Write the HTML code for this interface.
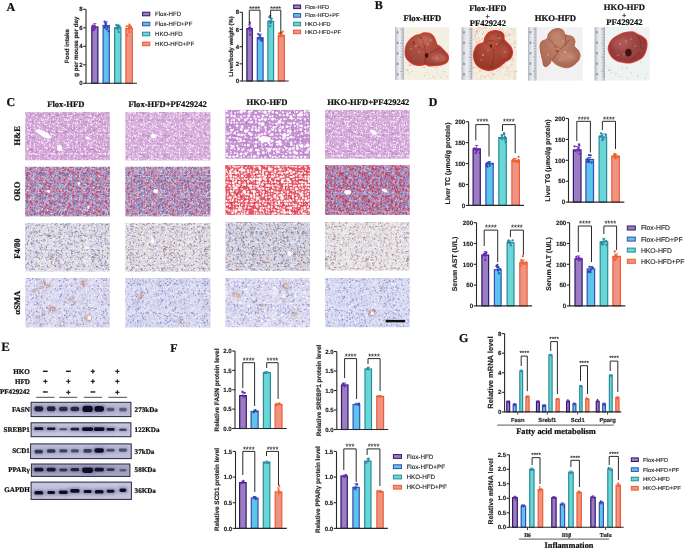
<!DOCTYPE html><html><head><meta charset="utf-8"><title>figure</title><style>html,body{margin:0;padding:0;background:#fff;}body{width:685px;height:548px;overflow:hidden;}svg{display:block;}</style></head><body>
<svg width="685" height="548" viewBox="0 0 685 548" text-rendering="geometricPrecision" style="will-change:transform">
<rect width="685" height="548" fill="#ffffff"/>
<defs>
<filter id="w1" x="0" y="0" width="1" height="1" filterUnits="objectBoundingBox" color-interpolation-filters="sRGB"><feTurbulence type="fractalNoise" baseFrequency="0.75" numOctaves="1" seed="3" result="n"/><feColorMatrix in="n" type="matrix" values="0 0 0 0 0  0 0 0 0 0  0 0 0 0 0  5 0 0 0 -2.85" result="m"/><feGaussianBlur in="m" stdDeviation="0.35" result="mb"/><feComposite in="SourceGraphic" in2="mb" operator="in"/></filter>
<filter id="w2" x="0" y="0" width="1" height="1" filterUnits="objectBoundingBox" color-interpolation-filters="sRGB"><feTurbulence type="fractalNoise" baseFrequency="0.45" numOctaves="1" seed="5" result="n"/><feColorMatrix in="n" type="matrix" values="0 0 0 0 0  0 0 0 0 0  0 0 0 0 0  6 0 0 0 -3.3" result="m"/><feGaussianBlur in="m" stdDeviation="0.4" result="mb"/><feComposite in="SourceGraphic" in2="mb" operator="in"/></filter>
<filter id="w3" x="0" y="0" width="1" height="1" filterUnits="objectBoundingBox" color-interpolation-filters="sRGB"><feTurbulence type="fractalNoise" baseFrequency="0.55" numOctaves="1" seed="9" result="n"/><feColorMatrix in="n" type="matrix" values="0 0 0 0 0  0 0 0 0 0  0 0 0 0 0  5 0 0 0 -2.8" result="m"/><feGaussianBlur in="m" stdDeviation="0.35" result="mb"/><feComposite in="SourceGraphic" in2="mb" operator="in"/></filter>
<filter id="d1" x="0" y="0" width="1" height="1" filterUnits="objectBoundingBox" color-interpolation-filters="sRGB"><feTurbulence type="fractalNoise" baseFrequency="0.8" numOctaves="1" seed="11" result="n"/><feColorMatrix in="n" type="matrix" values="0 0 0 0 0  0 0 0 0 0  0 0 0 0 0  0 5 0 0 -2.8" result="m"/><feGaussianBlur in="m" stdDeviation="0.35" result="mb"/><feComposite in="SourceGraphic" in2="mb" operator="in"/></filter>
<filter id="d2" x="0" y="0" width="1" height="1" filterUnits="objectBoundingBox" color-interpolation-filters="sRGB"><feTurbulence type="fractalNoise" baseFrequency="0.65" numOctaves="1" seed="13" result="n"/><feColorMatrix in="n" type="matrix" values="0 0 0 0 0  0 0 0 0 0  0 0 0 0 0  0 5 0 0 -2.7" result="m"/><feGaussianBlur in="m" stdDeviation="0.4" result="mb"/><feComposite in="SourceGraphic" in2="mb" operator="in"/></filter>
<filter id="r1" x="0" y="0" width="1" height="1" filterUnits="objectBoundingBox" color-interpolation-filters="sRGB"><feTurbulence type="fractalNoise" baseFrequency="0.7" numOctaves="1" seed="17" result="n"/><feColorMatrix in="n" type="matrix" values="0 0 0 0 0  0 0 0 0 0  0 0 0 0 0  0 0 5 0 -2.7" result="m"/><feGaussianBlur in="m" stdDeviation="0.35" result="mb"/><feComposite in="SourceGraphic" in2="mb" operator="in"/></filter>
<filter id="r2" x="0" y="0" width="1" height="1" filterUnits="objectBoundingBox" color-interpolation-filters="sRGB"><feTurbulence type="fractalNoise" baseFrequency="0.5" numOctaves="1" seed="23" result="n"/><feColorMatrix in="n" type="matrix" values="0 0 0 0 0  0 0 0 0 0  0 0 0 0 0  0 0 5 0 -2.3" result="m"/><feGaussianBlur in="m" stdDeviation="0.4" result="mb"/><feComposite in="SourceGraphic" in2="mb" operator="in"/></filter>
<filter id="br" x="0" y="0" width="1" height="1" filterUnits="objectBoundingBox" color-interpolation-filters="sRGB"><feTurbulence type="fractalNoise" baseFrequency="0.25 0.6" numOctaves="1" seed="29" result="n"/><feColorMatrix in="n" type="matrix" values="0 0 0 0 0  0 0 0 0 0  0 0 0 0 0  5 0 0 0 -3.0" result="m"/><feGaussianBlur in="m" stdDeviation="0.45" result="mb"/><feComposite in="SourceGraphic" in2="mb" operator="in"/></filter>
<pattern id="pw" patternUnits="userSpaceOnUse" width="23" height="23"><g fill="#ffffff"><circle cx="13.37" cy="4.48" r="0.74"/><circle cx="21.25" cy="10.74" r="0.62"/><circle cx="4.93" cy="5.1" r="0.47"/><circle cx="15.93" cy="4.88" r="0.74"/><circle cx="1.62" cy="4.45" r="0.39"/><circle cx="17.71" cy="8.43" r="0.54"/><circle cx="7.5" cy="14.66" r="0.51"/><circle cx="4.79" cy="9.89" r="0.47"/><circle cx="2.55" cy="18.94" r="0.62"/><circle cx="15.29" cy="20.3" r="0.51"/><circle cx="8.72" cy="9.73" r="0.51"/><circle cx="15.39" cy="0.15" r="0.54"/><circle cx="15.39" cy="23.15" r="0.54"/><circle cx="12.31" cy="7.95" r="0.36"/><circle cx="16.21" cy="0.22" r="0.58"/><circle cx="16.21" cy="23.22" r="0.58"/><circle cx="3.53" cy="0.8" r="0.42"/><circle cx="1.51" cy="3.47" r="0.62"/><circle cx="16.75" cy="8.34" r="0.61"/><circle cx="10.93" cy="11.46" r="0.7"/><circle cx="7.16" cy="20.01" r="0.63"/><circle cx="15.72" cy="0.14" r="0.38"/><circle cx="15.72" cy="23.14" r="0.38"/><circle cx="0.74" cy="7.95" r="0.73"/><circle cx="23.74" cy="7.95" r="0.73"/><circle cx="20.14" cy="19.29" r="0.4"/><circle cx="16.23" cy="17.81" r="0.67"/><circle cx="18.22" cy="3.23" r="0.42"/><circle cx="18.23" cy="16.98" r="0.71"/><circle cx="10.27" cy="20.46" r="0.41"/><circle cx="22.01" cy="20.34" r="0.49"/><circle cx="1.55" cy="12.62" r="0.63"/><circle cx="8.06" cy="1.32" r="0.46"/><circle cx="18.96" cy="2.08" r="0.72"/><circle cx="5.75" cy="4.7" r="0.39"/><circle cx="-0.44" cy="20.72" r="0.48"/><circle cx="22.56" cy="20.72" r="0.48"/><circle cx="2.2" cy="15.03" r="0.71"/><circle cx="0.28" cy="14.56" r="0.69"/><circle cx="23.28" cy="14.56" r="0.69"/><circle cx="10.55" cy="13.1" r="0.67"/><circle cx="5.49" cy="6.28" r="0.61"/><circle cx="12.7" cy="12.31" r="0.48"/><circle cx="21.55" cy="6.63" r="0.62"/><circle cx="20.57" cy="9.22" r="0.37"/><circle cx="5.07" cy="1.52" r="0.41"/><circle cx="2.77" cy="7.88" r="0.5"/><circle cx="10.29" cy="15.3" r="0.62"/><circle cx="15.81" cy="8.38" r="0.62"/><circle cx="12.65" cy="2.93" r="0.57"/><circle cx="7.32" cy="15.55" r="0.64"/><circle cx="5.54" cy="10.01" r="0.53"/><circle cx="6.83" cy="0.93" r="0.37"/><circle cx="-0.17" cy="17.02" r="0.53"/><circle cx="22.83" cy="17.02" r="0.53"/><circle cx="15.33" cy="6.19" r="0.63"/><circle cx="21.87" cy="17.78" r="0.54"/><circle cx="-0.38" cy="21.21" r="0.37"/><circle cx="22.62" cy="21.21" r="0.37"/><circle cx="9.47" cy="10.4" r="0.46"/><circle cx="14.18" cy="3.3" r="0.65"/><circle cx="19.73" cy="1.42" r="0.63"/><circle cx="6.12" cy="14.68" r="0.63"/><circle cx="-0.54" cy="18.36" r="0.49"/><circle cx="22.46" cy="18.36" r="0.49"/><circle cx="16.79" cy="3.38" r="0.64"/><circle cx="9.59" cy="6.1" r="0.45"/><circle cx="4.99" cy="18.32" r="0.39"/><circle cx="5.34" cy="4.42" r="0.41"/></g></pattern>
<pattern id="pw2" patternUnits="userSpaceOnUse" width="19" height="19"><g fill="#ffffff"><circle cx="14.51" cy="12.25" r="0.49"/><circle cx="3.76" cy="12.86" r="0.69"/><circle cx="8.13" cy="16.17" r="0.36"/><circle cx="10.03" cy="3.83" r="0.52"/><circle cx="11.61" cy="16.26" r="0.53"/><circle cx="16.51" cy="6.21" r="0.39"/><circle cx="8.83" cy="13.59" r="0.6"/><circle cx="0.7" cy="4.72" r="0.44"/><circle cx="19.7" cy="4.72" r="0.44"/><circle cx="8.96" cy="16.37" r="0.44"/><circle cx="0.87" cy="17.06" r="0.65"/><circle cx="14.64" cy="0.74" r="0.44"/><circle cx="3.36" cy="17.38" r="0.39"/><circle cx="2.42" cy="4.19" r="0.63"/><circle cx="3.76" cy="-0.32" r="0.46"/><circle cx="3.76" cy="18.68" r="0.46"/><circle cx="12.35" cy="3.65" r="0.45"/><circle cx="16.44" cy="-0.05" r="0.43"/><circle cx="16.44" cy="18.95" r="0.43"/><circle cx="6.64" cy="1.09" r="0.42"/><circle cx="7.3" cy="9.9" r="0.55"/><circle cx="6.64" cy="3" r="0.54"/><circle cx="6.63" cy="6.56" r="0.69"/><circle cx="11.16" cy="0.29" r="0.68"/><circle cx="11.16" cy="19.29" r="0.68"/><circle cx="-0.58" cy="7.41" r="0.69"/><circle cx="18.42" cy="7.41" r="0.69"/><circle cx="2" cy="17.45" r="0.41"/><circle cx="16.42" cy="12.87" r="0.69"/><circle cx="5.74" cy="12.42" r="0.68"/><circle cx="2.45" cy="3.52" r="0.54"/><circle cx="2.54" cy="1.04" r="0.36"/><circle cx="6.59" cy="12.35" r="0.51"/><circle cx="11.48" cy="0.5" r="0.39"/><circle cx="11.48" cy="19.5" r="0.39"/><circle cx="10.74" cy="2.98" r="0.35"/><circle cx="1.17" cy="12.39" r="0.69"/><circle cx="9.43" cy="0.12" r="0.42"/><circle cx="9.43" cy="19.12" r="0.42"/><circle cx="12.94" cy="15.06" r="0.42"/><circle cx="8.88" cy="0.69" r="0.54"/><circle cx="8.88" cy="19.69" r="0.54"/><circle cx="14.37" cy="9.49" r="0.62"/><circle cx="4.45" cy="12.65" r="0.51"/><circle cx="11.47" cy="1.38" r="0.51"/><circle cx="11.78" cy="4.45" r="0.54"/><circle cx="0.37" cy="7.94" r="0.68"/><circle cx="19.37" cy="7.94" r="0.68"/><circle cx="12.29" cy="9.62" r="0.65"/></g></pattern>
<pattern id="pwl" patternUnits="userSpaceOnUse" width="28" height="28"><g fill="#ffffff"><circle cx="1" cy="6.46" r="1.56"/><circle cx="29" cy="6.46" r="1.56"/><circle cx="1.79" cy="8.5" r="1.16"/><circle cx="2.55" cy="11.65" r="1.26"/><circle cx="1.98" cy="14.82" r="1.14"/><circle cx="2.79" cy="20.04" r="1.36"/><circle cx="2.82" cy="22.09" r="1.1"/><circle cx="1.97" cy="-1.03" r="1.38"/><circle cx="1.97" cy="26.97" r="1.38"/><circle cx="5.75" cy="2.13" r="1.04"/><circle cx="6.45" cy="5.82" r="1.6"/><circle cx="6.17" cy="9.38" r="1.46"/><circle cx="4.34" cy="13.08" r="1.11"/><circle cx="6.23" cy="15.73" r="1.05"/><circle cx="6.17" cy="20.09" r="1.6"/><circle cx="6" cy="22.71" r="0.99"/><circle cx="4.12" cy="-0.65" r="1.33"/><circle cx="4.12" cy="27.35" r="1.33"/><circle cx="7.93" cy="2.28" r="0.9"/><circle cx="7.79" cy="4.36" r="1.04"/><circle cx="7.59" cy="9.62" r="1.32"/><circle cx="9.28" cy="11.18" r="1.04"/><circle cx="9.62" cy="16.18" r="0.88"/><circle cx="7.9" cy="18.48" r="1.28"/><circle cx="8.04" cy="26.13" r="1.11"/><circle cx="11.86" cy="1.7" r="1.34"/><circle cx="12.32" cy="4.75" r="1.15"/><circle cx="12.26" cy="11.42" r="1.09"/><circle cx="12.22" cy="16.07" r="1.04"/><circle cx="11.39" cy="20.28" r="1.11"/><circle cx="11.85" cy="23.84" r="1.37"/><circle cx="13.45" cy="26.16" r="1.45"/><circle cx="15.15" cy="4.84" r="1.35"/><circle cx="15.88" cy="8.31" r="1.14"/><circle cx="14.59" cy="11.08" r="1.33"/><circle cx="15.19" cy="18.09" r="1.14"/><circle cx="16.63" cy="21.63" r="1.59"/><circle cx="16.63" cy="25.46" r="1.09"/><circle cx="19.83" cy="2.28" r="1.06"/><circle cx="19.81" cy="5.77" r="1.17"/><circle cx="19.37" cy="9.43" r="1.54"/><circle cx="20.28" cy="18.83" r="1.13"/><circle cx="19.37" cy="22.63" r="1.46"/><circle cx="19.9" cy="25.36" r="1.41"/><circle cx="22.77" cy="0.86" r="1.5"/><circle cx="22.77" cy="28.86" r="1.5"/><circle cx="23.4" cy="5.3" r="0.86"/><circle cx="23.36" cy="7.77" r="0.98"/><circle cx="22.64" cy="12.42" r="1.16"/><circle cx="21.84" cy="22.52" r="1.14"/><circle cx="21.6" cy="-1.34" r="1.04"/><circle cx="21.6" cy="26.66" r="1.04"/><circle cx="25.86" cy="0.71" r="1.39"/><circle cx="25.86" cy="28.71" r="1.39"/><circle cx="25.82" cy="7.8" r="1.29"/><circle cx="-0.55" cy="11.55" r="0.92"/><circle cx="27.45" cy="11.55" r="0.92"/><circle cx="25.69" cy="16.06" r="1.27"/><circle cx="-1.52" cy="20.01" r="0.99"/><circle cx="26.48" cy="20.01" r="0.99"/><circle cx="26.21" cy="23.39" r="1.33"/><circle cx="26.01" cy="-1.47" r="0.99"/><circle cx="26.01" cy="26.53" r="0.99"/></g></pattern>
<pattern id="pp" patternUnits="userSpaceOnUse" width="21" height="21"><g fill="#a062bc"><circle cx="1.84" cy="8.52" r="0.3"/><circle cx="1.96" cy="12.53" r="0.4"/><circle cx="8.32" cy="2.1" r="0.56"/><circle cx="14.02" cy="10.08" r="0.46"/><circle cx="3.76" cy="12.3" r="0.52"/><circle cx="3.86" cy="2.97" r="0.45"/><circle cx="2.78" cy="8.58" r="0.38"/><circle cx="0.96" cy="7.13" r="0.54"/><circle cx="11.47" cy="4.37" r="0.32"/><circle cx="1.98" cy="-0.21" r="0.53"/><circle cx="1.98" cy="20.79" r="0.53"/><circle cx="12.65" cy="11.49" r="0.56"/><circle cx="2.32" cy="16.37" r="0.55"/><circle cx="6.22" cy="15.34" r="0.4"/><circle cx="13.92" cy="5.29" r="0.36"/><circle cx="-0.32" cy="4.45" r="0.37"/><circle cx="20.68" cy="4.45" r="0.37"/><circle cx="5.42" cy="10.63" r="0.36"/><circle cx="0.9" cy="7.44" r="0.44"/><circle cx="0.24" cy="-0.3" r="0.33"/><circle cx="0.24" cy="20.7" r="0.33"/><circle cx="21.24" cy="-0.3" r="0.33"/><circle cx="21.24" cy="20.7" r="0.33"/><circle cx="10.79" cy="20.29" r="0.54"/><circle cx="18.66" cy="19.87" r="0.5"/><circle cx="11.58" cy="11.94" r="0.38"/><circle cx="19.72" cy="9.83" r="0.51"/><circle cx="3.92" cy="1.8" r="0.47"/><circle cx="-0.4" cy="9.01" r="0.38"/><circle cx="20.6" cy="9.01" r="0.38"/><circle cx="8.58" cy="-0.41" r="0.37"/><circle cx="8.58" cy="20.59" r="0.37"/><circle cx="8.62" cy="14.57" r="0.38"/><circle cx="9.89" cy="4.4" r="0.54"/><circle cx="2.01" cy="2.85" r="0.42"/><circle cx="15.96" cy="16.65" r="0.58"/><circle cx="9.05" cy="2.3" r="0.45"/><circle cx="15.71" cy="9.79" r="0.5"/><circle cx="9.87" cy="11.02" r="0.57"/><circle cx="8.17" cy="11.03" r="0.44"/><circle cx="-0.52" cy="19.2" r="0.41"/><circle cx="20.48" cy="19.2" r="0.41"/><circle cx="9.38" cy="7.73" r="0.33"/><circle cx="8.87" cy="12.44" r="0.41"/><circle cx="10.76" cy="3.15" r="0.57"/><circle cx="14.69" cy="0.3" r="0.39"/><circle cx="14.69" cy="21.3" r="0.39"/><circle cx="14.87" cy="18.61" r="0.48"/><circle cx="1.63" cy="11.08" r="0.31"/><circle cx="2.98" cy="5.24" r="0.49"/><circle cx="7.03" cy="2.59" r="0.45"/><circle cx="15.29" cy="5.16" r="0.54"/><circle cx="0.1" cy="10.45" r="0.3"/><circle cx="21.1" cy="10.45" r="0.3"/><circle cx="14.93" cy="4.74" r="0.57"/><circle cx="17.04" cy="8.28" r="0.31"/><circle cx="2.97" cy="20.13" r="0.45"/><circle cx="17.9" cy="19.09" r="0.38"/><circle cx="14.3" cy="11.24" r="0.47"/><circle cx="7.37" cy="8.92" r="0.59"/><circle cx="15.03" cy="10.67" r="0.42"/><circle cx="8.6" cy="9.36" r="0.5"/><circle cx="13.05" cy="15.86" r="0.54"/><circle cx="3.35" cy="15.74" r="0.48"/><circle cx="9.78" cy="16.4" r="0.6"/><circle cx="12.36" cy="5.81" r="0.33"/><circle cx="12.48" cy="4.62" r="0.47"/><circle cx="-0.43" cy="18.28" r="0.35"/><circle cx="20.57" cy="18.28" r="0.35"/><circle cx="4.12" cy="12.79" r="0.35"/><circle cx="3.26" cy="5.06" r="0.45"/><circle cx="10.64" cy="5.14" r="0.33"/><circle cx="11.69" cy="3.61" r="0.38"/><circle cx="19.53" cy="-0.02" r="0.3"/><circle cx="19.53" cy="20.98" r="0.3"/><circle cx="17.63" cy="14.23" r="0.59"/><circle cx="14.57" cy="6.55" r="0.46"/><circle cx="11.29" cy="14.99" r="0.45"/><circle cx="11.76" cy="17.32" r="0.49"/><circle cx="12.08" cy="18.26" r="0.43"/><circle cx="5.59" cy="2.97" r="0.47"/><circle cx="6.5" cy="16.71" r="0.44"/></g></pattern>
<pattern id="pp2" patternUnits="userSpaceOnUse" width="17" height="17"><g fill="#8450b0"><circle cx="2.54" cy="14.35" r="0.37"/><circle cx="11.93" cy="5" r="0.5"/><circle cx="10.96" cy="1.03" r="0.54"/><circle cx="14.33" cy="6.88" r="0.43"/><circle cx="12.27" cy="12.69" r="0.51"/><circle cx="-0.54" cy="15.86" r="0.36"/><circle cx="16.46" cy="15.86" r="0.36"/><circle cx="0.34" cy="4.77" r="0.35"/><circle cx="17.34" cy="4.77" r="0.35"/><circle cx="12.97" cy="13.11" r="0.54"/><circle cx="14.57" cy="13.21" r="0.55"/><circle cx="12.61" cy="6.49" r="0.5"/><circle cx="13.98" cy="5.3" r="0.36"/><circle cx="3.15" cy="1.23" r="0.48"/><circle cx="-0.05" cy="13.67" r="0.45"/><circle cx="16.95" cy="13.67" r="0.45"/><circle cx="15.45" cy="6.84" r="0.39"/><circle cx="0.13" cy="2.9" r="0.47"/><circle cx="17.13" cy="2.9" r="0.47"/><circle cx="7.12" cy="-0.54" r="0.3"/><circle cx="7.12" cy="16.46" r="0.3"/><circle cx="14.78" cy="13.82" r="0.46"/><circle cx="10.54" cy="10.87" r="0.32"/><circle cx="6.68" cy="16.35" r="0.43"/><circle cx="1.91" cy="7.61" r="0.32"/><circle cx="11.5" cy="5.77" r="0.55"/><circle cx="15.84" cy="9.43" r="0.34"/><circle cx="8.48" cy="13.25" r="0.33"/><circle cx="4.45" cy="6.5" r="0.5"/><circle cx="3.07" cy="4.77" r="0.51"/><circle cx="4.7" cy="12.29" r="0.32"/><circle cx="8.26" cy="2.07" r="0.44"/><circle cx="2.97" cy="1.9" r="0.53"/><circle cx="12.3" cy="8.79" r="0.31"/><circle cx="8.19" cy="0.01" r="0.5"/><circle cx="8.19" cy="17.01" r="0.5"/><circle cx="8.48" cy="2.26" r="0.41"/><circle cx="14.35" cy="15.71" r="0.43"/><circle cx="10.9" cy="6.38" r="0.48"/><circle cx="7.48" cy="15.35" r="0.46"/><circle cx="2.23" cy="6.59" r="0.52"/><circle cx="2.5" cy="10.11" r="0.46"/><circle cx="3.06" cy="6.76" r="0.34"/><circle cx="0.73" cy="7.89" r="0.3"/><circle cx="2.76" cy="8.75" r="0.43"/><circle cx="5.29" cy="4.82" r="0.4"/></g></pattern>
<pattern id="pb" patternUnits="userSpaceOnUse" width="23" height="23"><g fill="#5464b0"><circle cx="16.91" cy="1.3" r="0.58"/><circle cx="15.18" cy="3.07" r="0.52"/><circle cx="3.76" cy="20.58" r="0.58"/><circle cx="0.43" cy="17.28" r="0.49"/><circle cx="23.43" cy="17.28" r="0.49"/><circle cx="2.24" cy="8.96" r="0.5"/><circle cx="21.92" cy="1.59" r="0.43"/><circle cx="17.81" cy="12.91" r="0.4"/><circle cx="9.88" cy="14.08" r="0.46"/><circle cx="17.29" cy="2.97" r="0.66"/><circle cx="13.24" cy="1.71" r="0.54"/><circle cx="-0.3" cy="8.36" r="0.38"/><circle cx="22.7" cy="8.36" r="0.38"/><circle cx="8.26" cy="1.7" r="0.37"/><circle cx="17.85" cy="21.48" r="0.46"/><circle cx="22.1" cy="11.46" r="0.46"/><circle cx="14.95" cy="22.18" r="0.57"/><circle cx="13.91" cy="11.55" r="0.36"/><circle cx="19.71" cy="10.47" r="0.61"/><circle cx="13.68" cy="11.98" r="0.47"/><circle cx="1.57" cy="9.8" r="0.54"/><circle cx="19.74" cy="3.2" r="0.62"/><circle cx="5.35" cy="17.82" r="0.63"/><circle cx="0.09" cy="-0.05" r="0.6"/><circle cx="0.09" cy="22.95" r="0.6"/><circle cx="23.09" cy="-0.05" r="0.6"/><circle cx="23.09" cy="22.95" r="0.6"/><circle cx="10.77" cy="12.88" r="0.48"/><circle cx="9.61" cy="2" r="0.56"/><circle cx="18.34" cy="9.47" r="0.5"/><circle cx="20.96" cy="8.21" r="0.38"/><circle cx="8.21" cy="14.92" r="0.49"/><circle cx="15.84" cy="19.06" r="0.58"/><circle cx="15.27" cy="17.12" r="0.67"/><circle cx="0.24" cy="0.65" r="0.65"/><circle cx="0.24" cy="23.65" r="0.65"/><circle cx="23.24" cy="0.65" r="0.65"/><circle cx="23.24" cy="23.65" r="0.65"/><circle cx="20.66" cy="1.47" r="0.42"/><circle cx="11.37" cy="1.25" r="0.57"/><circle cx="4.46" cy="15.21" r="0.37"/><circle cx="11.57" cy="9.97" r="0.39"/><circle cx="12.47" cy="11.19" r="0.63"/><circle cx="6.62" cy="16.28" r="0.57"/><circle cx="12.28" cy="17.1" r="0.62"/><circle cx="17.29" cy="17.49" r="0.58"/><circle cx="13.02" cy="8.84" r="0.43"/><circle cx="3.56" cy="20.1" r="0.6"/><circle cx="13.17" cy="20.36" r="0.45"/><circle cx="1.08" cy="9.05" r="0.69"/><circle cx="11.49" cy="17.73" r="0.68"/><circle cx="20.15" cy="13.61" r="0.67"/><circle cx="9.49" cy="18.98" r="0.48"/><circle cx="8.09" cy="12.96" r="0.53"/><circle cx="14.49" cy="16.57" r="0.65"/><circle cx="15.26" cy="17.45" r="0.37"/><circle cx="11.03" cy="1.71" r="0.51"/><circle cx="5.51" cy="1.49" r="0.51"/><circle cx="18.13" cy="9.29" r="0.67"/><circle cx="3.02" cy="0.89" r="0.38"/><circle cx="13.73" cy="-0.14" r="0.67"/><circle cx="13.73" cy="22.86" r="0.67"/><circle cx="4.34" cy="14.92" r="0.42"/><circle cx="2.16" cy="19.5" r="0.51"/><circle cx="0.88" cy="8.17" r="0.55"/><circle cx="20.25" cy="18.47" r="0.53"/><circle cx="-0.33" cy="7.94" r="0.68"/><circle cx="22.67" cy="7.94" r="0.68"/><circle cx="19" cy="10.85" r="0.46"/><circle cx="11.06" cy="11.67" r="0.68"/><circle cx="12.79" cy="18.56" r="0.63"/><circle cx="12.64" cy="20.18" r="0.67"/><circle cx="4.21" cy="-0.47" r="0.53"/><circle cx="4.21" cy="22.53" r="0.53"/><circle cx="10.93" cy="11.66" r="0.52"/><circle cx="20.79" cy="5.7" r="0.42"/><circle cx="6.73" cy="8.93" r="0.38"/><circle cx="12.38" cy="0.3" r="0.48"/><circle cx="12.38" cy="23.3" r="0.48"/><circle cx="12.9" cy="3.38" r="0.68"/><circle cx="12.17" cy="21.17" r="0.57"/><circle cx="19.15" cy="15.92" r="0.4"/><circle cx="0.3" cy="7.4" r="0.41"/><circle cx="23.3" cy="7.4" r="0.41"/><circle cx="7.73" cy="14.81" r="0.49"/><circle cx="13.45" cy="8.33" r="0.65"/><circle cx="20.25" cy="18.92" r="0.58"/><circle cx="7.52" cy="22.09" r="0.43"/></g></pattern>
<pattern id="pr" patternUnits="userSpaceOnUse" width="19" height="19"><g fill="#d42a3a"><circle cx="0.34" cy="12.02" r="0.41"/><circle cx="19.34" cy="12.02" r="0.41"/><circle cx="14.22" cy="8.81" r="0.3"/><circle cx="16.82" cy="10.02" r="0.57"/><circle cx="17.48" cy="2.13" r="0.45"/><circle cx="12.06" cy="5.31" r="0.44"/><circle cx="16.44" cy="11.37" r="0.39"/><circle cx="12.29" cy="5.21" r="0.51"/><circle cx="8.44" cy="10.5" r="0.43"/><circle cx="11.65" cy="9.4" r="0.33"/><circle cx="11.77" cy="8.63" r="0.45"/><circle cx="16" cy="11.62" r="0.46"/><circle cx="0.17" cy="11.94" r="0.41"/><circle cx="19.17" cy="11.94" r="0.41"/><circle cx="11.43" cy="0.11" r="0.47"/><circle cx="11.43" cy="19.11" r="0.47"/><circle cx="8.83" cy="15.45" r="0.32"/><circle cx="5.73" cy="3.01" r="0.6"/><circle cx="10.19" cy="16.39" r="0.47"/><circle cx="3.79" cy="17.49" r="0.47"/><circle cx="8.36" cy="15.31" r="0.33"/><circle cx="16.57" cy="14.42" r="0.3"/><circle cx="16.33" cy="11.96" r="0.61"/><circle cx="10.24" cy="12.75" r="0.56"/><circle cx="14.09" cy="11.31" r="0.39"/><circle cx="4.3" cy="6.97" r="0.48"/><circle cx="6.8" cy="11.42" r="0.46"/><circle cx="3.8" cy="0.72" r="0.41"/><circle cx="16.3" cy="6.57" r="0.33"/><circle cx="1.36" cy="-0.04" r="0.31"/><circle cx="1.36" cy="18.96" r="0.31"/><circle cx="1.67" cy="1.22" r="0.61"/><circle cx="1.99" cy="2.85" r="0.42"/><circle cx="12.93" cy="-0.12" r="0.59"/><circle cx="12.93" cy="18.88" r="0.59"/><circle cx="5.54" cy="12.44" r="0.33"/><circle cx="13.94" cy="0.86" r="0.39"/><circle cx="4.34" cy="17.65" r="0.41"/><circle cx="8.21" cy="5.48" r="0.46"/><circle cx="5.56" cy="14.52" r="0.37"/><circle cx="10.25" cy="13.78" r="0.56"/><circle cx="7.12" cy="7.46" r="0.55"/><circle cx="0.03" cy="13.28" r="0.34"/><circle cx="19.03" cy="13.28" r="0.34"/><circle cx="5.67" cy="0.1" r="0.52"/><circle cx="5.67" cy="19.1" r="0.52"/><circle cx="0.52" cy="5.39" r="0.56"/><circle cx="19.52" cy="5.39" r="0.56"/><circle cx="17.07" cy="17.3" r="0.31"/><circle cx="9.22" cy="5.63" r="0.45"/><circle cx="10.25" cy="8.03" r="0.49"/><circle cx="4.7" cy="16.98" r="0.36"/><circle cx="10.29" cy="8.73" r="0.52"/><circle cx="13.65" cy="0.94" r="0.6"/><circle cx="0.5" cy="6.34" r="0.33"/><circle cx="19.5" cy="6.34" r="0.33"/><circle cx="-0.24" cy="4.96" r="0.56"/><circle cx="18.76" cy="4.96" r="0.56"/><circle cx="14.03" cy="7.86" r="0.5"/><circle cx="17.44" cy="9.25" r="0.33"/><circle cx="10.27" cy="8.53" r="0.56"/><circle cx="14.22" cy="8.03" r="0.33"/><circle cx="0.49" cy="0.91" r="0.61"/><circle cx="19.49" cy="0.91" r="0.61"/><circle cx="1.94" cy="7.55" r="0.58"/><circle cx="15.51" cy="15.25" r="0.54"/><circle cx="14.26" cy="6.97" r="0.41"/><circle cx="3.12" cy="8.8" r="0.48"/><circle cx="18.19" cy="14.89" r="0.56"/><circle cx="2.1" cy="8.77" r="0.46"/><circle cx="13.24" cy="9.86" r="0.52"/></g></pattern>
<pattern id="pr2" patternUnits="userSpaceOnUse" width="23" height="23"><g fill="#e0283a"><circle cx="8.38" cy="14.95" r="0.76"/><circle cx="10.12" cy="21.56" r="0.52"/><circle cx="8.07" cy="11.2" r="0.52"/><circle cx="12.29" cy="18" r="0.41"/><circle cx="1.57" cy="17.53" r="0.42"/><circle cx="2.43" cy="21.77" r="0.51"/><circle cx="6.26" cy="13" r="0.44"/><circle cx="13.56" cy="-0.76" r="0.42"/><circle cx="13.56" cy="22.24" r="0.42"/><circle cx="16.82" cy="19.12" r="0.76"/><circle cx="13.08" cy="11.66" r="0.87"/><circle cx="17.73" cy="18.19" r="0.64"/><circle cx="0.21" cy="5.39" r="0.86"/><circle cx="23.21" cy="5.39" r="0.86"/><circle cx="17.52" cy="14.24" r="0.85"/><circle cx="21.89" cy="11.75" r="0.87"/><circle cx="2.47" cy="11.8" r="0.61"/><circle cx="13.58" cy="3.18" r="0.67"/><circle cx="9.75" cy="4.47" r="0.66"/><circle cx="14.78" cy="13.04" r="0.4"/><circle cx="12.55" cy="20.99" r="0.64"/><circle cx="10.72" cy="16.84" r="0.45"/><circle cx="7.12" cy="18.23" r="0.74"/><circle cx="13.79" cy="19.28" r="0.89"/><circle cx="14.17" cy="8.45" r="0.81"/><circle cx="12.31" cy="10.12" r="0.55"/><circle cx="11.02" cy="-0.18" r="0.81"/><circle cx="11.02" cy="22.82" r="0.81"/><circle cx="8.22" cy="9.51" r="0.49"/><circle cx="4.73" cy="2.85" r="0.82"/><circle cx="17.1" cy="4.2" r="0.44"/><circle cx="16.75" cy="13" r="0.75"/><circle cx="3.01" cy="5.69" r="0.9"/><circle cx="0.1" cy="13.24" r="0.41"/><circle cx="23.1" cy="13.24" r="0.41"/><circle cx="2.18" cy="2.14" r="0.65"/><circle cx="13.83" cy="4.11" r="0.71"/><circle cx="16.39" cy="20.76" r="0.73"/><circle cx="3.42" cy="11.32" r="0.89"/><circle cx="8.59" cy="14" r="0.56"/><circle cx="0.4" cy="11.65" r="0.51"/><circle cx="23.4" cy="11.65" r="0.51"/><circle cx="-0.27" cy="10.89" r="0.85"/><circle cx="22.73" cy="10.89" r="0.85"/><circle cx="18.6" cy="8.21" r="0.58"/><circle cx="3.96" cy="2.61" r="0.81"/><circle cx="0.9" cy="6.06" r="0.6"/><circle cx="16.31" cy="6.87" r="0.41"/><circle cx="5.86" cy="13.85" r="0.81"/><circle cx="4.38" cy="11.05" r="0.5"/><circle cx="9.37" cy="0.73" r="0.82"/><circle cx="9.37" cy="23.73" r="0.82"/><circle cx="12" cy="4.13" r="0.6"/><circle cx="5.75" cy="19.89" r="0.53"/><circle cx="0.24" cy="6.08" r="0.43"/><circle cx="23.24" cy="6.08" r="0.43"/><circle cx="13.64" cy="6.75" r="0.81"/><circle cx="15.83" cy="6.12" r="0.51"/><circle cx="7.79" cy="19.88" r="0.74"/><circle cx="7.72" cy="3.97" r="0.77"/><circle cx="21.61" cy="21.2" r="0.73"/><circle cx="-0.1" cy="11.85" r="0.82"/><circle cx="22.9" cy="11.85" r="0.82"/><circle cx="20.06" cy="4.9" r="0.89"/><circle cx="17.95" cy="0.79" r="0.7"/><circle cx="17.95" cy="23.79" r="0.7"/><circle cx="20.33" cy="17.23" r="0.74"/><circle cx="12.74" cy="6.1" r="0.67"/><circle cx="16.04" cy="11.21" r="0.68"/><circle cx="8.21" cy="21" r="0.61"/><circle cx="11.15" cy="2.95" r="0.52"/><circle cx="3.27" cy="2.15" r="0.48"/><circle cx="5.85" cy="1.13" r="0.72"/><circle cx="9.36" cy="16.83" r="0.65"/><circle cx="18.14" cy="20.58" r="0.79"/><circle cx="12.96" cy="19.39" r="0.81"/><circle cx="1.11" cy="1.74" r="0.42"/><circle cx="12.75" cy="5.46" r="0.86"/><circle cx="8.17" cy="17.47" r="0.87"/><circle cx="13.53" cy="1.86" r="0.55"/><circle cx="14.17" cy="16.72" r="0.52"/><circle cx="13.02" cy="7.36" r="0.83"/><circle cx="20.55" cy="0.34" r="0.82"/><circle cx="20.55" cy="23.34" r="0.82"/><circle cx="21.34" cy="15.98" r="0.68"/><circle cx="9.14" cy="15.27" r="0.69"/><circle cx="5.44" cy="2.28" r="0.59"/><circle cx="6.04" cy="11.43" r="0.69"/><circle cx="10.13" cy="15.12" r="0.66"/><circle cx="10.03" cy="0.81" r="0.65"/><circle cx="10.03" cy="23.81" r="0.65"/><circle cx="15.28" cy="11.46" r="0.4"/><circle cx="15.74" cy="7.7" r="0.58"/><circle cx="14.62" cy="13.15" r="0.63"/><circle cx="2.24" cy="13.85" r="0.88"/><circle cx="9.31" cy="2.83" r="0.82"/><circle cx="-0.6" cy="12.54" r="0.45"/><circle cx="22.4" cy="12.54" r="0.45"/><circle cx="18.8" cy="14.61" r="0.83"/><circle cx="7.9" cy="8.9" r="0.48"/><circle cx="16.59" cy="11.45" r="0.74"/><circle cx="9.17" cy="16.48" r="0.83"/><circle cx="11.14" cy="3.93" r="0.51"/><circle cx="8.39" cy="17.48" r="0.42"/><circle cx="4.59" cy="15.28" r="0.51"/><circle cx="4.59" cy="18.2" r="0.7"/><circle cx="15.67" cy="6.69" r="0.55"/><circle cx="4.79" cy="2.8" r="0.64"/><circle cx="17.39" cy="4.59" r="0.72"/><circle cx="4.58" cy="3.45" r="0.52"/><circle cx="16.38" cy="21.64" r="0.62"/><circle cx="0.95" cy="5.28" r="0.42"/><circle cx="5.79" cy="11.24" r="0.69"/><circle cx="4.57" cy="12.04" r="0.73"/><circle cx="8.84" cy="15.02" r="0.46"/><circle cx="6.9" cy="19.03" r="0.86"/><circle cx="12.8" cy="0.93" r="0.48"/><circle cx="21.31" cy="21.72" r="0.63"/><circle cx="2.77" cy="0.76" r="0.84"/><circle cx="2.77" cy="23.76" r="0.84"/><circle cx="13.24" cy="6.29" r="0.51"/><circle cx="20.36" cy="1.53" r="0.79"/><circle cx="4.42" cy="12.36" r="0.84"/><circle cx="13.26" cy="17.87" r="0.72"/></g></pattern>
<pattern id="pnb" patternUnits="userSpaceOnUse" width="37" height="37"><g fill="#7585cf"><circle cx="7.62" cy="14.71" r="0.69"/><circle cx="8.76" cy="28.23" r="0.54"/><circle cx="13.88" cy="-0.28" r="0.6"/><circle cx="13.88" cy="36.72" r="0.6"/><circle cx="8.77" cy="22.94" r="0.69"/><circle cx="34.87" cy="2.38" r="0.63"/><circle cx="14.4" cy="8.67" r="0.69"/><circle cx="19.51" cy="1.67" r="0.73"/><circle cx="21.4" cy="13.56" r="0.49"/><circle cx="33.52" cy="9.88" r="0.51"/><circle cx="25.05" cy="5.05" r="0.54"/><circle cx="29.2" cy="9.75" r="0.46"/><circle cx="19.12" cy="24.52" r="0.49"/><circle cx="22.82" cy="4.77" r="0.45"/><circle cx="12.66" cy="7.42" r="0.53"/><circle cx="29.08" cy="0.68" r="0.62"/><circle cx="29.08" cy="37.68" r="0.62"/><circle cx="14.61" cy="10.32" r="0.53"/><circle cx="24.01" cy="18.7" r="0.46"/><circle cx="18.08" cy="31.48" r="0.55"/><circle cx="7.09" cy="5.72" r="0.7"/><circle cx="20.45" cy="3.53" r="0.47"/><circle cx="-0.6" cy="15.05" r="0.55"/><circle cx="36.4" cy="15.05" r="0.55"/><circle cx="29.21" cy="11.86" r="0.74"/><circle cx="17.86" cy="11.46" r="0.46"/><circle cx="25.24" cy="4.82" r="0.53"/><circle cx="17.35" cy="12.81" r="0.74"/><circle cx="21.85" cy="30.07" r="0.52"/><circle cx="31.5" cy="27.5" r="0.48"/><circle cx="20.89" cy="2.72" r="0.46"/><circle cx="26.68" cy="30.75" r="0.59"/><circle cx="27.25" cy="10.84" r="0.57"/><circle cx="28.11" cy="21.7" r="0.66"/><circle cx="23.77" cy="24.82" r="0.48"/><circle cx="18.37" cy="9.8" r="0.53"/><circle cx="10.07" cy="10.65" r="0.48"/><circle cx="7.77" cy="10.08" r="0.58"/><circle cx="12.4" cy="12.49" r="0.6"/><circle cx="7.75" cy="22.63" r="0.48"/><circle cx="27.52" cy="5.35" r="0.61"/><circle cx="5.37" cy="24.35" r="0.64"/><circle cx="15.81" cy="17.18" r="0.53"/><circle cx="9" cy="20.37" r="0.69"/><circle cx="21.8" cy="0.98" r="0.67"/><circle cx="1.05" cy="4.75" r="0.73"/><circle cx="16.3" cy="7.88" r="0.58"/><circle cx="21.61" cy="18.98" r="0.5"/><circle cx="35.84" cy="26.47" r="0.64"/><circle cx="9.41" cy="29.05" r="0.68"/><circle cx="24.89" cy="16.93" r="0.55"/><circle cx="9.37" cy="19.28" r="0.71"/><circle cx="12.06" cy="1.55" r="0.69"/><circle cx="20.68" cy="25.9" r="0.53"/><circle cx="23.72" cy="9.14" r="0.72"/><circle cx="16.16" cy="29.42" r="0.5"/><circle cx="21.76" cy="8.2" r="0.7"/><circle cx="25.5" cy="22.35" r="0.68"/><circle cx="0.5" cy="6.22" r="0.5"/><circle cx="37.5" cy="6.22" r="0.5"/><circle cx="12.88" cy="12.26" r="0.68"/><circle cx="3" cy="5.72" r="0.65"/><circle cx="11.77" cy="22.26" r="0.58"/><circle cx="0.56" cy="23.01" r="0.45"/><circle cx="37.56" cy="23.01" r="0.45"/><circle cx="21.78" cy="12.59" r="0.65"/><circle cx="12.9" cy="35.66" r="0.7"/><circle cx="23.82" cy="26.77" r="0.72"/><circle cx="26.88" cy="9.28" r="0.69"/><circle cx="4.44" cy="7.45" r="0.5"/><circle cx="15.19" cy="14.01" r="0.72"/><circle cx="31.37" cy="4.78" r="0.57"/><circle cx="34.87" cy="18.04" r="0.59"/><circle cx="34.11" cy="8.44" r="0.53"/><circle cx="24.85" cy="22.11" r="0.51"/><circle cx="17.61" cy="32.3" r="0.74"/><circle cx="9.23" cy="20.58" r="0.49"/><circle cx="21.07" cy="32.1" r="0.74"/><circle cx="-0.27" cy="4.34" r="0.71"/><circle cx="36.73" cy="4.34" r="0.71"/><circle cx="0.74" cy="6.76" r="0.47"/><circle cx="37.74" cy="6.76" r="0.47"/><circle cx="8.42" cy="30.65" r="0.74"/><circle cx="2.37" cy="5" r="0.52"/><circle cx="20.31" cy="1.71" r="0.49"/><circle cx="6.46" cy="10.78" r="0.51"/><circle cx="3.55" cy="22.68" r="0.71"/><circle cx="6.98" cy="15.74" r="0.48"/><circle cx="12.42" cy="23.83" r="0.68"/><circle cx="32.67" cy="4.79" r="0.52"/><circle cx="14.93" cy="19.9" r="0.62"/><circle cx="0.1" cy="10.02" r="0.56"/><circle cx="37.1" cy="10.02" r="0.56"/><circle cx="21.36" cy="13.64" r="0.52"/><circle cx="16.07" cy="28.12" r="0.71"/><circle cx="16.65" cy="33.39" r="0.51"/><circle cx="27.22" cy="24.59" r="0.49"/><circle cx="29.89" cy="15.84" r="0.67"/><circle cx="22.8" cy="-0.32" r="0.67"/><circle cx="22.8" cy="36.68" r="0.67"/><circle cx="31.62" cy="3.98" r="0.53"/><circle cx="22.87" cy="1.05" r="0.71"/><circle cx="22.83" cy="30.97" r="0.57"/><circle cx="14.54" cy="14.32" r="0.59"/><circle cx="22.68" cy="12.73" r="0.46"/><circle cx="7.57" cy="32.18" r="0.46"/><circle cx="26.06" cy="20.48" r="0.67"/><circle cx="16.79" cy="6.88" r="0.56"/><circle cx="26.16" cy="31.48" r="0.48"/><circle cx="19.59" cy="20.05" r="0.65"/><circle cx="15.99" cy="25.46" r="0.53"/><circle cx="9.22" cy="22.62" r="0.47"/><circle cx="8.97" cy="28.89" r="0.57"/><circle cx="31.57" cy="21.16" r="0.73"/><circle cx="31.88" cy="32.59" r="0.69"/><circle cx="11.73" cy="15.86" r="0.69"/><circle cx="30.27" cy="17.72" r="0.6"/><circle cx="0.68" cy="34.02" r="0.51"/><circle cx="37.68" cy="34.02" r="0.51"/><circle cx="24" cy="13.33" r="0.74"/></g></pattern>
<pattern id="pbr" patternUnits="userSpaceOnUse" width="41" height="41"><g fill="#7a4a32"><ellipse cx="27.51" cy="35.12" rx="0.78" ry="0.26" transform="rotate(31 27.51 35.12)"/><ellipse cx="3.41" cy="17.8" rx="0.74" ry="0.25" transform="rotate(138 3.41 17.8)"/><ellipse cx="17.91" cy="29.88" rx="0.76" ry="0.25" transform="rotate(117 17.91 29.88)"/><ellipse cx="34.19" cy="20.91" rx="0.9" ry="0.3" transform="rotate(132 34.19 20.91)"/><ellipse cx="-0.14" cy="23.6" rx="0.73" ry="0.24" transform="rotate(71 -0.14 23.6)"/><ellipse cx="40.86" cy="23.6" rx="0.73" ry="0.24" transform="rotate(121 40.86 23.6)"/><ellipse cx="19.58" cy="31.59" rx="0.84" ry="0.28" transform="rotate(110 19.58 31.59)"/><ellipse cx="3.13" cy="21.63" rx="0.93" ry="0.31" transform="rotate(35 3.13 21.63)"/><ellipse cx="11.7" cy="28.99" rx="0.73" ry="0.24" transform="rotate(7 11.7 28.99)"/><ellipse cx="20.72" cy="37.29" rx="1.14" ry="0.38" transform="rotate(73 20.72 37.29)"/><ellipse cx="32.28" cy="-0.04" rx="1.01" ry="0.34" transform="rotate(175 32.28 -0.04)"/><ellipse cx="32.28" cy="40.96" rx="1.01" ry="0.34" transform="rotate(92 32.28 40.96)"/><ellipse cx="7.82" cy="17.77" rx="1" ry="0.33" transform="rotate(17 7.82 17.77)"/><ellipse cx="0.69" cy="35.18" rx="1.1" ry="0.37" transform="rotate(34 0.69 35.18)"/><ellipse cx="41.69" cy="35.18" rx="1.1" ry="0.37" transform="rotate(173 41.69 35.18)"/><ellipse cx="1.15" cy="22.19" rx="0.95" ry="0.32" transform="rotate(62 1.15 22.19)"/><ellipse cx="23.32" cy="2.16" rx="1.08" ry="0.36" transform="rotate(24 23.32 2.16)"/><ellipse cx="9.36" cy="2.58" rx="0.99" ry="0.33" transform="rotate(119 9.36 2.58)"/><ellipse cx="23.33" cy="9.76" rx="0.91" ry="0.3" transform="rotate(142 23.33 9.76)"/><ellipse cx="8.37" cy="5.74" rx="1.12" ry="0.37" transform="rotate(102 8.37 5.74)"/><ellipse cx="3.65" cy="19.7" rx="1.12" ry="0.37" transform="rotate(7 3.65 19.7)"/><ellipse cx="1.63" cy="7.36" rx="0.96" ry="0.32" transform="rotate(36 1.63 7.36)"/><ellipse cx="29.94" cy="34.87" rx="1.08" ry="0.36" transform="rotate(129 29.94 34.87)"/><ellipse cx="1.02" cy="1.89" rx="0.96" ry="0.32" transform="rotate(64 1.02 1.89)"/><ellipse cx="42.02" cy="1.89" rx="0.96" ry="0.32" transform="rotate(85 42.02 1.89)"/><ellipse cx="4.66" cy="35.52" rx="1.13" ry="0.38" transform="rotate(111 4.66 35.52)"/><ellipse cx="34.08" cy="36.73" rx="0.68" ry="0.23" transform="rotate(118 34.08 36.73)"/><ellipse cx="38.57" cy="19.9" rx="0.87" ry="0.29" transform="rotate(13 38.57 19.9)"/><ellipse cx="37.34" cy="1.48" rx="1.01" ry="0.34" transform="rotate(21 37.34 1.48)"/><ellipse cx="4.39" cy="0" rx="0.98" ry="0.33" transform="rotate(144 4.39 0)"/><ellipse cx="4.39" cy="41" rx="0.98" ry="0.33" transform="rotate(136 4.39 41)"/><ellipse cx="3.59" cy="39.37" rx="0.92" ry="0.31" transform="rotate(22 3.59 39.37)"/><ellipse cx="26.09" cy="0.77" rx="0.88" ry="0.29" transform="rotate(137 26.09 0.77)"/><ellipse cx="26.09" cy="41.77" rx="0.88" ry="0.29" transform="rotate(64 26.09 41.77)"/><ellipse cx="0.92" cy="9.87" rx="0.76" ry="0.25" transform="rotate(77 0.92 9.87)"/><ellipse cx="41.92" cy="9.87" rx="0.76" ry="0.25" transform="rotate(23 41.92 9.87)"/><ellipse cx="25.96" cy="32.51" rx="1.11" ry="0.37" transform="rotate(166 25.96 32.51)"/><ellipse cx="13.03" cy="22.15" rx="0.79" ry="0.26" transform="rotate(132 13.03 22.15)"/><ellipse cx="20.18" cy="0.58" rx="0.87" ry="0.29" transform="rotate(125 20.18 0.58)"/><ellipse cx="20.18" cy="41.58" rx="0.87" ry="0.29" transform="rotate(114 20.18 41.58)"/><ellipse cx="25.83" cy="25.8" rx="0.87" ry="0.29" transform="rotate(65 25.83 25.8)"/><ellipse cx="6.96" cy="9.8" rx="0.89" ry="0.3" transform="rotate(171 6.96 9.8)"/><ellipse cx="36.89" cy="5.55" rx="0.95" ry="0.32" transform="rotate(115 36.89 5.55)"/><ellipse cx="10.06" cy="33.51" rx="0.77" ry="0.26" transform="rotate(173 10.06 33.51)"/><ellipse cx="39" cy="9.68" rx="1" ry="0.33" transform="rotate(23 39 9.68)"/><ellipse cx="21.22" cy="17.1" rx="1.09" ry="0.36" transform="rotate(48 21.22 17.1)"/><ellipse cx="23.98" cy="22.82" rx="0.97" ry="0.32" transform="rotate(41 23.98 22.82)"/><ellipse cx="15.65" cy="5.48" rx="1.09" ry="0.36" transform="rotate(63 15.65 5.48)"/><ellipse cx="29.82" cy="20.06" rx="0.67" ry="0.22" transform="rotate(8 29.82 20.06)"/><ellipse cx="35.09" cy="15.72" rx="1" ry="0.33" transform="rotate(42 35.09 15.72)"/><ellipse cx="2.86" cy="22.37" rx="1.06" ry="0.35" transform="rotate(64 2.86 22.37)"/><ellipse cx="4.25" cy="1.84" rx="1.09" ry="0.36" transform="rotate(178 4.25 1.84)"/><ellipse cx="32.48" cy="15.49" rx="0.7" ry="0.23" transform="rotate(32 32.48 15.49)"/><ellipse cx="18.92" cy="16.68" rx="0.71" ry="0.24" transform="rotate(73 18.92 16.68)"/><ellipse cx="12.41" cy="21" rx="0.8" ry="0.27" transform="rotate(46 12.41 21)"/><ellipse cx="37.09" cy="16.43" rx="0.99" ry="0.33" transform="rotate(106 37.09 16.43)"/><ellipse cx="7.21" cy="21.22" rx="0.79" ry="0.26" transform="rotate(66 7.21 21.22)"/><ellipse cx="3.46" cy="9.3" rx="0.72" ry="0.24" transform="rotate(37 3.46 9.3)"/><ellipse cx="30.88" cy="3.81" rx="0.87" ry="0.29" transform="rotate(67 30.88 3.81)"/><ellipse cx="23.94" cy="20.4" rx="0.86" ry="0.29" transform="rotate(5 23.94 20.4)"/><ellipse cx="28.05" cy="24.78" rx="0.74" ry="0.25" transform="rotate(15 28.05 24.78)"/><ellipse cx="35.8" cy="3.04" rx="1.02" ry="0.34" transform="rotate(174 35.8 3.04)"/><ellipse cx="21.83" cy="38.03" rx="0.9" ry="0.3" transform="rotate(106 21.83 38.03)"/><ellipse cx="12.85" cy="8.33" rx="1.03" ry="0.34" transform="rotate(59 12.85 8.33)"/><ellipse cx="22.41" cy="10.13" rx="1.14" ry="0.38" transform="rotate(176 22.41 10.13)"/><ellipse cx="12.52" cy="25.1" rx="0.8" ry="0.27" transform="rotate(63 12.52 25.1)"/><ellipse cx="27.61" cy="20.45" rx="0.67" ry="0.22" transform="rotate(64 27.61 20.45)"/><ellipse cx="9.26" cy="32.5" rx="0.86" ry="0.29" transform="rotate(166 9.26 32.5)"/><ellipse cx="12.98" cy="21.58" rx="0.97" ry="0.32" transform="rotate(73 12.98 21.58)"/><ellipse cx="3.31" cy="5.61" rx="0.76" ry="0.25" transform="rotate(22 3.31 5.61)"/><ellipse cx="10.88" cy="11.02" rx="0.73" ry="0.24" transform="rotate(20 10.88 11.02)"/><ellipse cx="38.17" cy="-0.98" rx="1.13" ry="0.38" transform="rotate(39 38.17 -0.98)"/><ellipse cx="38.17" cy="40.02" rx="1.13" ry="0.38" transform="rotate(130 38.17 40.02)"/><ellipse cx="0.87" cy="5.6" rx="1.05" ry="0.35" transform="rotate(61 0.87 5.6)"/><ellipse cx="41.87" cy="5.6" rx="1.05" ry="0.35" transform="rotate(78 41.87 5.6)"/><ellipse cx="30.31" cy="32.46" rx="1.13" ry="0.38" transform="rotate(101 30.31 32.46)"/><ellipse cx="9.09" cy="23.35" rx="0.73" ry="0.24" transform="rotate(106 9.09 23.35)"/><ellipse cx="12.04" cy="7.84" rx="0.78" ry="0.26" transform="rotate(139 12.04 7.84)"/><ellipse cx="26.43" cy="39.26" rx="0.71" ry="0.24" transform="rotate(110 26.43 39.26)"/><ellipse cx="39.03" cy="7.93" rx="0.72" ry="0.24" transform="rotate(70 39.03 7.93)"/><ellipse cx="-0.34" cy="2.23" rx="0.77" ry="0.26" transform="rotate(165 -0.34 2.23)"/><ellipse cx="40.66" cy="2.23" rx="0.77" ry="0.26" transform="rotate(125 40.66 2.23)"/><ellipse cx="24.86" cy="25.43" rx="0.94" ry="0.31" transform="rotate(144 24.86 25.43)"/><ellipse cx="7.41" cy="12.56" rx="0.78" ry="0.26" transform="rotate(99 7.41 12.56)"/><ellipse cx="24.66" cy="38.86" rx="0.8" ry="0.27" transform="rotate(162 24.66 38.86)"/><ellipse cx="27.05" cy="10.34" rx="1.13" ry="0.38" transform="rotate(167 27.05 10.34)"/><ellipse cx="21.43" cy="21.61" rx="0.95" ry="0.32" transform="rotate(94 21.43 21.61)"/><ellipse cx="18.65" cy="13.18" rx="0.99" ry="0.33" transform="rotate(112 18.65 13.18)"/><ellipse cx="14.99" cy="28.58" rx="1.14" ry="0.38" transform="rotate(88 14.99 28.58)"/><ellipse cx="33.14" cy="20.68" rx="1.13" ry="0.38" transform="rotate(70 33.14 20.68)"/><ellipse cx="24.03" cy="16.86" rx="0.93" ry="0.31" transform="rotate(165 24.03 16.86)"/><ellipse cx="35.68" cy="0.53" rx="1.11" ry="0.37" transform="rotate(165 35.68 0.53)"/><ellipse cx="35.68" cy="41.53" rx="1.11" ry="0.37" transform="rotate(175 35.68 41.53)"/><ellipse cx="38.96" cy="34.19" rx="0.8" ry="0.27" transform="rotate(72 38.96 34.19)"/><ellipse cx="35.21" cy="34.43" rx="1.13" ry="0.38" transform="rotate(166 35.21 34.43)"/><ellipse cx="0.73" cy="37.54" rx="0.82" ry="0.27" transform="rotate(176 0.73 37.54)"/><ellipse cx="41.73" cy="37.54" rx="0.82" ry="0.27" transform="rotate(135 41.73 37.54)"/><ellipse cx="4.6" cy="18.62" rx="0.79" ry="0.26" transform="rotate(22 4.6 18.62)"/><ellipse cx="1.99" cy="4.68" rx="1.04" ry="0.35" transform="rotate(26 1.99 4.68)"/><ellipse cx="23.84" cy="3.32" rx="0.9" ry="0.3" transform="rotate(123 23.84 3.32)"/><ellipse cx="25.1" cy="29.33" rx="0.82" ry="0.27" transform="rotate(107 25.1 29.33)"/><ellipse cx="21.27" cy="1.59" rx="0.88" ry="0.29" transform="rotate(38 21.27 1.59)"/><ellipse cx="23.6" cy="16.3" rx="0.75" ry="0.25" transform="rotate(131 23.6 16.3)"/><ellipse cx="36.07" cy="39.68" rx="1.03" ry="0.34" transform="rotate(39 36.07 39.68)"/><ellipse cx="2.26" cy="16.88" rx="0.67" ry="0.22" transform="rotate(136 2.26 16.88)"/><ellipse cx="39.72" cy="10.63" rx="1.06" ry="0.35" transform="rotate(39 39.72 10.63)"/><ellipse cx="2.29" cy="12.25" rx="0.69" ry="0.23" transform="rotate(97 2.29 12.25)"/><ellipse cx="14.42" cy="37.57" rx="0.68" ry="0.23" transform="rotate(4 14.42 37.57)"/><ellipse cx="2.92" cy="21.7" rx="0.91" ry="0.3" transform="rotate(79 2.92 21.7)"/><ellipse cx="33" cy="22.44" rx="0.86" ry="0.29" transform="rotate(126 33 22.44)"/><ellipse cx="-1.02" cy="28.08" rx="0.9" ry="0.3" transform="rotate(77 -1.02 28.08)"/><ellipse cx="39.98" cy="28.08" rx="0.9" ry="0.3" transform="rotate(10 39.98 28.08)"/><ellipse cx="-0.19" cy="-0.6" rx="1.06" ry="0.35" transform="rotate(118 -0.19 -0.6)"/><ellipse cx="-0.19" cy="40.4" rx="1.06" ry="0.35" transform="rotate(48 -0.19 40.4)"/><ellipse cx="40.81" cy="-0.6" rx="1.06" ry="0.35" transform="rotate(27 40.81 -0.6)"/><ellipse cx="40.81" cy="40.4" rx="1.06" ry="0.35" transform="rotate(97 40.81 40.4)"/><ellipse cx="35.31" cy="20.18" rx="0.83" ry="0.28" transform="rotate(175 35.31 20.18)"/><ellipse cx="21.69" cy="39.56" rx="0.67" ry="0.22" transform="rotate(175 21.69 39.56)"/><ellipse cx="19.76" cy="16.33" rx="1.11" ry="0.37" transform="rotate(56 19.76 16.33)"/><ellipse cx="9.7" cy="38.73" rx="0.78" ry="0.26" transform="rotate(61 9.7 38.73)"/><ellipse cx="21.49" cy="21.62" rx="0.72" ry="0.24" transform="rotate(165 21.49 21.62)"/><ellipse cx="34.27" cy="23.15" rx="1.05" ry="0.35" transform="rotate(63 34.27 23.15)"/><ellipse cx="39.28" cy="21.33" rx="0.81" ry="0.27" transform="rotate(170 39.28 21.33)"/><ellipse cx="31.48" cy="10.21" rx="1.08" ry="0.36" transform="rotate(40 31.48 10.21)"/><ellipse cx="15.37" cy="6.83" rx="0.82" ry="0.27" transform="rotate(12 15.37 6.83)"/><ellipse cx="9.77" cy="9.16" rx="1.12" ry="0.37" transform="rotate(151 9.77 9.16)"/><ellipse cx="32.98" cy="20.47" rx="1.04" ry="0.35" transform="rotate(110 32.98 20.47)"/><ellipse cx="11.17" cy="27.69" rx="1.14" ry="0.38" transform="rotate(140 11.17 27.69)"/><ellipse cx="17.31" cy="28" rx="0.87" ry="0.29" transform="rotate(21 17.31 28)"/><ellipse cx="25.56" cy="30.65" rx="0.91" ry="0.3" transform="rotate(124 25.56 30.65)"/><ellipse cx="10.02" cy="33.28" rx="0.97" ry="0.32" transform="rotate(59 10.02 33.28)"/><ellipse cx="3.43" cy="31.63" rx="1.12" ry="0.37" transform="rotate(27 3.43 31.63)"/><ellipse cx="8.51" cy="9.22" rx="0.94" ry="0.31" transform="rotate(19 8.51 9.22)"/><ellipse cx="10.67" cy="13.35" rx="1.06" ry="0.35" transform="rotate(72 10.67 13.35)"/><ellipse cx="8.45" cy="30.7" rx="0.75" ry="0.25" transform="rotate(128 8.45 30.7)"/><ellipse cx="14.33" cy="11.13" rx="0.84" ry="0.28" transform="rotate(90 14.33 11.13)"/><ellipse cx="4.64" cy="9.33" rx="1.12" ry="0.37" transform="rotate(162 4.64 9.33)"/><ellipse cx="7.71" cy="4.93" rx="0.96" ry="0.32" transform="rotate(81 7.71 4.93)"/><ellipse cx="1.09" cy="11.61" rx="0.8" ry="0.27" transform="rotate(74 1.09 11.61)"/><ellipse cx="42.09" cy="11.61" rx="0.8" ry="0.27" transform="rotate(145 42.09 11.61)"/><ellipse cx="28.7" cy="25.24" rx="1.11" ry="0.37" transform="rotate(170 28.7 25.24)"/><ellipse cx="35.87" cy="7.92" rx="1.1" ry="0.37" transform="rotate(48 35.87 7.92)"/><ellipse cx="24.75" cy="34.1" rx="1.05" ry="0.35" transform="rotate(3 24.75 34.1)"/><ellipse cx="34.17" cy="9.3" rx="0.67" ry="0.22" transform="rotate(87 34.17 9.3)"/><ellipse cx="9.14" cy="38.05" rx="0.77" ry="0.26" transform="rotate(25 9.14 38.05)"/><ellipse cx="24.87" cy="5.02" rx="0.87" ry="0.29" transform="rotate(149 24.87 5.02)"/><ellipse cx="1.12" cy="38.15" rx="0.87" ry="0.29" transform="rotate(33 1.12 38.15)"/><ellipse cx="42.12" cy="38.15" rx="0.87" ry="0.29" transform="rotate(32 42.12 38.15)"/><ellipse cx="29.76" cy="7.24" rx="0.87" ry="0.29" transform="rotate(72 29.76 7.24)"/><ellipse cx="26.86" cy="39.15" rx="0.75" ry="0.25" transform="rotate(37 26.86 39.15)"/><ellipse cx="7.12" cy="23.94" rx="0.73" ry="0.24" transform="rotate(113 7.12 23.94)"/><ellipse cx="20.14" cy="37.55" rx="0.82" ry="0.27" transform="rotate(20 20.14 37.55)"/><ellipse cx="17.17" cy="22.74" rx="0.81" ry="0.27" transform="rotate(73 17.17 22.74)"/><ellipse cx="14.55" cy="38.67" rx="0.79" ry="0.26" transform="rotate(85 14.55 38.67)"/><ellipse cx="6.54" cy="23.52" rx="0.86" ry="0.29" transform="rotate(31 6.54 23.52)"/><ellipse cx="5.25" cy="29.47" rx="0.89" ry="0.3" transform="rotate(176 5.25 29.47)"/><ellipse cx="35.28" cy="1.46" rx="1.03" ry="0.34" transform="rotate(116 35.28 1.46)"/><ellipse cx="25.97" cy="13.24" rx="1.1" ry="0.37" transform="rotate(139 25.97 13.24)"/><ellipse cx="28.52" cy="18.94" rx="0.92" ry="0.31" transform="rotate(148 28.52 18.94)"/><ellipse cx="19.78" cy="10.55" rx="1.04" ry="0.35" transform="rotate(40 19.78 10.55)"/><ellipse cx="35.27" cy="5.76" rx="0.98" ry="0.33" transform="rotate(110 35.27 5.76)"/><ellipse cx="36.34" cy="16.13" rx="0.78" ry="0.26" transform="rotate(106 36.34 16.13)"/><ellipse cx="24.12" cy="20.33" rx="0.82" ry="0.27" transform="rotate(130 24.12 20.33)"/><ellipse cx="15.07" cy="17.89" rx="1.11" ry="0.37" transform="rotate(36 15.07 17.89)"/><ellipse cx="36.6" cy="1.76" rx="0.97" ry="0.32" transform="rotate(168 36.6 1.76)"/><ellipse cx="17.34" cy="25.98" rx="1.05" ry="0.35" transform="rotate(179 17.34 25.98)"/><ellipse cx="34.39" cy="2.58" rx="1.13" ry="0.38" transform="rotate(111 34.39 2.58)"/><ellipse cx="18.14" cy="17.32" rx="1.08" ry="0.36" transform="rotate(115 18.14 17.32)"/><ellipse cx="14.49" cy="35.91" rx="1.11" ry="0.37" transform="rotate(19 14.49 35.91)"/></g></pattern>
<pattern id="pdb" patternUnits="userSpaceOnUse" width="25" height="25"><g fill="#46529a"><circle cx="19.75" cy="7.5" r="0.52"/><circle cx="10.08" cy="18.58" r="0.61"/><circle cx="13.53" cy="8.23" r="0.57"/><circle cx="21.84" cy="1.28" r="0.56"/><circle cx="8.69" cy="20.63" r="0.62"/><circle cx="-0.64" cy="3.01" r="0.66"/><circle cx="24.36" cy="3.01" r="0.66"/><circle cx="1.16" cy="8.42" r="0.58"/><circle cx="15.13" cy="1.17" r="0.45"/><circle cx="12.66" cy="4.24" r="0.61"/><circle cx="12.76" cy="0.46" r="0.56"/><circle cx="12.76" cy="25.46" r="0.56"/><circle cx="13.3" cy="4.46" r="0.52"/><circle cx="16.94" cy="20.49" r="0.63"/><circle cx="-0.36" cy="16.76" r="0.43"/><circle cx="24.64" cy="16.76" r="0.43"/><circle cx="9.74" cy="5.26" r="0.56"/><circle cx="14.19" cy="12.76" r="0.78"/><circle cx="1.33" cy="8.91" r="0.78"/><circle cx="0.53" cy="5.74" r="0.76"/><circle cx="25.53" cy="5.74" r="0.76"/><circle cx="18.49" cy="20.36" r="0.59"/><circle cx="0.54" cy="18.89" r="0.64"/><circle cx="25.54" cy="18.89" r="0.64"/><circle cx="16.93" cy="0.63" r="0.46"/><circle cx="16.93" cy="25.63" r="0.46"/><circle cx="2.78" cy="22.01" r="0.46"/><circle cx="14.74" cy="8.04" r="0.57"/><circle cx="18.56" cy="22.3" r="0.8"/><circle cx="9.41" cy="14.43" r="0.56"/><circle cx="22.42" cy="21.13" r="0.74"/><circle cx="19.94" cy="21.75" r="0.7"/><circle cx="4.23" cy="10.91" r="0.44"/><circle cx="21.22" cy="14.87" r="0.59"/><circle cx="5.09" cy="20.88" r="0.46"/><circle cx="0.86" cy="13.26" r="0.61"/><circle cx="15.25" cy="6.76" r="0.77"/><circle cx="0.73" cy="5.56" r="0.61"/><circle cx="25.73" cy="5.56" r="0.61"/><circle cx="3.31" cy="8.21" r="0.51"/><circle cx="23.26" cy="21.2" r="0.67"/><circle cx="3.01" cy="17.11" r="0.47"/><circle cx="21.7" cy="8.19" r="0.71"/><circle cx="16.52" cy="6.59" r="0.63"/><circle cx="20.06" cy="16.33" r="0.69"/><circle cx="2.74" cy="17.88" r="0.75"/><circle cx="9.74" cy="19.94" r="0.72"/><circle cx="4.55" cy="7.84" r="0.79"/><circle cx="4.67" cy="21.9" r="0.62"/><circle cx="9.7" cy="18.98" r="0.46"/><circle cx="15.15" cy="3.38" r="0.63"/><circle cx="12.29" cy="7.15" r="0.54"/><circle cx="21.55" cy="14.67" r="0.6"/><circle cx="19.63" cy="19.93" r="0.72"/><circle cx="16.16" cy="20.8" r="0.71"/><circle cx="9.99" cy="15.81" r="0.8"/><circle cx="17.88" cy="10.89" r="0.52"/><circle cx="1.68" cy="21.21" r="0.47"/><circle cx="11.54" cy="17.94" r="0.73"/><circle cx="2.4" cy="7.59" r="0.67"/><circle cx="9.87" cy="17.88" r="0.58"/><circle cx="16.62" cy="6.39" r="0.8"/><circle cx="8.42" cy="7.2" r="0.6"/><circle cx="6.99" cy="19.21" r="0.7"/><circle cx="24" cy="20.67" r="0.64"/><circle cx="1.81" cy="1.72" r="0.65"/><circle cx="9.2" cy="14.31" r="0.59"/></g></pattern>
<pattern id="pbr3" patternUnits="userSpaceOnUse" width="13" height="13"><g fill="#a85a30"><ellipse cx="11.41" cy="11.46" rx="0.72" ry="0.45" transform="rotate(107 11.41 11.46)"/><ellipse cx="8.68" cy="-0.51" rx="0.69" ry="0.43" transform="rotate(105 8.68 -0.51)"/><ellipse cx="8.68" cy="12.49" rx="0.69" ry="0.43" transform="rotate(5 8.68 12.49)"/><ellipse cx="10.83" cy="-0.82" rx="0.79" ry="0.5" transform="rotate(21 10.83 -0.82)"/><ellipse cx="10.83" cy="12.18" rx="0.79" ry="0.5" transform="rotate(16 10.83 12.18)"/><ellipse cx="-0.89" cy="2.07" rx="1.01" ry="0.63" transform="rotate(95 -0.89 2.07)"/><ellipse cx="12.11" cy="2.07" rx="1.01" ry="0.63" transform="rotate(84 12.11 2.07)"/><ellipse cx="6.13" cy="10.67" rx="0.97" ry="0.61" transform="rotate(125 6.13 10.67)"/><ellipse cx="3.34" cy="4.67" rx="0.74" ry="0.46" transform="rotate(60 3.34 4.67)"/><ellipse cx="4" cy="2.02" rx="0.98" ry="0.61" transform="rotate(93 4 2.02)"/><ellipse cx="6.63" cy="6.56" rx="0.59" ry="0.37" transform="rotate(167 6.63 6.56)"/><ellipse cx="3.93" cy="3.29" rx="1" ry="0.63" transform="rotate(9 3.93 3.29)"/><ellipse cx="11.76" cy="10.62" rx="0.67" ry="0.42" transform="rotate(103 11.76 10.62)"/><ellipse cx="6.19" cy="10.43" rx="0.74" ry="0.46" transform="rotate(37 6.19 10.43)"/><ellipse cx="8.09" cy="8.74" rx="0.61" ry="0.38" transform="rotate(164 8.09 8.74)"/><ellipse cx="11.45" cy="7.21" rx="0.95" ry="0.59" transform="rotate(25 11.45 7.21)"/><ellipse cx="5.59" cy="-0.11" rx="1.02" ry="0.64" transform="rotate(166 5.59 -0.11)"/><ellipse cx="5.59" cy="12.89" rx="1.02" ry="0.64" transform="rotate(53 5.59 12.89)"/><ellipse cx="0.9" cy="5.8" rx="0.87" ry="0.55" transform="rotate(49 0.9 5.8)"/><ellipse cx="13.9" cy="5.8" rx="0.87" ry="0.55" transform="rotate(110 13.9 5.8)"/><ellipse cx="5.94" cy="3.22" rx="0.79" ry="0.5" transform="rotate(176 5.94 3.22)"/><ellipse cx="6.87" cy="0.22" rx="0.69" ry="0.43" transform="rotate(156 6.87 0.22)"/><ellipse cx="6.87" cy="13.22" rx="0.69" ry="0.43" transform="rotate(67 6.87 13.22)"/><ellipse cx="7.11" cy="5.91" rx="0.61" ry="0.38" transform="rotate(118 7.11 5.91)"/><ellipse cx="-0.65" cy="7.54" rx="0.92" ry="0.57" transform="rotate(51 -0.65 7.54)"/><ellipse cx="12.35" cy="7.54" rx="0.92" ry="0.57" transform="rotate(70 12.35 7.54)"/><ellipse cx="6.13" cy="5.77" rx="0.61" ry="0.38" transform="rotate(58 6.13 5.77)"/><ellipse cx="1.83" cy="11.22" rx="0.5" ry="0.31" transform="rotate(24 1.83 11.22)"/><ellipse cx="11.19" cy="4.6" rx="0.84" ry="0.52" transform="rotate(138 11.19 4.6)"/><ellipse cx="4.99" cy="4.97" rx="0.81" ry="0.51" transform="rotate(15 4.99 4.97)"/><ellipse cx="2.57" cy="7.71" rx="1.02" ry="0.64" transform="rotate(130 2.57 7.71)"/><ellipse cx="1.93" cy="-0.56" rx="0.56" ry="0.35" transform="rotate(130 1.93 -0.56)"/><ellipse cx="1.93" cy="12.44" rx="0.56" ry="0.35" transform="rotate(100 1.93 12.44)"/><ellipse cx="4.35" cy="4.01" rx="0.72" ry="0.45" transform="rotate(145 4.35 4.01)"/><ellipse cx="5.12" cy="8.33" rx="0.96" ry="0.6" transform="rotate(177 5.12 8.33)"/><ellipse cx="10.46" cy="2.02" rx="0.49" ry="0.31" transform="rotate(115 10.46 2.02)"/><ellipse cx="7.13" cy="8.24" rx="0.83" ry="0.52" transform="rotate(25 7.13 8.24)"/><ellipse cx="11.84" cy="6.8" rx="1.03" ry="0.65" transform="rotate(13 11.84 6.8)"/><ellipse cx="10.97" cy="11.53" rx="0.91" ry="0.57" transform="rotate(85 10.97 11.53)"/><ellipse cx="10.94" cy="6.96" rx="0.61" ry="0.38" transform="rotate(57 10.94 6.96)"/><ellipse cx="4.88" cy="8.41" rx="0.67" ry="0.42" transform="rotate(63 4.88 8.41)"/><ellipse cx="5.33" cy="8.44" rx="0.64" ry="0.4" transform="rotate(59 5.33 8.44)"/><ellipse cx="7.19" cy="1.82" rx="0.55" ry="0.34" transform="rotate(72 7.19 1.82)"/><ellipse cx="10.47" cy="8.7" rx="0.75" ry="0.47" transform="rotate(145 10.47 8.7)"/><ellipse cx="3.22" cy="11.15" rx="1.01" ry="0.63" transform="rotate(121 3.22 11.15)"/><ellipse cx="10.52" cy="1.09" rx="0.71" ry="0.44" transform="rotate(43 10.52 1.09)"/><ellipse cx="5.47" cy="-0.78" rx="0.7" ry="0.44" transform="rotate(94 5.47 -0.78)"/><ellipse cx="5.47" cy="12.22" rx="0.7" ry="0.44" transform="rotate(125 5.47 12.22)"/><ellipse cx="11.42" cy="10.56" rx="0.5" ry="0.31" transform="rotate(6 11.42 10.56)"/><ellipse cx="6.41" cy="4.36" rx="0.48" ry="0.3" transform="rotate(172 6.41 4.36)"/><ellipse cx="2.81" cy="8.92" rx="0.79" ry="0.5" transform="rotate(55 2.81 8.92)"/><ellipse cx="0.13" cy="1.63" rx="1.02" ry="0.64" transform="rotate(35 0.13 1.63)"/><ellipse cx="13.13" cy="1.63" rx="1.02" ry="0.64" transform="rotate(36 13.13 1.63)"/><ellipse cx="2.68" cy="5.44" rx="0.92" ry="0.58" transform="rotate(56 2.68 5.44)"/><ellipse cx="0.78" cy="11.78" rx="0.7" ry="0.44" transform="rotate(69 0.78 11.78)"/><ellipse cx="13.78" cy="11.78" rx="0.7" ry="0.44" transform="rotate(56 13.78 11.78)"/><ellipse cx="11.78" cy="9.43" rx="0.7" ry="0.44" transform="rotate(81 11.78 9.43)"/><ellipse cx="-0.02" cy="2.14" rx="0.6" ry="0.37" transform="rotate(47 -0.02 2.14)"/><ellipse cx="12.98" cy="2.14" rx="0.6" ry="0.37" transform="rotate(157 12.98 2.14)"/><ellipse cx="2.37" cy="0.83" rx="0.62" ry="0.39" transform="rotate(4 2.37 0.83)"/><ellipse cx="2.37" cy="13.83" rx="0.62" ry="0.39" transform="rotate(48 2.37 13.83)"/><ellipse cx="4.6" cy="3.13" rx="0.79" ry="0.5" transform="rotate(103 4.6 3.13)"/><ellipse cx="9.72" cy="3.35" rx="0.71" ry="0.44" transform="rotate(61 9.72 3.35)"/><ellipse cx="3.14" cy="4.26" rx="0.98" ry="0.61" transform="rotate(116 3.14 4.26)"/><ellipse cx="3.68" cy="3.77" rx="0.93" ry="0.58" transform="rotate(174 3.68 3.77)"/><ellipse cx="8.58" cy="3.92" rx="0.53" ry="0.33" transform="rotate(70 8.58 3.92)"/><ellipse cx="0.32" cy="5.76" rx="0.8" ry="0.5" transform="rotate(146 0.32 5.76)"/><ellipse cx="13.32" cy="5.76" rx="0.8" ry="0.5" transform="rotate(113 13.32 5.76)"/><ellipse cx="8.7" cy="3.23" rx="0.8" ry="0.5" transform="rotate(177 8.7 3.23)"/><ellipse cx="5.3" cy="11.45" rx="1.03" ry="0.65" transform="rotate(55 5.3 11.45)"/><ellipse cx="7.68" cy="3.13" rx="0.69" ry="0.43" transform="rotate(5 7.68 3.13)"/><ellipse cx="9.62" cy="0.09" rx="0.55" ry="0.34" transform="rotate(23 9.62 0.09)"/><ellipse cx="9.62" cy="13.09" rx="0.55" ry="0.34" transform="rotate(167 9.62 13.09)"/><ellipse cx="0.57" cy="7.96" rx="0.87" ry="0.54" transform="rotate(142 0.57 7.96)"/><ellipse cx="13.57" cy="7.96" rx="0.87" ry="0.54" transform="rotate(24 13.57 7.96)"/><ellipse cx="-0.14" cy="7.18" rx="0.48" ry="0.3" transform="rotate(18 -0.14 7.18)"/><ellipse cx="12.86" cy="7.18" rx="0.48" ry="0.3" transform="rotate(90 12.86 7.18)"/><ellipse cx="4.64" cy="8.18" rx="0.81" ry="0.51" transform="rotate(173 4.64 8.18)"/><ellipse cx="9.85" cy="-0.29" rx="0.49" ry="0.31" transform="rotate(0 9.85 -0.29)"/><ellipse cx="9.85" cy="12.71" rx="0.49" ry="0.31" transform="rotate(15 9.85 12.71)"/><ellipse cx="11.5" cy="9.49" rx="0.89" ry="0.56" transform="rotate(32 11.5 9.49)"/><ellipse cx="4.96" cy="9.4" rx="0.75" ry="0.47" transform="rotate(39 4.96 9.4)"/><ellipse cx="6.25" cy="0.41" rx="0.66" ry="0.41" transform="rotate(98 6.25 0.41)"/><ellipse cx="6.25" cy="13.41" rx="0.66" ry="0.41" transform="rotate(131 6.25 13.41)"/><ellipse cx="7.77" cy="1.81" rx="1" ry="0.62" transform="rotate(133 7.77 1.81)"/><ellipse cx="4.83" cy="9" rx="0.55" ry="0.34" transform="rotate(18 4.83 9)"/><ellipse cx="-0.77" cy="8.76" rx="0.55" ry="0.35" transform="rotate(36 -0.77 8.76)"/><ellipse cx="12.23" cy="8.76" rx="0.55" ry="0.35" transform="rotate(24 12.23 8.76)"/><ellipse cx="5.8" cy="3.28" rx="0.94" ry="0.59" transform="rotate(10 5.8 3.28)"/><ellipse cx="7.93" cy="6.86" rx="0.89" ry="0.56" transform="rotate(83 7.93 6.86)"/></g></pattern>
<pattern id="pbr2" patternUnits="userSpaceOnUse" width="31" height="31"><g fill="#b87050"><ellipse cx="6.75" cy="10.68" rx="1.28" ry="0.51" transform="rotate(43 6.75 10.68)"/><ellipse cx="11.29" cy="2.59" rx="1.19" ry="0.48" transform="rotate(24 11.29 2.59)"/><ellipse cx="5.81" cy="27.41" rx="1.09" ry="0.43" transform="rotate(78 5.81 27.41)"/><ellipse cx="21.18" cy="13.6" rx="1.27" ry="0.51" transform="rotate(50 21.18 13.6)"/><ellipse cx="-1.2" cy="5.49" rx="1.05" ry="0.42" transform="rotate(65 -1.2 5.49)"/><ellipse cx="29.8" cy="5.49" rx="1.05" ry="0.42" transform="rotate(68 29.8 5.49)"/><ellipse cx="1.3" cy="14.84" rx="1.09" ry="0.44" transform="rotate(35 1.3 14.84)"/><ellipse cx="32.3" cy="14.84" rx="1.09" ry="0.44" transform="rotate(103 32.3 14.84)"/><ellipse cx="9.66" cy="3.88" rx="1.27" ry="0.51" transform="rotate(164 9.66 3.88)"/><ellipse cx="18.16" cy="-1.01" rx="1.43" ry="0.57" transform="rotate(146 18.16 -1.01)"/><ellipse cx="18.16" cy="29.99" rx="1.43" ry="0.57" transform="rotate(11 18.16 29.99)"/><ellipse cx="3.7" cy="18.49" rx="0.88" ry="0.35" transform="rotate(115 3.7 18.49)"/><ellipse cx="9.04" cy="24.31" rx="1.49" ry="0.6" transform="rotate(53 9.04 24.31)"/><ellipse cx="7.54" cy="1.07" rx="0.89" ry="0.36" transform="rotate(110 7.54 1.07)"/><ellipse cx="7.54" cy="32.07" rx="0.89" ry="0.36" transform="rotate(78 7.54 32.07)"/><ellipse cx="5.13" cy="18.44" rx="1.32" ry="0.53" transform="rotate(49 5.13 18.44)"/><ellipse cx="-0.47" cy="28.39" rx="0.98" ry="0.39" transform="rotate(148 -0.47 28.39)"/><ellipse cx="30.53" cy="28.39" rx="0.98" ry="0.39" transform="rotate(44 30.53 28.39)"/><ellipse cx="19.24" cy="21.07" rx="1.23" ry="0.49" transform="rotate(100 19.24 21.07)"/><ellipse cx="7.12" cy="5.67" rx="1.29" ry="0.52" transform="rotate(100 7.12 5.67)"/><ellipse cx="9.45" cy="15.03" rx="1.16" ry="0.46" transform="rotate(169 9.45 15.03)"/><ellipse cx="12.82" cy="14.21" rx="1.04" ry="0.42" transform="rotate(130 12.82 14.21)"/><ellipse cx="29.37" cy="21.79" rx="0.95" ry="0.38" transform="rotate(15 29.37 21.79)"/><ellipse cx="18.85" cy="23.7" rx="1.35" ry="0.54" transform="rotate(48 18.85 23.7)"/><ellipse cx="11.75" cy="18.97" rx="0.97" ry="0.39" transform="rotate(124 11.75 18.97)"/><ellipse cx="24.14" cy="-0.73" rx="1.27" ry="0.51" transform="rotate(175 24.14 -0.73)"/><ellipse cx="24.14" cy="30.27" rx="1.27" ry="0.51" transform="rotate(178 24.14 30.27)"/><ellipse cx="2.54" cy="16.34" rx="1.25" ry="0.5" transform="rotate(66 2.54 16.34)"/><ellipse cx="19.8" cy="16.18" rx="1.14" ry="0.46" transform="rotate(99 19.8 16.18)"/><ellipse cx="9.84" cy="27.36" rx="1.19" ry="0.48" transform="rotate(116 9.84 27.36)"/><ellipse cx="20.8" cy="17.89" rx="0.94" ry="0.37" transform="rotate(17 20.8 17.89)"/><ellipse cx="5.15" cy="8.56" rx="0.99" ry="0.4" transform="rotate(85 5.15 8.56)"/><ellipse cx="6.66" cy="17.68" rx="1.31" ry="0.53" transform="rotate(19 6.66 17.68)"/><ellipse cx="6.22" cy="8.93" rx="1.22" ry="0.49" transform="rotate(161 6.22 8.93)"/><ellipse cx="7.37" cy="11.48" rx="1.05" ry="0.42" transform="rotate(119 7.37 11.48)"/><ellipse cx="9.82" cy="5.3" rx="1.06" ry="0.42" transform="rotate(7 9.82 5.3)"/></g></pattern>
<filter id="bl1" x="-50%" y="-50%" width="200%" height="200%"><feGaussianBlur stdDeviation="0.9"/></filter>
<filter id="bl2" x="-50%" y="-50%" width="200%" height="200%"><feGaussianBlur stdDeviation="0.5"/></filter>
<filter id="bl3" x="-50%" y="-50%" width="200%" height="200%"><feGaussianBlur stdDeviation="1.6"/></filter>
<filter id="bl4" x="-50%" y="-50%" width="200%" height="200%"><feGaussianBlur stdDeviation="0.7"/></filter>
<filter id="hb" x="0" y="0" width="1" height="1" filterUnits="objectBoundingBox"><feGaussianBlur stdDeviation="0.35"/></filter>
<linearGradient id="ruler" x1="0" x2="1" y1="0" y2="0"><stop offset="0" stop-color="#a8aeb8"/><stop offset="0.2" stop-color="#d4d8de"/><stop offset="0.5" stop-color="#eceef0"/><stop offset="0.8" stop-color="#d6d9de"/><stop offset="1" stop-color="#a4a9b4"/></linearGradient>
<radialGradient id="lv0" cx="0.45" cy="0.4" r="0.65"><stop offset="0" stop-color="#d0907c"/><stop offset="1" stop-color="#b06450"/></radialGradient>
<radialGradient id="lv1" cx="0.45" cy="0.4" r="0.65"><stop offset="0" stop-color="#c46a56"/><stop offset="1" stop-color="#963c30"/></radialGradient>
<radialGradient id="lv2" cx="0.45" cy="0.4" r="0.65"><stop offset="0" stop-color="#d8a490"/><stop offset="1" stop-color="#c07e68"/></radialGradient>
<radialGradient id="lv3" cx="0.45" cy="0.4" r="0.65"><stop offset="0" stop-color="#b0625a"/><stop offset="1" stop-color="#8a3c36"/></radialGradient>
</defs>
<text x="6.6" y="11.2" font-family="Liberation Serif" font-size="12" font-weight="bold" text-anchor="start" fill="#111" stroke="#111" stroke-width="0.22">A</text>
<rect x="91.8" y="27" width="6.1" height="56.3" fill="#9d7cc3" stroke="#2e1a66" stroke-width="1.2"/>
<path d="M94.85 23.6V30.4M93.25 23.6H96.45" stroke="#6e2ab4" stroke-width="0.8" fill="none"/>
<circle cx="93.99" cy="29.45" r="1.15" fill="#6e2ab4"/>
<circle cx="92.75" cy="30.41" r="1.15" fill="#6e2ab4"/>
<circle cx="95.03" cy="26.34" r="1.15" fill="#6e2ab4"/>
<circle cx="94.89" cy="27.75" r="1.15" fill="#6e2ab4"/>
<circle cx="92.58" cy="25.99" r="1.15" fill="#6e2ab4"/>
<circle cx="92.84" cy="27.45" r="1.15" fill="#6e2ab4"/>
<circle cx="94.48" cy="27.69" r="1.15" fill="#6e2ab4"/>
<circle cx="93.49" cy="25.68" r="1.15" fill="#6e2ab4"/>
<rect x="103.1" y="25.5" width="6.2" height="57.8" fill="#5ac6ee" stroke="#3a4cb0" stroke-width="1.2"/>
<path d="M106.2 21.9V29.1M104.6 21.9H107.8" stroke="#3442b6" stroke-width="0.8" fill="none"/>
<circle cx="106.84" cy="29.3" r="1.15" fill="#3442b6"/>
<circle cx="105.68" cy="24.2" r="1.15" fill="#3442b6"/>
<circle cx="108.58" cy="31.29" r="1.15" fill="#3442b6"/>
<circle cx="105.15" cy="27.25" r="1.15" fill="#3442b6"/>
<circle cx="104.42" cy="27.44" r="1.15" fill="#3442b6"/>
<circle cx="107.78" cy="27.27" r="1.15" fill="#3442b6"/>
<circle cx="104.6" cy="21.69" r="1.15" fill="#3442b6"/>
<circle cx="105.56" cy="23.36" r="1.15" fill="#3442b6"/>
<rect x="114.6" y="27.8" width="6.3" height="55.5" fill="#6ad6d6" stroke="#2a8a9a" stroke-width="1.2"/>
<path d="M117.75 24.8V30.8M116.15 24.8H119.35" stroke="#2a8aa6" stroke-width="0.8" fill="none"/>
<circle cx="117.99" cy="28.63" r="1.15" fill="#2a8aa6"/>
<circle cx="116.25" cy="28.14" r="1.15" fill="#2a8aa6"/>
<circle cx="118.67" cy="25.81" r="1.15" fill="#2a8aa6"/>
<circle cx="118.19" cy="28.77" r="1.15" fill="#2a8aa6"/>
<circle cx="117.51" cy="26.4" r="1.15" fill="#2a8aa6"/>
<circle cx="118.76" cy="32.12" r="1.15" fill="#2a8aa6"/>
<circle cx="116.44" cy="25.02" r="1.15" fill="#2a8aa6"/>
<circle cx="119.66" cy="26.4" r="1.15" fill="#2a8aa6"/>
<rect x="125.9" y="28.5" width="6.4" height="54.8" fill="#ee9484" stroke="#f05a30" stroke-width="1.2"/>
<path d="M129.1 25.5V31.5M127.5 25.5H130.7" stroke="#f0602e" stroke-width="0.8" fill="none"/>
<circle cx="130.29" cy="26.81" r="1.15" fill="#f0602e"/>
<circle cx="127.11" cy="35.44" r="1.15" fill="#f0602e"/>
<circle cx="128.67" cy="28.57" r="1.15" fill="#f0602e"/>
<circle cx="129.04" cy="27.04" r="1.15" fill="#f0602e"/>
<circle cx="126.7" cy="26.37" r="1.15" fill="#f0602e"/>
<circle cx="129.48" cy="24.72" r="1.15" fill="#f0602e"/>
<circle cx="131.05" cy="26.97" r="1.15" fill="#f0602e"/>
<circle cx="129.59" cy="32.12" r="1.15" fill="#f0602e"/>
<path d="M86 9.3V83.3H137" stroke="#2a2a2a" stroke-width="1.1" fill="none"/>
<path d="M83.2 83.3H86" stroke="#2a2a2a" stroke-width="1.1"/>
<text x="82.7" y="85.46" font-family="Liberation Sans" font-size="6" font-weight="bold" text-anchor="end" fill="#1e1e1e" stroke="#1e1e1e" stroke-width="0.16">0</text>
<path d="M83.2 64.8H86" stroke="#2a2a2a" stroke-width="1.1"/>
<text x="82.7" y="66.96" font-family="Liberation Sans" font-size="6" font-weight="bold" text-anchor="end" fill="#1e1e1e" stroke="#1e1e1e" stroke-width="0.16">2</text>
<path d="M83.2 46.3H86" stroke="#2a2a2a" stroke-width="1.1"/>
<text x="82.7" y="48.46" font-family="Liberation Sans" font-size="6" font-weight="bold" text-anchor="end" fill="#1e1e1e" stroke="#1e1e1e" stroke-width="0.16">4</text>
<path d="M83.2 27.8H86" stroke="#2a2a2a" stroke-width="1.1"/>
<text x="82.7" y="29.96" font-family="Liberation Sans" font-size="6" font-weight="bold" text-anchor="end" fill="#1e1e1e" stroke="#1e1e1e" stroke-width="0.16">6</text>
<path d="M83.2 9.3H86" stroke="#2a2a2a" stroke-width="1.1"/>
<text x="82.7" y="11.46" font-family="Liberation Sans" font-size="6" font-weight="bold" text-anchor="end" fill="#1e1e1e" stroke="#1e1e1e" stroke-width="0.16">8</text>
<text x="68.8" y="46.2" font-family="Liberation Sans" font-size="6.1" font-weight="bold" text-anchor="middle" fill="#1e1e1e" transform="rotate(-90 68.8 46.2)" stroke="#1e1e1e" stroke-width="0.16">Food intake</text>
<text x="77.8" y="46.7" font-family="Liberation Sans" font-size="6.15" font-weight="bold" text-anchor="middle" fill="#1e1e1e" transform="rotate(-90 77.8 46.7)" stroke="#1e1e1e" stroke-width="0.16">g per mouse per day</text>
<rect x="142.6" y="12.2" width="7.2" height="3.6" fill="#9d7cc3" stroke="#2e1a66" stroke-width="1"/>
<text x="155" y="16.2" font-family="Liberation Sans" font-size="6.1" font-weight="normal" text-anchor="start" fill="#1e1e1e" stroke="#1e1e1e" stroke-width="0.12">Flox-HFD</text>
<rect x="142.6" y="22.2" width="7.2" height="3.6" fill="#5ac6ee" stroke="#3a4cb0" stroke-width="1"/>
<text x="155" y="26.2" font-family="Liberation Sans" font-size="6.1" font-weight="normal" text-anchor="start" fill="#1e1e1e" stroke="#1e1e1e" stroke-width="0.12">Flox-HFD+PF</text>
<rect x="142.6" y="32.2" width="7.2" height="3.6" fill="#6ad6d6" stroke="#2a8a9a" stroke-width="1"/>
<text x="155" y="36.2" font-family="Liberation Sans" font-size="6.1" font-weight="normal" text-anchor="start" fill="#1e1e1e" stroke="#1e1e1e" stroke-width="0.12">HKO-HFD</text>
<rect x="142.6" y="42.1" width="7.2" height="3.6" fill="#ee9484" stroke="#f05a30" stroke-width="1"/>
<text x="155" y="46.1" font-family="Liberation Sans" font-size="6.1" font-weight="normal" text-anchor="start" fill="#1e1e1e" stroke="#1e1e1e" stroke-width="0.12">HKO-HFD+PF</text>
<rect x="246.9" y="28.7" width="5.4" height="52.3" fill="#9d7cc3" stroke="#2e1a66" stroke-width="1.2"/>
<path d="M249.6 24.9V32.5M248 24.9H251.2" stroke="#6e2ab4" stroke-width="0.8" fill="none"/>
<circle cx="249.94" cy="22.75" r="1.15" fill="#6e2ab4"/>
<circle cx="251.47" cy="30.38" r="1.15" fill="#6e2ab4"/>
<circle cx="249.49" cy="28.11" r="1.15" fill="#6e2ab4"/>
<circle cx="250.45" cy="27.72" r="1.15" fill="#6e2ab4"/>
<circle cx="250.22" cy="34.69" r="1.15" fill="#6e2ab4"/>
<circle cx="248.7" cy="28.44" r="1.15" fill="#6e2ab4"/>
<circle cx="249.12" cy="28.36" r="1.15" fill="#6e2ab4"/>
<circle cx="249.44" cy="28.1" r="1.15" fill="#6e2ab4"/>
<rect x="257.3" y="37.8" width="5.8" height="43.2" fill="#5ac6ee" stroke="#3a4cb0" stroke-width="1.2"/>
<path d="M260.2 34.2V41.4M258.6 34.2H261.8" stroke="#3442b6" stroke-width="0.8" fill="none"/>
<circle cx="258.67" cy="38.59" r="1.15" fill="#3442b6"/>
<circle cx="261.43" cy="38.52" r="1.15" fill="#3442b6"/>
<circle cx="258.49" cy="37.85" r="1.15" fill="#3442b6"/>
<circle cx="261.91" cy="40.85" r="1.15" fill="#3442b6"/>
<circle cx="258.27" cy="34.13" r="1.15" fill="#3442b6"/>
<circle cx="261.96" cy="39.01" r="1.15" fill="#3442b6"/>
<circle cx="261.67" cy="39.42" r="1.15" fill="#3442b6"/>
<circle cx="259.81" cy="35.94" r="1.15" fill="#3442b6"/>
<rect x="267.9" y="21.3" width="5.7" height="59.7" fill="#6ad6d6" stroke="#2a8a9a" stroke-width="1.2"/>
<path d="M270.75 18.3V24.3M269.15 18.3H272.35" stroke="#2a8aa6" stroke-width="0.8" fill="none"/>
<circle cx="270.11" cy="26.09" r="1.15" fill="#2a8aa6"/>
<circle cx="269.18" cy="17.03" r="1.15" fill="#2a8aa6"/>
<circle cx="269.29" cy="21.51" r="1.15" fill="#2a8aa6"/>
<circle cx="270.68" cy="23.15" r="1.15" fill="#2a8aa6"/>
<circle cx="271.15" cy="21.28" r="1.15" fill="#2a8aa6"/>
<circle cx="270.39" cy="21.53" r="1.15" fill="#2a8aa6"/>
<circle cx="270.16" cy="15.53" r="1.15" fill="#2a8aa6"/>
<circle cx="271.61" cy="18.75" r="1.15" fill="#2a8aa6"/>
<rect x="278.3" y="35.3" width="6" height="45.7" fill="#ee9484" stroke="#f05a30" stroke-width="1.2"/>
<path d="M281.3 33.1V37.5M279.7 33.1H282.9" stroke="#f0602e" stroke-width="0.8" fill="none"/>
<circle cx="281.37" cy="33.22" r="1.15" fill="#f0602e"/>
<circle cx="279.16" cy="33.41" r="1.15" fill="#f0602e"/>
<circle cx="283.22" cy="36.01" r="1.15" fill="#f0602e"/>
<circle cx="282.73" cy="31.56" r="1.15" fill="#f0602e"/>
<circle cx="280.78" cy="34.6" r="1.15" fill="#f0602e"/>
<circle cx="281.94" cy="35.82" r="1.15" fill="#f0602e"/>
<circle cx="279.2" cy="36.47" r="1.15" fill="#f0602e"/>
<circle cx="279.68" cy="35.83" r="1.15" fill="#f0602e"/>
<path d="M242.4 12.3V81H288.7" stroke="#2a2a2a" stroke-width="1.1" fill="none"/>
<path d="M239.6 81H242.4" stroke="#2a2a2a" stroke-width="1.1"/>
<text x="239.1" y="83.16" font-family="Liberation Sans" font-size="6" font-weight="bold" text-anchor="end" fill="#1e1e1e" stroke="#1e1e1e" stroke-width="0.16">0</text>
<path d="M239.6 63.83H242.4" stroke="#2a2a2a" stroke-width="1.1"/>
<text x="239.1" y="65.98" font-family="Liberation Sans" font-size="6" font-weight="bold" text-anchor="end" fill="#1e1e1e" stroke="#1e1e1e" stroke-width="0.16">2</text>
<path d="M239.6 46.65H242.4" stroke="#2a2a2a" stroke-width="1.1"/>
<text x="239.1" y="48.81" font-family="Liberation Sans" font-size="6" font-weight="bold" text-anchor="end" fill="#1e1e1e" stroke="#1e1e1e" stroke-width="0.16">4</text>
<path d="M239.6 29.47H242.4" stroke="#2a2a2a" stroke-width="1.1"/>
<text x="239.1" y="31.63" font-family="Liberation Sans" font-size="6" font-weight="bold" text-anchor="end" fill="#1e1e1e" stroke="#1e1e1e" stroke-width="0.16">6</text>
<path d="M239.6 12.3H242.4" stroke="#2a2a2a" stroke-width="1.1"/>
<text x="239.1" y="14.46" font-family="Liberation Sans" font-size="6" font-weight="bold" text-anchor="end" fill="#1e1e1e" stroke="#1e1e1e" stroke-width="0.16">8</text>
<path d="M249.3 24.6V10.2H260V32" stroke="#2a2a2a" stroke-width="1.0" fill="none"/>
<text x="254.65" y="10.9" font-family="Liberation Sans" font-size="6.9" font-weight="normal" text-anchor="middle" fill="#1e1e1e" stroke="#1e1e1e" stroke-width="0.12">****</text>
<path d="M270.6 18V10.2H280.8V33.7" stroke="#2a2a2a" stroke-width="1.0" fill="none"/>
<text x="275.7" y="10.9" font-family="Liberation Sans" font-size="6.9" font-weight="normal" text-anchor="middle" fill="#1e1e1e" stroke="#1e1e1e" stroke-width="0.12">****</text>
<text x="233.31" y="46.5" font-family="Liberation Sans" font-size="5.85" font-weight="bold" text-anchor="middle" fill="#1e1e1e" transform="rotate(-90 233.31 46.5)" stroke="#1e1e1e" stroke-width="0.16">Liver/body weight (%)</text>
<rect x="293.6" y="5" width="7" height="3.6" fill="#9d7cc3" stroke="#2e1a66" stroke-width="1"/>
<text x="305" y="8.82" font-family="Liberation Sans" font-size="5.6" font-weight="normal" text-anchor="start" fill="#1e1e1e" stroke="#1e1e1e" stroke-width="0.12">Flox-HFD</text>
<rect x="293.6" y="13.6" width="7" height="3.6" fill="#5ac6ee" stroke="#3a4cb0" stroke-width="1"/>
<text x="305" y="17.42" font-family="Liberation Sans" font-size="5.6" font-weight="normal" text-anchor="start" fill="#1e1e1e" stroke="#1e1e1e" stroke-width="0.12">Flox-HFD+PF</text>
<rect x="293.6" y="22.2" width="7" height="3.6" fill="#6ad6d6" stroke="#2a8a9a" stroke-width="1"/>
<text x="305" y="26.02" font-family="Liberation Sans" font-size="5.6" font-weight="normal" text-anchor="start" fill="#1e1e1e" stroke="#1e1e1e" stroke-width="0.12">HKO-HFD</text>
<rect x="293.6" y="30.1" width="7" height="3.6" fill="#ee9484" stroke="#f05a30" stroke-width="1"/>
<text x="305" y="33.92" font-family="Liberation Sans" font-size="5.6" font-weight="normal" text-anchor="start" fill="#1e1e1e" stroke="#1e1e1e" stroke-width="0.12">HKO-HFD+PF</text>
<text x="428.8" y="105.8" font-family="Liberation Serif" font-size="12" font-weight="bold" text-anchor="start" fill="#111" stroke="#111" stroke-width="0.22">D</text>
<rect x="473.1" y="148.9" width="7.2" height="56.5" fill="#9d7cc3" stroke="#2e1a66" stroke-width="1.2"/>
<path d="M476.7 145.4V152.4M475.1 145.4H478.3" stroke="#6e2ab4" stroke-width="0.8" fill="none"/>
<circle cx="475.74" cy="148.96" r="1.15" fill="#6e2ab4"/>
<circle cx="474.61" cy="148.92" r="1.15" fill="#6e2ab4"/>
<circle cx="474.31" cy="148.46" r="1.15" fill="#6e2ab4"/>
<circle cx="478.95" cy="149.41" r="1.15" fill="#6e2ab4"/>
<circle cx="477.38" cy="150.25" r="1.15" fill="#6e2ab4"/>
<circle cx="475.78" cy="150.72" r="1.15" fill="#6e2ab4"/>
<circle cx="475.88" cy="153.05" r="1.15" fill="#6e2ab4"/>
<circle cx="479.66" cy="152.93" r="1.15" fill="#6e2ab4"/>
<rect x="485.9" y="163.5" width="7.3" height="41.9" fill="#5ac6ee" stroke="#3a4cb0" stroke-width="1.2"/>
<path d="M489.55 161.5V165.5M487.95 161.5H491.15" stroke="#3442b6" stroke-width="0.8" fill="none"/>
<circle cx="489.34" cy="162.78" r="1.15" fill="#3442b6"/>
<circle cx="487.12" cy="163.57" r="1.15" fill="#3442b6"/>
<circle cx="488.59" cy="163.2" r="1.15" fill="#3442b6"/>
<circle cx="487.48" cy="166.68" r="1.15" fill="#3442b6"/>
<circle cx="486.64" cy="165.49" r="1.15" fill="#3442b6"/>
<circle cx="487.39" cy="162.87" r="1.15" fill="#3442b6"/>
<circle cx="489.81" cy="165.55" r="1.15" fill="#3442b6"/>
<circle cx="492.47" cy="163.85" r="1.15" fill="#3442b6"/>
<rect x="498.8" y="137.6" width="7.5" height="67.8" fill="#6ad6d6" stroke="#2a8a9a" stroke-width="1.2"/>
<path d="M502.55 134.6V140.6M500.95 134.6H504.15" stroke="#2a8aa6" stroke-width="0.8" fill="none"/>
<circle cx="504.84" cy="136.94" r="1.15" fill="#2a8aa6"/>
<circle cx="501.71" cy="135.73" r="1.15" fill="#2a8aa6"/>
<circle cx="500.45" cy="138.03" r="1.15" fill="#2a8aa6"/>
<circle cx="504.31" cy="134.48" r="1.15" fill="#2a8aa6"/>
<circle cx="501.48" cy="138.39" r="1.15" fill="#2a8aa6"/>
<circle cx="505.61" cy="142.19" r="1.15" fill="#2a8aa6"/>
<circle cx="504.77" cy="139.23" r="1.15" fill="#2a8aa6"/>
<circle cx="504.06" cy="133.18" r="1.15" fill="#2a8aa6"/>
<rect x="511.9" y="160.6" width="7.5" height="44.8" fill="#ee9484" stroke="#f05a30" stroke-width="1.2"/>
<path d="M515.65 158.6V162.6M514.05 158.6H517.25" stroke="#f0602e" stroke-width="0.8" fill="none"/>
<circle cx="513.93" cy="159.02" r="1.15" fill="#f0602e"/>
<circle cx="512.68" cy="160.42" r="1.15" fill="#f0602e"/>
<circle cx="512.68" cy="160.36" r="1.15" fill="#f0602e"/>
<circle cx="516.86" cy="161.89" r="1.15" fill="#f0602e"/>
<circle cx="518.53" cy="156.82" r="1.15" fill="#f0602e"/>
<circle cx="518.72" cy="161.9" r="1.15" fill="#f0602e"/>
<circle cx="518.52" cy="159.81" r="1.15" fill="#f0602e"/>
<circle cx="513.93" cy="161.5" r="1.15" fill="#f0602e"/>
<path d="M468.6 121.7V205.4H524" stroke="#2a2a2a" stroke-width="1.1" fill="none"/>
<path d="M465.8 205.4H468.6" stroke="#2a2a2a" stroke-width="1.1"/>
<text x="465.3" y="207.63" font-family="Liberation Sans" font-size="6.2" font-weight="bold" text-anchor="end" fill="#1e1e1e" stroke="#1e1e1e" stroke-width="0.16">0</text>
<path d="M465.8 184.47H468.6" stroke="#2a2a2a" stroke-width="1.1"/>
<text x="465.3" y="186.71" font-family="Liberation Sans" font-size="6.2" font-weight="bold" text-anchor="end" fill="#1e1e1e" stroke="#1e1e1e" stroke-width="0.16">50</text>
<path d="M465.8 163.55H468.6" stroke="#2a2a2a" stroke-width="1.1"/>
<text x="465.3" y="165.78" font-family="Liberation Sans" font-size="6.2" font-weight="bold" text-anchor="end" fill="#1e1e1e" stroke="#1e1e1e" stroke-width="0.16">100</text>
<path d="M465.8 142.62H468.6" stroke="#2a2a2a" stroke-width="1.1"/>
<text x="465.3" y="144.86" font-family="Liberation Sans" font-size="6.2" font-weight="bold" text-anchor="end" fill="#1e1e1e" stroke="#1e1e1e" stroke-width="0.16">150</text>
<path d="M465.8 121.7H468.6" stroke="#2a2a2a" stroke-width="1.1"/>
<text x="465.3" y="123.93" font-family="Liberation Sans" font-size="6.2" font-weight="bold" text-anchor="end" fill="#1e1e1e" stroke="#1e1e1e" stroke-width="0.16">200</text>
<path d="M475.8 140.4V124.6H489V156.5" stroke="#2a2a2a" stroke-width="1.0" fill="none"/>
<text x="482.4" y="123.95" font-family="Liberation Sans" font-size="7.5" font-weight="normal" text-anchor="middle" fill="#1e1e1e" stroke="#1e1e1e" stroke-width="0.12">****</text>
<path d="M502.5 131V124.6H515.2V153.3" stroke="#2a2a2a" stroke-width="1.0" fill="none"/>
<text x="508.85" y="123.95" font-family="Liberation Sans" font-size="7.5" font-weight="normal" text-anchor="middle" fill="#1e1e1e" stroke="#1e1e1e" stroke-width="0.12">****</text>
<text x="449.88" y="163.5" font-family="Liberation Sans" font-size="6.9" font-weight="bold" text-anchor="middle" fill="#1e1e1e" transform="rotate(-90 449.88 163.5)" stroke="#1e1e1e" stroke-width="0.16">Liver TC (μmol/g protein)</text>
<rect x="573.4" y="149.9" width="7.6" height="52.2" fill="#9d7cc3" stroke="#2e1a66" stroke-width="1.2"/>
<path d="M577.2 146.4V153.4M575.6 146.4H578.8" stroke="#6e2ab4" stroke-width="0.8" fill="none"/>
<circle cx="575.26" cy="151.08" r="1.15" fill="#6e2ab4"/>
<circle cx="579.76" cy="153.89" r="1.15" fill="#6e2ab4"/>
<circle cx="579.38" cy="145.61" r="1.15" fill="#6e2ab4"/>
<circle cx="579.12" cy="150.46" r="1.15" fill="#6e2ab4"/>
<circle cx="574.54" cy="146.42" r="1.15" fill="#6e2ab4"/>
<circle cx="579.01" cy="144.38" r="1.15" fill="#6e2ab4"/>
<circle cx="578.8" cy="148.05" r="1.15" fill="#6e2ab4"/>
<circle cx="579.05" cy="150.16" r="1.15" fill="#6e2ab4"/>
<rect x="585.9" y="159.5" width="7.6" height="42.6" fill="#5ac6ee" stroke="#3a4cb0" stroke-width="1.2"/>
<path d="M589.7 157.5V161.5M588.1 157.5H591.3" stroke="#3442b6" stroke-width="0.8" fill="none"/>
<circle cx="588.63" cy="160.92" r="1.15" fill="#3442b6"/>
<circle cx="589.03" cy="155.19" r="1.15" fill="#3442b6"/>
<circle cx="589.07" cy="162.08" r="1.15" fill="#3442b6"/>
<circle cx="587.59" cy="158.6" r="1.15" fill="#3442b6"/>
<circle cx="587.31" cy="161.65" r="1.15" fill="#3442b6"/>
<circle cx="591.66" cy="162.5" r="1.15" fill="#3442b6"/>
<circle cx="587.44" cy="161.7" r="1.15" fill="#3442b6"/>
<circle cx="590.71" cy="155.28" r="1.15" fill="#3442b6"/>
<rect x="599.1" y="136.9" width="7.5" height="65.2" fill="#6ad6d6" stroke="#2a8a9a" stroke-width="1.2"/>
<path d="M602.85 133.9V139.9M601.25 133.9H604.45" stroke="#2a8aa6" stroke-width="0.8" fill="none"/>
<circle cx="601.91" cy="135.61" r="1.15" fill="#2a8aa6"/>
<circle cx="599.79" cy="136.49" r="1.15" fill="#2a8aa6"/>
<circle cx="605.82" cy="135.06" r="1.15" fill="#2a8aa6"/>
<circle cx="605.58" cy="134.38" r="1.15" fill="#2a8aa6"/>
<circle cx="602.43" cy="140.2" r="1.15" fill="#2a8aa6"/>
<circle cx="601.03" cy="133.46" r="1.15" fill="#2a8aa6"/>
<circle cx="601.29" cy="136.4" r="1.15" fill="#2a8aa6"/>
<circle cx="603.39" cy="138.72" r="1.15" fill="#2a8aa6"/>
<rect x="611.8" y="156.2" width="7.5" height="45.9" fill="#ee9484" stroke="#f05a30" stroke-width="1.2"/>
<path d="M615.55 154V158.4M613.95 154H617.15" stroke="#f0602e" stroke-width="0.8" fill="none"/>
<circle cx="614.03" cy="155.33" r="1.15" fill="#f0602e"/>
<circle cx="618.13" cy="156.68" r="1.15" fill="#f0602e"/>
<circle cx="614.63" cy="153.81" r="1.15" fill="#f0602e"/>
<circle cx="618.1" cy="156.84" r="1.15" fill="#f0602e"/>
<circle cx="615.05" cy="158.12" r="1.15" fill="#f0602e"/>
<circle cx="615.75" cy="155.11" r="1.15" fill="#f0602e"/>
<circle cx="615.7" cy="158.2" r="1.15" fill="#f0602e"/>
<circle cx="613.55" cy="156.44" r="1.15" fill="#f0602e"/>
<path d="M568.5 118.5V202.1H624.3" stroke="#2a2a2a" stroke-width="1.1" fill="none"/>
<path d="M565.7 202.1H568.5" stroke="#2a2a2a" stroke-width="1.1"/>
<text x="565.2" y="204.33" font-family="Liberation Sans" font-size="6.2" font-weight="bold" text-anchor="end" fill="#1e1e1e" stroke="#1e1e1e" stroke-width="0.16">0</text>
<path d="M565.7 181.2H568.5" stroke="#2a2a2a" stroke-width="1.1"/>
<text x="565.2" y="183.43" font-family="Liberation Sans" font-size="6.2" font-weight="bold" text-anchor="end" fill="#1e1e1e" stroke="#1e1e1e" stroke-width="0.16">50</text>
<path d="M565.7 160.3H568.5" stroke="#2a2a2a" stroke-width="1.1"/>
<text x="565.2" y="162.53" font-family="Liberation Sans" font-size="6.2" font-weight="bold" text-anchor="end" fill="#1e1e1e" stroke="#1e1e1e" stroke-width="0.16">100</text>
<path d="M565.7 139.4H568.5" stroke="#2a2a2a" stroke-width="1.1"/>
<text x="565.2" y="141.63" font-family="Liberation Sans" font-size="6.2" font-weight="bold" text-anchor="end" fill="#1e1e1e" stroke="#1e1e1e" stroke-width="0.16">150</text>
<path d="M565.7 118.5H568.5" stroke="#2a2a2a" stroke-width="1.1"/>
<text x="565.2" y="120.73" font-family="Liberation Sans" font-size="6.2" font-weight="bold" text-anchor="end" fill="#1e1e1e" stroke="#1e1e1e" stroke-width="0.16">200</text>
<path d="M576.8 141V121.3H590.4V152.5" stroke="#2a2a2a" stroke-width="1.0" fill="none"/>
<text x="583.6" y="121.75" font-family="Liberation Sans" font-size="7.5" font-weight="normal" text-anchor="middle" fill="#1e1e1e" stroke="#1e1e1e" stroke-width="0.12">****</text>
<path d="M602.4 130V121.3H615.5V149" stroke="#2a2a2a" stroke-width="1.0" fill="none"/>
<text x="608.95" y="121.75" font-family="Liberation Sans" font-size="7.5" font-weight="normal" text-anchor="middle" fill="#1e1e1e" stroke="#1e1e1e" stroke-width="0.12">****</text>
<text x="550.18" y="160.5" font-family="Liberation Sans" font-size="6.9" font-weight="bold" text-anchor="middle" fill="#1e1e1e" transform="rotate(-90 550.18 160.5)" stroke="#1e1e1e" stroke-width="0.16">Liver TG (μmol/g protein)</text>
<rect x="481.9" y="255.1" width="6.7" height="50.8" fill="#9d7cc3" stroke="#2e1a66" stroke-width="1.2"/>
<path d="M485.25 251.6V258.6M483.65 251.6H486.85" stroke="#6e2ab4" stroke-width="0.8" fill="none"/>
<circle cx="482.52" cy="255.66" r="1.15" fill="#6e2ab4"/>
<circle cx="485.1" cy="253.36" r="1.15" fill="#6e2ab4"/>
<circle cx="486.49" cy="252.62" r="1.15" fill="#6e2ab4"/>
<circle cx="485.35" cy="254.18" r="1.15" fill="#6e2ab4"/>
<circle cx="485.55" cy="255.4" r="1.15" fill="#6e2ab4"/>
<circle cx="485.58" cy="253.72" r="1.15" fill="#6e2ab4"/>
<circle cx="483.87" cy="254.24" r="1.15" fill="#6e2ab4"/>
<circle cx="485.29" cy="260.14" r="1.15" fill="#6e2ab4"/>
<rect x="494.4" y="269.7" width="6.7" height="36.2" fill="#5ac6ee" stroke="#3a4cb0" stroke-width="1.2"/>
<path d="M497.75 267.2V272.2M496.15 267.2H499.35" stroke="#3442b6" stroke-width="0.8" fill="none"/>
<circle cx="498.09" cy="269.99" r="1.15" fill="#3442b6"/>
<circle cx="497.44" cy="265.02" r="1.15" fill="#3442b6"/>
<circle cx="498.37" cy="267.16" r="1.15" fill="#3442b6"/>
<circle cx="498.81" cy="269.61" r="1.15" fill="#3442b6"/>
<circle cx="497.49" cy="267.33" r="1.15" fill="#3442b6"/>
<circle cx="500.18" cy="269.2" r="1.15" fill="#3442b6"/>
<circle cx="498.85" cy="273.32" r="1.15" fill="#3442b6"/>
<circle cx="496.43" cy="266.15" r="1.15" fill="#3442b6"/>
<rect x="507.1" y="242.7" width="6.9" height="63.2" fill="#6ad6d6" stroke="#2a8a9a" stroke-width="1.2"/>
<path d="M510.55 240.9V244.5M508.95 240.9H512.15" stroke="#2a8aa6" stroke-width="0.8" fill="none"/>
<circle cx="510.89" cy="245.44" r="1.15" fill="#2a8aa6"/>
<circle cx="508.48" cy="241.68" r="1.15" fill="#2a8aa6"/>
<circle cx="508.39" cy="242.15" r="1.15" fill="#2a8aa6"/>
<circle cx="509.07" cy="242.91" r="1.15" fill="#2a8aa6"/>
<circle cx="508.12" cy="241.4" r="1.15" fill="#2a8aa6"/>
<circle cx="512.81" cy="240.36" r="1.15" fill="#2a8aa6"/>
<circle cx="508.58" cy="242.23" r="1.15" fill="#2a8aa6"/>
<circle cx="508.51" cy="240.5" r="1.15" fill="#2a8aa6"/>
<rect x="519.8" y="262.6" width="7.3" height="43.3" fill="#ee9484" stroke="#f05a30" stroke-width="1.2"/>
<path d="M523.45 260.1V265.1M521.85 260.1H525.05" stroke="#f0602e" stroke-width="0.8" fill="none"/>
<circle cx="525.79" cy="264.07" r="1.15" fill="#f0602e"/>
<circle cx="526.21" cy="262.3" r="1.15" fill="#f0602e"/>
<circle cx="522.83" cy="256.18" r="1.15" fill="#f0602e"/>
<circle cx="525.48" cy="263.11" r="1.15" fill="#f0602e"/>
<circle cx="521.38" cy="260.27" r="1.15" fill="#f0602e"/>
<circle cx="522.47" cy="263.67" r="1.15" fill="#f0602e"/>
<circle cx="521.59" cy="261.18" r="1.15" fill="#f0602e"/>
<circle cx="520.52" cy="265.69" r="1.15" fill="#f0602e"/>
<path d="M476.5 222.7V305.9H532.1" stroke="#2a2a2a" stroke-width="1.1" fill="none"/>
<path d="M473.7 305.9H476.5" stroke="#2a2a2a" stroke-width="1.1"/>
<text x="473.2" y="308.13" font-family="Liberation Sans" font-size="6.2" font-weight="bold" text-anchor="end" fill="#1e1e1e" stroke="#1e1e1e" stroke-width="0.16">0</text>
<path d="M473.7 285.1H476.5" stroke="#2a2a2a" stroke-width="1.1"/>
<text x="473.2" y="287.33" font-family="Liberation Sans" font-size="6.2" font-weight="bold" text-anchor="end" fill="#1e1e1e" stroke="#1e1e1e" stroke-width="0.16">50</text>
<path d="M473.7 264.3H476.5" stroke="#2a2a2a" stroke-width="1.1"/>
<text x="473.2" y="266.53" font-family="Liberation Sans" font-size="6.2" font-weight="bold" text-anchor="end" fill="#1e1e1e" stroke="#1e1e1e" stroke-width="0.16">100</text>
<path d="M473.7 243.5H476.5" stroke="#2a2a2a" stroke-width="1.1"/>
<text x="473.2" y="245.73" font-family="Liberation Sans" font-size="6.2" font-weight="bold" text-anchor="end" fill="#1e1e1e" stroke="#1e1e1e" stroke-width="0.16">150</text>
<path d="M473.7 222.7H476.5" stroke="#2a2a2a" stroke-width="1.1"/>
<text x="473.2" y="224.93" font-family="Liberation Sans" font-size="6.2" font-weight="bold" text-anchor="end" fill="#1e1e1e" stroke="#1e1e1e" stroke-width="0.16">200</text>
<path d="M484.2 246V230.1H497.7V262" stroke="#2a2a2a" stroke-width="1.0" fill="none"/>
<text x="490.95" y="230.15" font-family="Liberation Sans" font-size="7.5" font-weight="normal" text-anchor="middle" fill="#1e1e1e" stroke="#1e1e1e" stroke-width="0.12">****</text>
<path d="M510.4 237V230.1H523.4V255" stroke="#2a2a2a" stroke-width="1.0" fill="none"/>
<text x="516.9" y="230.15" font-family="Liberation Sans" font-size="7.5" font-weight="normal" text-anchor="middle" fill="#1e1e1e" stroke="#1e1e1e" stroke-width="0.12">****</text>
<text x="457.48" y="264" font-family="Liberation Sans" font-size="6.9" font-weight="bold" text-anchor="middle" fill="#1e1e1e" transform="rotate(-90 457.48 264)" stroke="#1e1e1e" stroke-width="0.16">Serum AST (U/L)</text>
<rect x="575" y="258.9" width="7.1" height="47" fill="#9d7cc3" stroke="#2e1a66" stroke-width="1.2"/>
<path d="M578.55 255.9V261.9M576.95 255.9H580.15" stroke="#6e2ab4" stroke-width="0.8" fill="none"/>
<circle cx="578.87" cy="258.45" r="1.15" fill="#6e2ab4"/>
<circle cx="577.56" cy="259.08" r="1.15" fill="#6e2ab4"/>
<circle cx="579.28" cy="257.97" r="1.15" fill="#6e2ab4"/>
<circle cx="581.41" cy="258.83" r="1.15" fill="#6e2ab4"/>
<circle cx="580.25" cy="260.08" r="1.15" fill="#6e2ab4"/>
<circle cx="577.17" cy="258.69" r="1.15" fill="#6e2ab4"/>
<circle cx="575.83" cy="259.27" r="1.15" fill="#6e2ab4"/>
<circle cx="576.36" cy="256.91" r="1.15" fill="#6e2ab4"/>
<rect x="587.2" y="268.9" width="7.4" height="37" fill="#5ac6ee" stroke="#3a4cb0" stroke-width="1.2"/>
<path d="M590.9 266.4V271.4M589.3 266.4H592.5" stroke="#3442b6" stroke-width="0.8" fill="none"/>
<circle cx="590.42" cy="272.24" r="1.15" fill="#3442b6"/>
<circle cx="589.4" cy="266.82" r="1.15" fill="#3442b6"/>
<circle cx="588.73" cy="271.31" r="1.15" fill="#3442b6"/>
<circle cx="592.14" cy="267.56" r="1.15" fill="#3442b6"/>
<circle cx="588.35" cy="271.93" r="1.15" fill="#3442b6"/>
<circle cx="590.44" cy="270.05" r="1.15" fill="#3442b6"/>
<circle cx="588.25" cy="271.69" r="1.15" fill="#3442b6"/>
<circle cx="592.77" cy="267.76" r="1.15" fill="#3442b6"/>
<rect x="600.2" y="241.8" width="7.5" height="64.1" fill="#6ad6d6" stroke="#2a8a9a" stroke-width="1.2"/>
<path d="M603.95 238.3V245.3M602.35 238.3H605.55" stroke="#2a8aa6" stroke-width="0.8" fill="none"/>
<circle cx="601.33" cy="242.48" r="1.15" fill="#2a8aa6"/>
<circle cx="606.24" cy="240.93" r="1.15" fill="#2a8aa6"/>
<circle cx="603.66" cy="239.79" r="1.15" fill="#2a8aa6"/>
<circle cx="606.64" cy="245" r="1.15" fill="#2a8aa6"/>
<circle cx="602.49" cy="244.3" r="1.15" fill="#2a8aa6"/>
<circle cx="602.3" cy="244.44" r="1.15" fill="#2a8aa6"/>
<circle cx="601.49" cy="242.31" r="1.15" fill="#2a8aa6"/>
<circle cx="602.07" cy="242.61" r="1.15" fill="#2a8aa6"/>
<rect x="612.9" y="256.4" width="7.5" height="49.5" fill="#ee9484" stroke="#f05a30" stroke-width="1.2"/>
<path d="M616.65 253.9V258.9M615.05 253.9H618.25" stroke="#f0602e" stroke-width="0.8" fill="none"/>
<circle cx="615.47" cy="255.18" r="1.15" fill="#f0602e"/>
<circle cx="615.33" cy="259.78" r="1.15" fill="#f0602e"/>
<circle cx="616.65" cy="257.26" r="1.15" fill="#f0602e"/>
<circle cx="613.61" cy="258.16" r="1.15" fill="#f0602e"/>
<circle cx="615.08" cy="259.84" r="1.15" fill="#f0602e"/>
<circle cx="616.97" cy="256.73" r="1.15" fill="#f0602e"/>
<circle cx="614.69" cy="251.5" r="1.15" fill="#f0602e"/>
<circle cx="614.17" cy="257.18" r="1.15" fill="#f0602e"/>
<path d="M569.6 222.7V305.9H625.4" stroke="#2a2a2a" stroke-width="1.1" fill="none"/>
<path d="M566.8 305.9H569.6" stroke="#2a2a2a" stroke-width="1.1"/>
<text x="566.3" y="308.13" font-family="Liberation Sans" font-size="6.2" font-weight="bold" text-anchor="end" fill="#1e1e1e" stroke="#1e1e1e" stroke-width="0.16">0</text>
<path d="M566.8 285.1H569.6" stroke="#2a2a2a" stroke-width="1.1"/>
<text x="566.3" y="287.33" font-family="Liberation Sans" font-size="6.2" font-weight="bold" text-anchor="end" fill="#1e1e1e" stroke="#1e1e1e" stroke-width="0.16">50</text>
<path d="M566.8 264.3H569.6" stroke="#2a2a2a" stroke-width="1.1"/>
<text x="566.3" y="266.53" font-family="Liberation Sans" font-size="6.2" font-weight="bold" text-anchor="end" fill="#1e1e1e" stroke="#1e1e1e" stroke-width="0.16">100</text>
<path d="M566.8 243.5H569.6" stroke="#2a2a2a" stroke-width="1.1"/>
<text x="566.3" y="245.73" font-family="Liberation Sans" font-size="6.2" font-weight="bold" text-anchor="end" fill="#1e1e1e" stroke="#1e1e1e" stroke-width="0.16">150</text>
<path d="M566.8 222.7H569.6" stroke="#2a2a2a" stroke-width="1.1"/>
<text x="566.3" y="224.93" font-family="Liberation Sans" font-size="6.2" font-weight="bold" text-anchor="end" fill="#1e1e1e" stroke="#1e1e1e" stroke-width="0.16">200</text>
<path d="M578.3 252V226H591.5V262" stroke="#2a2a2a" stroke-width="1.0" fill="none"/>
<text x="584.9" y="225.75" font-family="Liberation Sans" font-size="7.5" font-weight="normal" text-anchor="middle" fill="#1e1e1e" stroke="#1e1e1e" stroke-width="0.12">****</text>
<path d="M603.9 234V226H616.6V250" stroke="#2a2a2a" stroke-width="1.0" fill="none"/>
<text x="610.25" y="225.75" font-family="Liberation Sans" font-size="7.5" font-weight="normal" text-anchor="middle" fill="#1e1e1e" stroke="#1e1e1e" stroke-width="0.12">****</text>
<text x="550.78" y="264" font-family="Liberation Sans" font-size="6.9" font-weight="bold" text-anchor="middle" fill="#1e1e1e" transform="rotate(-90 550.78 264)" stroke="#1e1e1e" stroke-width="0.16">Serum ALT (U/L)</text>
<rect x="627.3" y="226" width="8" height="4" fill="#9d7cc3" stroke="#2e1a66" stroke-width="1"/>
<text x="640.9" y="230.45" font-family="Liberation Sans" font-size="6.8" font-weight="normal" text-anchor="start" fill="#1e1e1e" stroke="#1e1e1e" stroke-width="0.12">Flox-HFD</text>
<rect x="627.3" y="237.1" width="8" height="4" fill="#5ac6ee" stroke="#3a4cb0" stroke-width="1"/>
<text x="640.9" y="241.55" font-family="Liberation Sans" font-size="6.8" font-weight="normal" text-anchor="start" fill="#1e1e1e" stroke="#1e1e1e" stroke-width="0.12">Flox-HFD+PF</text>
<rect x="627.3" y="248.1" width="8" height="4" fill="#6ad6d6" stroke="#2a8a9a" stroke-width="1"/>
<text x="640.9" y="252.55" font-family="Liberation Sans" font-size="6.8" font-weight="normal" text-anchor="start" fill="#1e1e1e" stroke="#1e1e1e" stroke-width="0.12">HKO-HFD</text>
<rect x="627.3" y="259.3" width="8" height="4" fill="#ee9484" stroke="#f05a30" stroke-width="1"/>
<text x="640.9" y="263.75" font-family="Liberation Sans" font-size="6.8" font-weight="normal" text-anchor="start" fill="#1e1e1e" stroke="#1e1e1e" stroke-width="0.12">HKO-HFD+PF</text>
<text x="170.2" y="351.5" font-family="Liberation Serif" font-size="12" font-weight="bold" text-anchor="start" fill="#111" stroke="#111" stroke-width="0.22">F</text>
<rect x="239.7" y="395.6" width="6.6" height="32.9" fill="#9d7cc3" stroke="#2e1a66" stroke-width="1.2"/>
<path d="M243 392.6V398.6M241.4 392.6H244.6" stroke="#6e2ab4" stroke-width="0.8" fill="none"/>
<circle cx="244.72" cy="392.89" r="1.15" fill="#6e2ab4"/>
<circle cx="244.81" cy="396.83" r="1.15" fill="#6e2ab4"/>
<circle cx="242.42" cy="391.71" r="1.15" fill="#6e2ab4"/>
<rect x="251.1" y="411.5" width="7" height="17" fill="#5ac6ee" stroke="#3a4cb0" stroke-width="1.2"/>
<path d="M254.6 410.3V412.7M253 410.3H256.2" stroke="#3442b6" stroke-width="0.8" fill="none"/>
<circle cx="257.4" cy="411.43" r="1.15" fill="#3442b6"/>
<circle cx="253.69" cy="412.29" r="1.15" fill="#3442b6"/>
<circle cx="255.39" cy="410.11" r="1.15" fill="#3442b6"/>
<rect x="263.4" y="372.7" width="7" height="55.8" fill="#6ad6d6" stroke="#2a8a9a" stroke-width="1.2"/>
<path d="M266.9 371.7V373.7M265.3 371.7H268.5" stroke="#2a8aa6" stroke-width="0.8" fill="none"/>
<circle cx="266.35" cy="372.54" r="1.15" fill="#2a8aa6"/>
<circle cx="264.75" cy="372.93" r="1.15" fill="#2a8aa6"/>
<circle cx="264.41" cy="372.66" r="1.15" fill="#2a8aa6"/>
<rect x="275.1" y="404.5" width="6.9" height="24" fill="#ee9484" stroke="#f05a30" stroke-width="1.2"/>
<path d="M278.55 403.7V405.3M276.95 403.7H280.15" stroke="#f0602e" stroke-width="0.8" fill="none"/>
<circle cx="276.63" cy="403.98" r="1.15" fill="#f0602e"/>
<circle cx="276.18" cy="405.25" r="1.15" fill="#f0602e"/>
<circle cx="279.52" cy="403.34" r="1.15" fill="#f0602e"/>
<path d="M235 351V428.5H286.7" stroke="#2a2a2a" stroke-width="1.1" fill="none"/>
<path d="M232.2 428.5H235" stroke="#2a2a2a" stroke-width="1.1"/>
<text x="231.7" y="430.66" font-family="Liberation Sans" font-size="6" font-weight="bold" text-anchor="end" fill="#1e1e1e" stroke="#1e1e1e" stroke-width="0.16">0.0</text>
<path d="M232.2 409.12H235" stroke="#2a2a2a" stroke-width="1.1"/>
<text x="231.7" y="411.29" font-family="Liberation Sans" font-size="6" font-weight="bold" text-anchor="end" fill="#1e1e1e" stroke="#1e1e1e" stroke-width="0.16">0.5</text>
<path d="M232.2 389.75H235" stroke="#2a2a2a" stroke-width="1.1"/>
<text x="231.7" y="391.91" font-family="Liberation Sans" font-size="6" font-weight="bold" text-anchor="end" fill="#1e1e1e" stroke="#1e1e1e" stroke-width="0.16">1.0</text>
<path d="M232.2 370.38H235" stroke="#2a2a2a" stroke-width="1.1"/>
<text x="231.7" y="372.54" font-family="Liberation Sans" font-size="6" font-weight="bold" text-anchor="end" fill="#1e1e1e" stroke="#1e1e1e" stroke-width="0.16">1.5</text>
<path d="M232.2 351H235" stroke="#2a2a2a" stroke-width="1.1"/>
<text x="231.7" y="353.16" font-family="Liberation Sans" font-size="6" font-weight="bold" text-anchor="end" fill="#1e1e1e" stroke="#1e1e1e" stroke-width="0.16">2.0</text>
<path d="M242.8 388V362.7H254.6V406" stroke="#2a2a2a" stroke-width="1.0" fill="none"/>
<text x="248.7" y="362.95" font-family="Liberation Sans" font-size="7.5" font-weight="normal" text-anchor="middle" fill="#1e1e1e" stroke="#1e1e1e" stroke-width="0.12">****</text>
<path d="M266.7 368V362.7H278.1V399" stroke="#2a2a2a" stroke-width="1.0" fill="none"/>
<text x="272.4" y="362.95" font-family="Liberation Sans" font-size="7.5" font-weight="normal" text-anchor="middle" fill="#1e1e1e" stroke="#1e1e1e" stroke-width="0.12">****</text>
<text x="219.11" y="390" font-family="Liberation Sans" font-size="6.42" font-weight="bold" text-anchor="middle" fill="#1e1e1e" transform="rotate(-90 219.11 390)" stroke="#1e1e1e" stroke-width="0.16">Relative FASN protein level</text>
<rect x="341.5" y="385" width="6.5" height="44.5" fill="#9d7cc3" stroke="#2e1a66" stroke-width="1.2"/>
<path d="M344.75 383V387M343.15 383H346.35" stroke="#6e2ab4" stroke-width="0.8" fill="none"/>
<circle cx="343.59" cy="385.07" r="1.15" fill="#6e2ab4"/>
<circle cx="344.54" cy="386.41" r="1.15" fill="#6e2ab4"/>
<circle cx="342.93" cy="383.75" r="1.15" fill="#6e2ab4"/>
<rect x="353.1" y="404.5" width="6.6" height="25" fill="#5ac6ee" stroke="#3a4cb0" stroke-width="1.2"/>
<path d="M356.4 403.3V405.7M354.8 403.3H358" stroke="#3442b6" stroke-width="0.8" fill="none"/>
<circle cx="358.89" cy="404.77" r="1.15" fill="#3442b6"/>
<circle cx="358.95" cy="403.77" r="1.15" fill="#3442b6"/>
<circle cx="358.91" cy="404.28" r="1.15" fill="#3442b6"/>
<rect x="365" y="369" width="6.5" height="60.5" fill="#6ad6d6" stroke="#2a8a9a" stroke-width="1.2"/>
<path d="M368.25 367.2V370.8M366.65 367.2H369.85" stroke="#2a8aa6" stroke-width="0.8" fill="none"/>
<circle cx="367.24" cy="368.96" r="1.15" fill="#2a8aa6"/>
<circle cx="367.62" cy="369.06" r="1.15" fill="#2a8aa6"/>
<circle cx="368.12" cy="367.98" r="1.15" fill="#2a8aa6"/>
<rect x="376.8" y="396.4" width="6.8" height="33.1" fill="#ee9484" stroke="#f05a30" stroke-width="1.2"/>
<path d="M380.2 395.6V397.2M378.6 395.6H381.8" stroke="#f0602e" stroke-width="0.8" fill="none"/>
<circle cx="380.23" cy="396.39" r="1.15" fill="#f0602e"/>
<circle cx="377.43" cy="396.37" r="1.15" fill="#f0602e"/>
<circle cx="379.64" cy="396.69" r="1.15" fill="#f0602e"/>
<path d="M336.8 351.5V429.5H388.3" stroke="#2a2a2a" stroke-width="1.1" fill="none"/>
<path d="M334 429.5H336.8" stroke="#2a2a2a" stroke-width="1.1"/>
<text x="333.5" y="431.66" font-family="Liberation Sans" font-size="6" font-weight="bold" text-anchor="end" fill="#1e1e1e" stroke="#1e1e1e" stroke-width="0.16">0.0</text>
<path d="M334 410H336.8" stroke="#2a2a2a" stroke-width="1.1"/>
<text x="333.5" y="412.16" font-family="Liberation Sans" font-size="6" font-weight="bold" text-anchor="end" fill="#1e1e1e" stroke="#1e1e1e" stroke-width="0.16">0.5</text>
<path d="M334 390.5H336.8" stroke="#2a2a2a" stroke-width="1.1"/>
<text x="333.5" y="392.66" font-family="Liberation Sans" font-size="6" font-weight="bold" text-anchor="end" fill="#1e1e1e" stroke="#1e1e1e" stroke-width="0.16">1.0</text>
<path d="M334 371H336.8" stroke="#2a2a2a" stroke-width="1.1"/>
<text x="333.5" y="373.16" font-family="Liberation Sans" font-size="6" font-weight="bold" text-anchor="end" fill="#1e1e1e" stroke="#1e1e1e" stroke-width="0.16">1.5</text>
<path d="M334 351.5H336.8" stroke="#2a2a2a" stroke-width="1.1"/>
<text x="333.5" y="353.66" font-family="Liberation Sans" font-size="6" font-weight="bold" text-anchor="end" fill="#1e1e1e" stroke="#1e1e1e" stroke-width="0.16">2.0</text>
<path d="M344.6 378V358.6H356.6V399" stroke="#2a2a2a" stroke-width="1.0" fill="none"/>
<text x="350.6" y="359.35" font-family="Liberation Sans" font-size="7.5" font-weight="normal" text-anchor="middle" fill="#1e1e1e" stroke="#1e1e1e" stroke-width="0.12">****</text>
<path d="M368 364V358.6H380.1V391" stroke="#2a2a2a" stroke-width="1.0" fill="none"/>
<text x="374.05" y="359.35" font-family="Liberation Sans" font-size="7.5" font-weight="normal" text-anchor="middle" fill="#1e1e1e" stroke="#1e1e1e" stroke-width="0.12">****</text>
<text x="321.11" y="390.5" font-family="Liberation Sans" font-size="6.42" font-weight="bold" text-anchor="middle" fill="#1e1e1e" transform="rotate(-90 321.11 390.5)" stroke="#1e1e1e" stroke-width="0.16">Relative SREBP1 protein level</text>
<rect x="239.6" y="482.6" width="6.5" height="45.8" fill="#9d7cc3" stroke="#2e1a66" stroke-width="1.2"/>
<path d="M242.85 481.4V483.8M241.25 481.4H244.45" stroke="#6e2ab4" stroke-width="0.8" fill="none"/>
<circle cx="240.42" cy="483.46" r="1.15" fill="#6e2ab4"/>
<circle cx="241.43" cy="482.72" r="1.15" fill="#6e2ab4"/>
<circle cx="243.3" cy="480.93" r="1.15" fill="#6e2ab4"/>
<rect x="251.3" y="498.1" width="6.7" height="30.3" fill="#5ac6ee" stroke="#3a4cb0" stroke-width="1.2"/>
<path d="M254.65 496.6V499.6M253.05 496.6H256.25" stroke="#3442b6" stroke-width="0.8" fill="none"/>
<circle cx="255.52" cy="497.71" r="1.15" fill="#3442b6"/>
<circle cx="255.84" cy="499.02" r="1.15" fill="#3442b6"/>
<circle cx="253.69" cy="497.23" r="1.15" fill="#3442b6"/>
<rect x="263.3" y="462.1" width="6.5" height="66.3" fill="#6ad6d6" stroke="#2a8a9a" stroke-width="1.2"/>
<path d="M266.55 461.1V463.1M264.95 461.1H268.15" stroke="#2a8aa6" stroke-width="0.8" fill="none"/>
<circle cx="269.12" cy="462.91" r="1.15" fill="#2a8aa6"/>
<circle cx="267.31" cy="463.2" r="1.15" fill="#2a8aa6"/>
<circle cx="264.13" cy="463.02" r="1.15" fill="#2a8aa6"/>
<rect x="275.2" y="491.9" width="6.6" height="36.5" fill="#ee9484" stroke="#f05a30" stroke-width="1.2"/>
<path d="M278.5 487.9V495.9M276.9 487.9H280.1" stroke="#f0602e" stroke-width="0.8" fill="none"/>
<circle cx="279.19" cy="485.73" r="1.15" fill="#f0602e"/>
<circle cx="279.76" cy="492.61" r="1.15" fill="#f0602e"/>
<circle cx="278.63" cy="490.18" r="1.15" fill="#f0602e"/>
<path d="M235.5 451.4V528.4H286.8" stroke="#2a2a2a" stroke-width="1.1" fill="none"/>
<path d="M232.7 528.4H235.5" stroke="#2a2a2a" stroke-width="1.1"/>
<text x="232.2" y="530.56" font-family="Liberation Sans" font-size="6" font-weight="bold" text-anchor="end" fill="#1e1e1e" stroke="#1e1e1e" stroke-width="0.16">0.0</text>
<path d="M232.7 502.73H235.5" stroke="#2a2a2a" stroke-width="1.1"/>
<text x="232.2" y="504.89" font-family="Liberation Sans" font-size="6" font-weight="bold" text-anchor="end" fill="#1e1e1e" stroke="#1e1e1e" stroke-width="0.16">0.5</text>
<path d="M232.7 477.07H235.5" stroke="#2a2a2a" stroke-width="1.1"/>
<text x="232.2" y="479.23" font-family="Liberation Sans" font-size="6" font-weight="bold" text-anchor="end" fill="#1e1e1e" stroke="#1e1e1e" stroke-width="0.16">1.0</text>
<path d="M232.7 451.4H235.5" stroke="#2a2a2a" stroke-width="1.1"/>
<text x="232.2" y="453.56" font-family="Liberation Sans" font-size="6" font-weight="bold" text-anchor="end" fill="#1e1e1e" stroke="#1e1e1e" stroke-width="0.16">1.5</text>
<path d="M242.8 475V451.4H254.8V492" stroke="#2a2a2a" stroke-width="1.0" fill="none"/>
<text x="248.8" y="452.25" font-family="Liberation Sans" font-size="7.5" font-weight="normal" text-anchor="middle" fill="#1e1e1e" stroke="#1e1e1e" stroke-width="0.12">****</text>
<path d="M266.5 456V451.4H278.5V485" stroke="#2a2a2a" stroke-width="1.0" fill="none"/>
<text x="272.5" y="452.25" font-family="Liberation Sans" font-size="7.5" font-weight="normal" text-anchor="middle" fill="#1e1e1e" stroke="#1e1e1e" stroke-width="0.12">****</text>
<text x="219.11" y="489.5" font-family="Liberation Sans" font-size="6.42" font-weight="bold" text-anchor="middle" fill="#1e1e1e" transform="rotate(-90 219.11 489.5)" stroke="#1e1e1e" stroke-width="0.16">Relative SCD1 protein level</text>
<rect x="341" y="476" width="6.3" height="52.4" fill="#9d7cc3" stroke="#2e1a66" stroke-width="1.2"/>
<path d="M344.15 475.2V476.8M342.55 475.2H345.75" stroke="#6e2ab4" stroke-width="0.8" fill="none"/>
<circle cx="344.17" cy="476.63" r="1.15" fill="#6e2ab4"/>
<circle cx="345.81" cy="474.94" r="1.15" fill="#6e2ab4"/>
<circle cx="344.58" cy="476.81" r="1.15" fill="#6e2ab4"/>
<rect x="352.9" y="487.3" width="6.3" height="41.1" fill="#5ac6ee" stroke="#3a4cb0" stroke-width="1.2"/>
<path d="M356.05 483.8V490.8M354.45 483.8H357.65" stroke="#3442b6" stroke-width="0.8" fill="none"/>
<circle cx="357.04" cy="484.49" r="1.15" fill="#3442b6"/>
<circle cx="354.67" cy="488.86" r="1.15" fill="#3442b6"/>
<circle cx="355.34" cy="487.61" r="1.15" fill="#3442b6"/>
<rect x="364.7" y="461.1" width="6.3" height="67.3" fill="#6ad6d6" stroke="#2a8a9a" stroke-width="1.2"/>
<path d="M367.85 458.6V463.6M366.25 458.6H369.45" stroke="#2a8aa6" stroke-width="0.8" fill="none"/>
<circle cx="365.84" cy="462.5" r="1.15" fill="#2a8aa6"/>
<circle cx="368.5" cy="458.77" r="1.15" fill="#2a8aa6"/>
<circle cx="368.49" cy="460.06" r="1.15" fill="#2a8aa6"/>
<rect x="376.9" y="491.9" width="6.3" height="36.5" fill="#ee9484" stroke="#f05a30" stroke-width="1.2"/>
<path d="M380.05 490.9V492.9M378.45 490.9H381.65" stroke="#f0602e" stroke-width="0.8" fill="none"/>
<circle cx="377.52" cy="491.01" r="1.15" fill="#f0602e"/>
<circle cx="381.57" cy="491.89" r="1.15" fill="#f0602e"/>
<circle cx="380.23" cy="490.89" r="1.15" fill="#f0602e"/>
<path d="M336.5 451.4V528.4H387.8" stroke="#2a2a2a" stroke-width="1.1" fill="none"/>
<path d="M333.7 528.4H336.5" stroke="#2a2a2a" stroke-width="1.1"/>
<text x="333.2" y="530.56" font-family="Liberation Sans" font-size="6" font-weight="bold" text-anchor="end" fill="#1e1e1e" stroke="#1e1e1e" stroke-width="0.16">0.0</text>
<path d="M333.7 502.73H336.5" stroke="#2a2a2a" stroke-width="1.1"/>
<text x="333.2" y="504.89" font-family="Liberation Sans" font-size="6" font-weight="bold" text-anchor="end" fill="#1e1e1e" stroke="#1e1e1e" stroke-width="0.16">0.5</text>
<path d="M333.7 477.07H336.5" stroke="#2a2a2a" stroke-width="1.1"/>
<text x="333.2" y="479.23" font-family="Liberation Sans" font-size="6" font-weight="bold" text-anchor="end" fill="#1e1e1e" stroke="#1e1e1e" stroke-width="0.16">1.0</text>
<path d="M333.7 451.4H336.5" stroke="#2a2a2a" stroke-width="1.1"/>
<text x="333.2" y="453.56" font-family="Liberation Sans" font-size="6" font-weight="bold" text-anchor="end" fill="#1e1e1e" stroke="#1e1e1e" stroke-width="0.16">1.5</text>
<path d="M343.8 470V448.9H356.2V482" stroke="#2a2a2a" stroke-width="1.0" fill="none"/>
<text x="350" y="449.25" font-family="Liberation Sans" font-size="7.5" font-weight="normal" text-anchor="middle" fill="#1e1e1e" stroke="#1e1e1e" stroke-width="0.12">***</text>
<path d="M367.1 455V448.9H379.9V486" stroke="#2a2a2a" stroke-width="1.0" fill="none"/>
<text x="373.5" y="449.25" font-family="Liberation Sans" font-size="7.5" font-weight="normal" text-anchor="middle" fill="#1e1e1e" stroke="#1e1e1e" stroke-width="0.12">****</text>
<text x="320.41" y="489.5" font-family="Liberation Sans" font-size="6.42" font-weight="bold" text-anchor="middle" fill="#1e1e1e" transform="rotate(-90 320.41 489.5)" stroke="#1e1e1e" stroke-width="0.16">Relative PPARγ protein level</text>
<rect x="393.4" y="454.6" width="8.1" height="3.8" fill="#9d7cc3" stroke="#2e1a66" stroke-width="1"/>
<text x="406.4" y="458.77" font-family="Liberation Sans" font-size="6.3" font-weight="normal" text-anchor="start" fill="#1e1e1e" stroke="#1e1e1e" stroke-width="0.12">Flox-HFD</text>
<rect x="393.4" y="464.8" width="8.1" height="3.8" fill="#5ac6ee" stroke="#3a4cb0" stroke-width="1"/>
<text x="406.4" y="468.97" font-family="Liberation Sans" font-size="6.3" font-weight="normal" text-anchor="start" fill="#1e1e1e" stroke="#1e1e1e" stroke-width="0.12">Flox-HFD+PF</text>
<rect x="393.4" y="475.1" width="8.1" height="3.8" fill="#6ad6d6" stroke="#2a8a9a" stroke-width="1"/>
<text x="406.4" y="479.27" font-family="Liberation Sans" font-size="6.3" font-weight="normal" text-anchor="start" fill="#1e1e1e" stroke="#1e1e1e" stroke-width="0.12">HKO-HFD</text>
<rect x="393.4" y="485.3" width="8.1" height="3.8" fill="#ee9484" stroke="#f05a30" stroke-width="1"/>
<text x="406.4" y="489.47" font-family="Liberation Sans" font-size="6.3" font-weight="normal" text-anchor="start" fill="#1e1e1e" stroke="#1e1e1e" stroke-width="0.12">HKO-HFD+PF</text>
<text x="459" y="342" font-family="Liberation Serif" font-size="12" font-weight="bold" text-anchor="start" fill="#111" stroke="#111" stroke-width="0.22">G</text>
<rect x="506.8" y="401.6" width="2.8" height="10.3" fill="#9d7cc3" stroke="#2e1a66" stroke-width="1.2"/>
<path d="M508.2 400.8V402.4M506.6 400.8H509.8" stroke="#6e2ab4" stroke-width="0.8" fill="none"/>
<circle cx="508.45" cy="402.62" r="0.8" fill="#6e2ab4"/>
<circle cx="507.8" cy="402.05" r="0.8" fill="#6e2ab4"/>
<circle cx="507.52" cy="401.49" r="0.8" fill="#6e2ab4"/>
<rect x="513.2" y="404.5" width="3" height="7.4" fill="#5ac6ee" stroke="#3a4cb0" stroke-width="1.2"/>
<path d="M514.7 403.7V405.3M513.1 403.7H516.3" stroke="#3442b6" stroke-width="0.8" fill="none"/>
<circle cx="514.17" cy="405.59" r="0.8" fill="#3442b6"/>
<circle cx="515.13" cy="405.28" r="0.8" fill="#3442b6"/>
<circle cx="514.49" cy="404.38" r="0.8" fill="#3442b6"/>
<rect x="519.8" y="371.2" width="2.8" height="40.7" fill="#6ad6d6" stroke="#2a8a9a" stroke-width="1.2"/>
<path d="M521.2 370.4V372M519.6 370.4H522.8" stroke="#2a8aa6" stroke-width="0.8" fill="none"/>
<circle cx="521.17" cy="370.73" r="0.8" fill="#2a8aa6"/>
<circle cx="521.39" cy="370.14" r="0.8" fill="#2a8aa6"/>
<circle cx="521.43" cy="371.54" r="0.8" fill="#2a8aa6"/>
<rect x="525.9" y="396.7" width="3.2" height="15.2" fill="#ee9484" stroke="#f05a30" stroke-width="1.2"/>
<path d="M527.5 395.9V397.5M525.9 395.9H529.1" stroke="#f0602e" stroke-width="0.8" fill="none"/>
<circle cx="527.01" cy="396.88" r="0.8" fill="#f0602e"/>
<circle cx="527.99" cy="396.4" r="0.8" fill="#f0602e"/>
<circle cx="526.52" cy="397.53" r="0.8" fill="#f0602e"/>
<rect x="536.5" y="401.6" width="2.8" height="10.3" fill="#9d7cc3" stroke="#2e1a66" stroke-width="1.2"/>
<path d="M537.9 400.8V402.4M536.3 400.8H539.5" stroke="#6e2ab4" stroke-width="0.8" fill="none"/>
<circle cx="537.2" cy="401.48" r="0.8" fill="#6e2ab4"/>
<circle cx="538.21" cy="402.61" r="0.8" fill="#6e2ab4"/>
<circle cx="538.18" cy="401.39" r="0.8" fill="#6e2ab4"/>
<rect x="542.5" y="405.5" width="3.2" height="6.4" fill="#5ac6ee" stroke="#3a4cb0" stroke-width="1.2"/>
<path d="M544.1 404.7V406.3M542.5 404.7H545.7" stroke="#3442b6" stroke-width="0.8" fill="none"/>
<circle cx="544.03" cy="406.29" r="0.8" fill="#3442b6"/>
<circle cx="544.03" cy="406.56" r="0.8" fill="#3442b6"/>
<circle cx="543.5" cy="406.48" r="0.8" fill="#3442b6"/>
<rect x="548.9" y="355.1" width="3.2" height="56.8" fill="#6ad6d6" stroke="#2a8a9a" stroke-width="1.2"/>
<path d="M550.5 354.3V355.9M548.9 354.3H552.1" stroke="#2a8aa6" stroke-width="0.8" fill="none"/>
<circle cx="551.46" cy="355.22" r="0.8" fill="#2a8aa6"/>
<circle cx="550.42" cy="355.05" r="0.8" fill="#2a8aa6"/>
<circle cx="551.14" cy="355.83" r="0.8" fill="#2a8aa6"/>
<rect x="556" y="399.2" width="3.2" height="12.7" fill="#ee9484" stroke="#f05a30" stroke-width="1.2"/>
<path d="M557.6 398.4V400M556 398.4H559.2" stroke="#f0602e" stroke-width="0.8" fill="none"/>
<circle cx="557.14" cy="399.05" r="0.8" fill="#f0602e"/>
<circle cx="557.02" cy="399.64" r="0.8" fill="#f0602e"/>
<circle cx="557.76" cy="399.04" r="0.8" fill="#f0602e"/>
<rect x="566.6" y="401.6" width="2.8" height="10.3" fill="#9d7cc3" stroke="#2e1a66" stroke-width="1.2"/>
<path d="M568 400.8V402.4M566.4 400.8H569.6" stroke="#6e2ab4" stroke-width="0.8" fill="none"/>
<circle cx="567.43" cy="399.94" r="0.8" fill="#6e2ab4"/>
<circle cx="567.41" cy="401.35" r="0.8" fill="#6e2ab4"/>
<circle cx="568.51" cy="400.18" r="0.8" fill="#6e2ab4"/>
<rect x="573" y="404" width="2.9" height="7.9" fill="#5ac6ee" stroke="#3a4cb0" stroke-width="1.2"/>
<path d="M574.45 403.2V404.8M572.85 403.2H576.05" stroke="#3442b6" stroke-width="0.8" fill="none"/>
<circle cx="574.8" cy="403.92" r="0.8" fill="#3442b6"/>
<circle cx="573.99" cy="404.63" r="0.8" fill="#3442b6"/>
<circle cx="573.64" cy="403.53" r="0.8" fill="#3442b6"/>
<rect x="579.7" y="386.4" width="2.4" height="25.5" fill="#6ad6d6" stroke="#2a8a9a" stroke-width="1.2"/>
<path d="M580.9 385.6V387.2M579.3 385.6H582.5" stroke="#2a8aa6" stroke-width="0.8" fill="none"/>
<circle cx="580.3" cy="385.66" r="0.8" fill="#2a8aa6"/>
<circle cx="580.66" cy="386.44" r="0.8" fill="#2a8aa6"/>
<circle cx="580.47" cy="386.07" r="0.8" fill="#2a8aa6"/>
<rect x="585.7" y="399.2" width="3.2" height="12.7" fill="#ee9484" stroke="#f05a30" stroke-width="1.2"/>
<path d="M587.3 398.4V400M585.7 398.4H588.9" stroke="#f0602e" stroke-width="0.8" fill="none"/>
<circle cx="587.98" cy="399.69" r="0.8" fill="#f0602e"/>
<circle cx="586.3" cy="399.21" r="0.8" fill="#f0602e"/>
<circle cx="586.54" cy="397.9" r="0.8" fill="#f0602e"/>
<rect x="596.3" y="401.6" width="2.8" height="10.3" fill="#9d7cc3" stroke="#2e1a66" stroke-width="1.2"/>
<path d="M597.7 400.8V402.4M596.1 400.8H599.3" stroke="#6e2ab4" stroke-width="0.8" fill="none"/>
<circle cx="598.38" cy="401.26" r="0.8" fill="#6e2ab4"/>
<circle cx="597.36" cy="400.18" r="0.8" fill="#6e2ab4"/>
<circle cx="597.5" cy="399.65" r="0.8" fill="#6e2ab4"/>
<rect x="602.7" y="404" width="2.8" height="7.9" fill="#5ac6ee" stroke="#3a4cb0" stroke-width="1.2"/>
<path d="M604.1 403.2V404.8M602.5 403.2H605.7" stroke="#3442b6" stroke-width="0.8" fill="none"/>
<circle cx="604.24" cy="405.55" r="0.8" fill="#3442b6"/>
<circle cx="603.88" cy="403.51" r="0.8" fill="#3442b6"/>
<circle cx="603.38" cy="404.24" r="0.8" fill="#3442b6"/>
<rect x="609.4" y="375.6" width="2.8" height="36.3" fill="#6ad6d6" stroke="#2a8a9a" stroke-width="1.2"/>
<path d="M610.8 374.8V376.4M609.2 374.8H612.4" stroke="#2a8aa6" stroke-width="0.8" fill="none"/>
<circle cx="610.16" cy="375.88" r="0.8" fill="#2a8aa6"/>
<circle cx="611.5" cy="375.12" r="0.8" fill="#2a8aa6"/>
<circle cx="610.4" cy="375.52" r="0.8" fill="#2a8aa6"/>
<rect x="615.8" y="397.7" width="3.2" height="14.2" fill="#ee9484" stroke="#f05a30" stroke-width="1.2"/>
<path d="M617.4 396.9V398.5M615.8 396.9H619" stroke="#f0602e" stroke-width="0.8" fill="none"/>
<circle cx="616.78" cy="398.51" r="0.8" fill="#f0602e"/>
<circle cx="617.15" cy="399.06" r="0.8" fill="#f0602e"/>
<circle cx="618.02" cy="397.32" r="0.8" fill="#f0602e"/>
<path d="M504.6 333.6V411.9H621.2" stroke="#2a2a2a" stroke-width="1.1" fill="none"/>
<path d="M501.8 411.9H504.6" stroke="#2a2a2a" stroke-width="1.1"/>
<text x="501.3" y="414.06" font-family="Liberation Sans" font-size="6" font-weight="bold" text-anchor="end" fill="#1e1e1e" stroke="#1e1e1e" stroke-width="0.16">0</text>
<path d="M501.8 392.32H504.6" stroke="#2a2a2a" stroke-width="1.1"/>
<text x="501.3" y="394.49" font-family="Liberation Sans" font-size="6" font-weight="bold" text-anchor="end" fill="#1e1e1e" stroke="#1e1e1e" stroke-width="0.16">2</text>
<path d="M501.8 372.75H504.6" stroke="#2a2a2a" stroke-width="1.1"/>
<text x="501.3" y="374.91" font-family="Liberation Sans" font-size="6" font-weight="bold" text-anchor="end" fill="#1e1e1e" stroke="#1e1e1e" stroke-width="0.16">4</text>
<path d="M501.8 353.18H504.6" stroke="#2a2a2a" stroke-width="1.1"/>
<text x="501.3" y="355.34" font-family="Liberation Sans" font-size="6" font-weight="bold" text-anchor="end" fill="#1e1e1e" stroke="#1e1e1e" stroke-width="0.16">6</text>
<path d="M501.8 333.6H504.6" stroke="#2a2a2a" stroke-width="1.1"/>
<text x="501.3" y="335.76" font-family="Liberation Sans" font-size="6" font-weight="bold" text-anchor="end" fill="#1e1e1e" stroke="#1e1e1e" stroke-width="0.16">8</text>
<path d="M521.2 366V356.1H527.3V391.2" stroke="#2a2a2a" stroke-width="1.0" fill="none"/>
<text x="524.25" y="355.3" font-family="Liberation Sans" font-size="6.2" font-weight="normal" text-anchor="middle" fill="#1e1e1e" stroke="#1e1e1e" stroke-width="0.12">****</text>
<path d="M550.7 351V341.6H557.4V394" stroke="#2a2a2a" stroke-width="1.0" fill="none"/>
<text x="554.05" y="341.2" font-family="Liberation Sans" font-size="6.2" font-weight="normal" text-anchor="middle" fill="#1e1e1e" stroke="#1e1e1e" stroke-width="0.12">****</text>
<path d="M580.5 381V365.7H587.5V394" stroke="#2a2a2a" stroke-width="1.0" fill="none"/>
<text x="584" y="364.7" font-family="Liberation Sans" font-size="6.2" font-weight="normal" text-anchor="middle" fill="#1e1e1e" stroke="#1e1e1e" stroke-width="0.12">****</text>
<path d="M610.2 371V361.1H617.8V392" stroke="#2a2a2a" stroke-width="1.0" fill="none"/>
<text x="614" y="359.6" font-family="Liberation Sans" font-size="6.2" font-weight="normal" text-anchor="middle" fill="#1e1e1e" stroke="#1e1e1e" stroke-width="0.12">****</text>
<text x="493" y="372.6" font-family="Liberation Sans" font-size="7.5" font-weight="bold" text-anchor="middle" fill="#1e1e1e" transform="rotate(-90 493 372.6)" stroke="#1e1e1e" stroke-width="0.16">Relative mRNA level</text>
<path d="M517.8 411.9V414.6" stroke="#2a2a2a" stroke-width="0.9"/>
<text x="517.8" y="421.5" font-family="Liberation Sans" font-size="5.8" font-weight="bold" text-anchor="middle" fill="#1e1e1e" stroke="#1e1e1e" stroke-width="0.16">Fasn</text>
<path d="M547.3 411.9V414.6" stroke="#2a2a2a" stroke-width="0.9"/>
<text x="547.3" y="421.5" font-family="Liberation Sans" font-size="5.8" font-weight="bold" text-anchor="middle" fill="#1e1e1e" stroke="#1e1e1e" stroke-width="0.16">Srebf1</text>
<path d="M577.7 411.9V414.6" stroke="#2a2a2a" stroke-width="0.9"/>
<text x="577.7" y="421.5" font-family="Liberation Sans" font-size="5.8" font-weight="bold" text-anchor="middle" fill="#1e1e1e" stroke="#1e1e1e" stroke-width="0.16">Scd1</text>
<path d="M607.6 411.9V414.6" stroke="#2a2a2a" stroke-width="0.9"/>
<text x="607.6" y="421.5" font-family="Liberation Sans" font-size="5.8" font-weight="bold" text-anchor="middle" fill="#1e1e1e" stroke="#1e1e1e" stroke-width="0.16">Pparg</text>
<path d="M497.2 425.1H613.8" stroke="#333" stroke-width="0.8"/>
<text x="556" y="434.4" font-family="Liberation Serif" font-size="8.4" font-weight="bold" text-anchor="middle" fill="#111" stroke="#111" stroke-width="0.22">Fatty acid metabolism</text>
<rect x="512.6" y="497.7" width="4.7" height="29.6" fill="#9d7cc3" stroke="#2e1a66" stroke-width="1.2"/>
<path d="M514.95 496.5V498.9M513.35 496.5H516.55" stroke="#6e2ab4" stroke-width="0.8" fill="none"/>
<circle cx="515.41" cy="499.77" r="0.85" fill="#6e2ab4"/>
<circle cx="515.12" cy="496.45" r="0.85" fill="#6e2ab4"/>
<circle cx="515.72" cy="499.28" r="0.85" fill="#6e2ab4"/>
<rect x="521.2" y="506.1" width="4.4" height="21.2" fill="#5ac6ee" stroke="#3a4cb0" stroke-width="1.2"/>
<path d="M523.4 504.9V507.3M521.8 504.9H525" stroke="#3442b6" stroke-width="0.8" fill="none"/>
<circle cx="523.24" cy="506.61" r="0.85" fill="#3442b6"/>
<circle cx="524.21" cy="505.58" r="0.85" fill="#3442b6"/>
<circle cx="521.96" cy="505.44" r="0.85" fill="#3442b6"/>
<rect x="529.7" y="469.3" width="4.3" height="58" fill="#6ad6d6" stroke="#2a8a9a" stroke-width="1.2"/>
<path d="M531.85 468.1V470.5M530.25 468.1H533.45" stroke="#2a8aa6" stroke-width="0.8" fill="none"/>
<circle cx="533.17" cy="470.1" r="0.85" fill="#2a8aa6"/>
<circle cx="531.37" cy="470.13" r="0.85" fill="#2a8aa6"/>
<circle cx="531.22" cy="469.11" r="0.85" fill="#2a8aa6"/>
<rect x="538.2" y="489.6" width="4.5" height="37.7" fill="#ee9484" stroke="#f05a30" stroke-width="1.2"/>
<path d="M540.45 488.4V490.8M538.85 488.4H542.05" stroke="#f0602e" stroke-width="0.8" fill="none"/>
<circle cx="539.66" cy="486.82" r="0.85" fill="#f0602e"/>
<circle cx="540.96" cy="489.19" r="0.85" fill="#f0602e"/>
<circle cx="540.1" cy="490.84" r="0.85" fill="#f0602e"/>
<rect x="551.8" y="497.7" width="4.3" height="29.6" fill="#9d7cc3" stroke="#2e1a66" stroke-width="1.2"/>
<path d="M553.95 496.5V498.9M552.35 496.5H555.55" stroke="#6e2ab4" stroke-width="0.8" fill="none"/>
<circle cx="552.92" cy="498.07" r="0.85" fill="#6e2ab4"/>
<circle cx="555.21" cy="498.29" r="0.85" fill="#6e2ab4"/>
<circle cx="553.94" cy="498.12" r="0.85" fill="#6e2ab4"/>
<rect x="560.3" y="504.1" width="4.3" height="23.2" fill="#5ac6ee" stroke="#3a4cb0" stroke-width="1.2"/>
<path d="M562.45 502.9V505.3M560.85 502.9H564.05" stroke="#3442b6" stroke-width="0.8" fill="none"/>
<circle cx="563.99" cy="506.28" r="0.85" fill="#3442b6"/>
<circle cx="562.29" cy="504.53" r="0.85" fill="#3442b6"/>
<circle cx="561.18" cy="504.61" r="0.85" fill="#3442b6"/>
<rect x="568.7" y="472.2" width="4.5" height="55.1" fill="#6ad6d6" stroke="#2a8a9a" stroke-width="1.2"/>
<path d="M570.95 471V473.4M569.35 471H572.55" stroke="#2a8aa6" stroke-width="0.8" fill="none"/>
<circle cx="570.43" cy="472.83" r="0.85" fill="#2a8aa6"/>
<circle cx="570.15" cy="472.61" r="0.85" fill="#2a8aa6"/>
<circle cx="571.18" cy="473.49" r="0.85" fill="#2a8aa6"/>
<rect x="577" y="492.5" width="4.3" height="34.8" fill="#ee9484" stroke="#f05a30" stroke-width="1.2"/>
<path d="M579.15 491.3V493.7M577.55 491.3H580.75" stroke="#f0602e" stroke-width="0.8" fill="none"/>
<circle cx="578.88" cy="491.4" r="0.85" fill="#f0602e"/>
<circle cx="578.88" cy="491.52" r="0.85" fill="#f0602e"/>
<circle cx="578.65" cy="492.35" r="0.85" fill="#f0602e"/>
<rect x="590.8" y="497.4" width="4.4" height="29.9" fill="#9d7cc3" stroke="#2e1a66" stroke-width="1.2"/>
<path d="M593 496.2V498.6M591.4 496.2H594.6" stroke="#6e2ab4" stroke-width="0.8" fill="none"/>
<circle cx="591.6" cy="496.94" r="0.85" fill="#6e2ab4"/>
<circle cx="591.8" cy="500.03" r="0.85" fill="#6e2ab4"/>
<circle cx="593.01" cy="496" r="0.85" fill="#6e2ab4"/>
<rect x="599.3" y="502.6" width="4.1" height="24.7" fill="#5ac6ee" stroke="#3a4cb0" stroke-width="1.2"/>
<path d="M601.35 501.4V503.8M599.75 501.4H602.95" stroke="#3442b6" stroke-width="0.8" fill="none"/>
<circle cx="600.53" cy="501.12" r="0.85" fill="#3442b6"/>
<circle cx="600.69" cy="502.61" r="0.85" fill="#3442b6"/>
<circle cx="601.19" cy="503.63" r="0.85" fill="#3442b6"/>
<rect x="607.8" y="469.2" width="4.5" height="58.1" fill="#6ad6d6" stroke="#2a8a9a" stroke-width="1.2"/>
<path d="M610.05 468V470.4M608.45 468H611.65" stroke="#2a8aa6" stroke-width="0.8" fill="none"/>
<circle cx="611.55" cy="470.4" r="0.85" fill="#2a8aa6"/>
<circle cx="608.47" cy="467.51" r="0.85" fill="#2a8aa6"/>
<circle cx="608.51" cy="468.65" r="0.85" fill="#2a8aa6"/>
<rect x="616.1" y="485.3" width="4.3" height="42" fill="#ee9484" stroke="#f05a30" stroke-width="1.2"/>
<path d="M618.25 484.1V486.5M616.65 484.1H619.85" stroke="#f0602e" stroke-width="0.8" fill="none"/>
<circle cx="618.17" cy="483.2" r="0.85" fill="#f0602e"/>
<circle cx="618.52" cy="486.32" r="0.85" fill="#f0602e"/>
<circle cx="619.57" cy="485.3" r="0.85" fill="#f0602e"/>
<path d="M509.4 454.8V527.3H623.7" stroke="#2a2a2a" stroke-width="1.1" fill="none"/>
<path d="M506.6 527.3H509.4" stroke="#2a2a2a" stroke-width="1.1"/>
<text x="506.1" y="529.46" font-family="Liberation Sans" font-size="6" font-weight="bold" text-anchor="end" fill="#1e1e1e" stroke="#1e1e1e" stroke-width="0.16">0.0</text>
<path d="M506.6 512.8H509.4" stroke="#2a2a2a" stroke-width="1.1"/>
<text x="506.1" y="514.96" font-family="Liberation Sans" font-size="6" font-weight="bold" text-anchor="end" fill="#1e1e1e" stroke="#1e1e1e" stroke-width="0.16">0.5</text>
<path d="M506.6 498.3H509.4" stroke="#2a2a2a" stroke-width="1.1"/>
<text x="506.1" y="500.46" font-family="Liberation Sans" font-size="6" font-weight="bold" text-anchor="end" fill="#1e1e1e" stroke="#1e1e1e" stroke-width="0.16">1.0</text>
<path d="M506.6 483.8H509.4" stroke="#2a2a2a" stroke-width="1.1"/>
<text x="506.1" y="485.96" font-family="Liberation Sans" font-size="6" font-weight="bold" text-anchor="end" fill="#1e1e1e" stroke="#1e1e1e" stroke-width="0.16">1.5</text>
<path d="M506.6 469.3H509.4" stroke="#2a2a2a" stroke-width="1.1"/>
<text x="506.1" y="471.46" font-family="Liberation Sans" font-size="6" font-weight="bold" text-anchor="end" fill="#1e1e1e" stroke="#1e1e1e" stroke-width="0.16">2.0</text>
<path d="M506.6 454.8H509.4" stroke="#2a2a2a" stroke-width="1.1"/>
<text x="506.1" y="456.96" font-family="Liberation Sans" font-size="6" font-weight="bold" text-anchor="end" fill="#1e1e1e" stroke="#1e1e1e" stroke-width="0.16">2.5</text>
<path d="M532.1 465V457.7H540V484" stroke="#2a2a2a" stroke-width="1.0" fill="none"/>
<text x="536.05" y="457.4" font-family="Liberation Sans" font-size="6.2" font-weight="normal" text-anchor="middle" fill="#1e1e1e" stroke="#1e1e1e" stroke-width="0.12">****</text>
<path d="M570.9 467V460.3H579.4V487" stroke="#2a2a2a" stroke-width="1.0" fill="none"/>
<text x="575.15" y="459.8" font-family="Liberation Sans" font-size="6.2" font-weight="normal" text-anchor="middle" fill="#1e1e1e" stroke="#1e1e1e" stroke-width="0.12">****</text>
<path d="M609.2 465V456.4H618.4V480" stroke="#2a2a2a" stroke-width="1.0" fill="none"/>
<text x="613.8" y="455.8" font-family="Liberation Sans" font-size="6.2" font-weight="normal" text-anchor="middle" fill="#1e1e1e" stroke="#1e1e1e" stroke-width="0.12">****</text>
<text x="493.18" y="491.4" font-family="Liberation Sans" font-size="6.9" font-weight="bold" text-anchor="middle" fill="#1e1e1e" transform="rotate(-90 493.18 491.4)" stroke="#1e1e1e" stroke-width="0.16">Relative mRNA level</text>
<path d="M527.5 527.3V530" stroke="#2a2a2a" stroke-width="0.9"/>
<text x="527.5" y="537" font-family="Liberation Serif" font-size="5.6" font-weight="bold" text-anchor="middle" fill="#1e1e1e" stroke="#1e1e1e" stroke-width="0.22">Il6</text>
<path d="M566.6 527.3V530" stroke="#2a2a2a" stroke-width="0.9"/>
<text x="566.6" y="537" font-family="Liberation Serif" font-size="5.6" font-weight="bold" text-anchor="middle" fill="#1e1e1e" stroke="#1e1e1e" stroke-width="0.22">Il1β</text>
<path d="M605.6 527.3V530" stroke="#2a2a2a" stroke-width="0.9"/>
<text x="605.6" y="537" font-family="Liberation Serif" font-size="5.6" font-weight="bold" text-anchor="middle" fill="#1e1e1e" stroke="#1e1e1e" stroke-width="0.22">Tnfα</text>
<path d="M518.9 539.1H609.2" stroke="#333" stroke-width="0.8"/>
<text x="569" y="547.6" font-family="Liberation Serif" font-size="8.3" font-weight="bold" text-anchor="middle" fill="#111" stroke="#111" stroke-width="0.22">Inflammation</text>
<rect x="631.3" y="457.9" width="7" height="3.6" fill="#9d7cc3" stroke="#2e1a66" stroke-width="1"/>
<text x="643" y="461.82" font-family="Liberation Sans" font-size="5.9" font-weight="normal" text-anchor="start" fill="#1e1e1e" stroke="#1e1e1e" stroke-width="0.12">Flox-HFD</text>
<rect x="631.3" y="467.8" width="7" height="3.6" fill="#5ac6ee" stroke="#3a4cb0" stroke-width="1"/>
<text x="643" y="471.72" font-family="Liberation Sans" font-size="5.9" font-weight="normal" text-anchor="start" fill="#1e1e1e" stroke="#1e1e1e" stroke-width="0.12">Flox-HFD+PF</text>
<rect x="631.3" y="477.2" width="7" height="3.6" fill="#6ad6d6" stroke="#2a8a9a" stroke-width="1"/>
<text x="643" y="481.12" font-family="Liberation Sans" font-size="5.9" font-weight="normal" text-anchor="start" fill="#1e1e1e" stroke="#1e1e1e" stroke-width="0.12">HKO-HFD</text>
<rect x="631.3" y="486.5" width="7" height="3.6" fill="#ee9484" stroke="#f05a30" stroke-width="1"/>
<text x="643" y="490.42" font-family="Liberation Sans" font-size="5.9" font-weight="normal" text-anchor="start" fill="#1e1e1e" stroke="#1e1e1e" stroke-width="0.12">HKO-HFD+PF</text>
<text x="6.6" y="106.3" font-family="Liberation Serif" font-size="12" font-weight="bold" text-anchor="start" fill="#111" stroke="#111" stroke-width="0.22">C</text>
<text x="65.8" y="107.2" font-family="Liberation Serif" font-size="8.6" font-weight="bold" text-anchor="middle" fill="#111" stroke="#111" stroke-width="0.22">Flox-HFD</text>
<text x="167.7" y="106.6" font-family="Liberation Serif" font-size="8.6" font-weight="bold" text-anchor="middle" fill="#111" stroke="#111" stroke-width="0.22">Flox-HFD+PF429242</text>
<text x="267" y="104.8" font-family="Liberation Serif" font-size="8.6" font-weight="bold" text-anchor="middle" fill="#111" stroke="#111" stroke-width="0.22">HKO-HFD</text>
<text x="368.3" y="105.3" font-family="Liberation Serif" font-size="8.6" font-weight="bold" text-anchor="middle" fill="#111" stroke="#111" stroke-width="0.22">HKO-HFD+PF429242</text>
<text x="19.6" y="135.8" font-family="Liberation Serif" font-size="8.6" font-weight="bold" text-anchor="middle" fill="#111" transform="rotate(-90 19.6 135.8)" stroke="#111" stroke-width="0.22">H&amp;E</text>
<text x="19.6" y="191.3" font-family="Liberation Serif" font-size="8.6" font-weight="bold" text-anchor="middle" fill="#111" transform="rotate(-90 19.6 191.3)" stroke="#111" stroke-width="0.22">ORO</text>
<text x="19.6" y="248.6" font-family="Liberation Serif" font-size="8.6" font-weight="bold" text-anchor="middle" fill="#111" transform="rotate(-90 19.6 248.6)" stroke="#111" stroke-width="0.22">F4/80</text>
<text x="19.6" y="302.7" font-family="Liberation Serif" font-size="8.6" font-weight="bold" text-anchor="middle" fill="#111" transform="rotate(-90 19.6 302.7)" stroke="#111" stroke-width="0.22">αSMA</text>
<g filter="url(#hb)">
<rect x="25.2" y="112" width="84.6" height="48.2" fill="#d8aad8"/>
<rect x="25.2" y="112" width="84.6" height="48.2" fill="url(#pp)" opacity="0.8" transform="translate(0 0)"/>
<rect x="22.2" y="105" width="84.6" height="48.2" fill="url(#pp2)" opacity="0.6" transform="translate(3 7)"/>
<rect x="19.2" y="111" width="84.6" height="48.2" fill="url(#pw)" opacity="0.95" transform="translate(6 1)"/>
<rect x="16.2" y="104" width="84.6" height="48.2" fill="url(#pw2)" opacity="0.8" transform="translate(9 8)"/>
<rect x="125.4" y="112" width="85" height="48.4" fill="#dab0dc"/>
<rect x="118.4" y="107" width="85" height="48.4" fill="url(#pp)" opacity="0.7" transform="translate(7 5)"/>
<rect x="115.4" y="100" width="85" height="48.4" fill="url(#pp2)" opacity="0.5" transform="translate(10 12)"/>
<rect x="112.4" y="106" width="85" height="48.4" fill="url(#pw)" opacity="0.95" transform="translate(13 6)"/>
<rect x="109.4" y="112" width="85" height="48.4" fill="url(#pw2)" opacity="0.8" transform="translate(16 0)"/>
<rect x="225.5" y="109.9" width="84.5" height="48.7" fill="#c892d2"/>
<rect x="211.5" y="99.9" width="84.5" height="48.7" fill="url(#pp)" opacity="0.75" transform="translate(14 10)"/>
<rect x="225.5" y="105.9" width="84.5" height="48.7" fill="url(#pp2)" opacity="0.55" transform="translate(0 4)"/>
<rect x="222.5" y="98.9" width="84.5" height="48.7" fill="url(#pw2)" opacity="0.75" transform="translate(3 11)"/>
<rect x="325" y="109.9" width="84.6" height="48.7" fill="#d8acda"/>
<rect x="321" y="107.9" width="84.6" height="48.7" fill="url(#pp)" opacity="0.7" transform="translate(4 2)"/>
<rect x="318" y="100.9" width="84.6" height="48.7" fill="url(#pp2)" opacity="0.5" transform="translate(7 9)"/>
<rect x="315" y="106.9" width="84.6" height="48.7" fill="url(#pw)" opacity="0.95" transform="translate(10 3)"/>
<rect x="312" y="99.9" width="84.6" height="48.7" fill="url(#pw2)" opacity="0.9" transform="translate(13 10)"/>
<rect x="25.2" y="166.8" width="84.6" height="49.5" fill="#aaa2d0"/>
<rect x="20.2" y="155.8" width="84.6" height="49.5" fill="url(#pb)" opacity="0.95" transform="translate(5 11)"/>
<rect x="17.2" y="161.8" width="84.6" height="49.5" fill="url(#pdb)" opacity="0.6" transform="translate(8 5)"/>
<rect x="14.2" y="154.8" width="84.6" height="49.5" fill="url(#pr)" opacity="1" transform="translate(11 12)"/>
<rect x="11.2" y="160.8" width="84.6" height="49.5" fill="url(#pr2)" opacity="0.6" transform="translate(14 6)"/>
<rect x="25.2" y="166.8" width="84.6" height="49.5" fill="url(#pw)" opacity="0.6" transform="translate(0 0)"/>
<rect x="22.2" y="159.8" width="84.6" height="49.5" fill="url(#pw2)" opacity="0.5" transform="translate(3 7)"/>
<rect x="125.4" y="166.8" width="85" height="49.5" fill="#aca4d0"/>
<rect x="113.4" y="163.8" width="85" height="49.5" fill="url(#pb)" opacity="0.95" transform="translate(12 3)"/>
<rect x="110.4" y="156.8" width="85" height="49.5" fill="url(#pdb)" opacity="0.55" transform="translate(15 10)"/>
<rect x="124.4" y="162.8" width="85" height="49.5" fill="url(#pr)" opacity="0.95" transform="translate(1 4)"/>
<rect x="121.4" y="155.8" width="85" height="49.5" fill="url(#pr2)" opacity="0.5" transform="translate(4 11)"/>
<rect x="118.4" y="161.8" width="85" height="49.5" fill="url(#pw)" opacity="0.6" transform="translate(7 5)"/>
<rect x="115.4" y="154.8" width="85" height="49.5" fill="url(#pw2)" opacity="0.5" transform="translate(10 12)"/>
<rect x="225.5" y="165.2" width="84.5" height="49.6" fill="#e65a68"/>
<rect x="223.5" y="157.2" width="84.5" height="49.6" fill="url(#pr2)" opacity="0.95" transform="translate(2 8)"/>
<rect x="220.5" y="163.2" width="84.5" height="49.6" fill="url(#pw2)" opacity="0.9" transform="translate(5 2)"/>
<rect x="217.5" y="156.2" width="84.5" height="49.6" fill="url(#pw)" opacity="0.7" transform="translate(8 9)"/>
<rect x="214.5" y="162.2" width="84.5" height="49.6" fill="url(#pnb)" opacity="0.3" transform="translate(11 3)"/>
<rect x="325" y="165.2" width="84.6" height="49.6" fill="#a494c4"/>
<rect x="316" y="165.2" width="84.6" height="49.6" fill="url(#pb)" opacity="0.9" transform="translate(9 0)"/>
<rect x="313" y="158.2" width="84.6" height="49.6" fill="url(#pdb)" opacity="0.5" transform="translate(12 7)"/>
<rect x="310" y="164.2" width="84.6" height="49.6" fill="url(#pr2)" opacity="0.9" transform="translate(15 1)"/>
<rect x="324" y="157.2" width="84.6" height="49.6" fill="url(#pr)" opacity="0.85" transform="translate(1 8)"/>
<rect x="321" y="163.2" width="84.6" height="49.6" fill="url(#pw)" opacity="0.5" transform="translate(4 2)"/>
<rect x="318" y="156.2" width="84.6" height="49.6" fill="url(#pw2)" opacity="0.4" transform="translate(7 9)"/>
<rect x="25.2" y="223" width="84.6" height="48.6" fill="#dedce6"/>
<rect x="15.2" y="214" width="84.6" height="48.6" fill="url(#pnb)" opacity="0.8" transform="translate(10 9)"/>
<rect x="12.2" y="220" width="84.6" height="48.6" fill="url(#pb)" opacity="0.4" transform="translate(13 3)"/>
<rect x="9.2" y="213" width="84.6" height="48.6" fill="url(#pbr)" opacity="0.8" transform="translate(16 10)"/>
<rect x="23.2" y="219" width="84.6" height="48.6" fill="url(#pw)" opacity="0.75" transform="translate(2 4)"/>
<rect x="20.2" y="212" width="84.6" height="48.6" fill="url(#pw2)" opacity="0.5" transform="translate(5 11)"/>
<rect x="125.4" y="223" width="85" height="48.6" fill="#e2dee4"/>
<rect x="125.4" y="222" width="85" height="48.6" fill="url(#pnb)" opacity="0.65" transform="translate(0 1)"/>
<rect x="122.4" y="215" width="85" height="48.6" fill="url(#pb)" opacity="0.3" transform="translate(3 8)"/>
<rect x="119.4" y="221" width="85" height="48.6" fill="url(#pbr)" opacity="0.85" transform="translate(6 2)"/>
<rect x="116.4" y="214" width="85" height="48.6" fill="url(#pbr2)" opacity="0.25" transform="translate(9 9)"/>
<rect x="113.4" y="220" width="85" height="48.6" fill="url(#pw)" opacity="0.75" transform="translate(12 3)"/>
<rect x="110.4" y="213" width="85" height="48.6" fill="url(#pw2)" opacity="0.5" transform="translate(15 10)"/>
<rect x="225.5" y="222" width="84.5" height="48.6" fill="#d6d4e2"/>
<rect x="218.5" y="216" width="84.5" height="48.6" fill="url(#pnb)" opacity="0.85" transform="translate(7 6)"/>
<rect x="215.5" y="222" width="84.5" height="48.6" fill="url(#pb)" opacity="0.5" transform="translate(10 0)"/>
<rect x="212.5" y="215" width="84.5" height="48.6" fill="url(#pbr)" opacity="0.9" transform="translate(13 7)"/>
<rect x="209.5" y="221" width="84.5" height="48.6" fill="url(#pbr2)" opacity="0.3" transform="translate(16 1)"/>
<rect x="223.5" y="214" width="84.5" height="48.6" fill="url(#pw)" opacity="0.7" transform="translate(2 8)"/>
<rect x="220.5" y="220" width="84.5" height="48.6" fill="url(#pw2)" opacity="0.5" transform="translate(5 2)"/>
<rect x="325" y="222" width="84.6" height="48.6" fill="#e8e4e6"/>
<rect x="311" y="211" width="84.6" height="48.6" fill="url(#pnb)" opacity="0.45" transform="translate(14 11)"/>
<rect x="325" y="217" width="84.6" height="48.6" fill="url(#pb)" opacity="0.2" transform="translate(0 5)"/>
<rect x="322" y="210" width="84.6" height="48.6" fill="url(#pbr)" opacity="0.8" transform="translate(3 12)"/>
<rect x="319" y="216" width="84.6" height="48.6" fill="url(#pbr2)" opacity="0.3" transform="translate(6 6)"/>
<rect x="316" y="222" width="84.6" height="48.6" fill="url(#pw)" opacity="0.75" transform="translate(9 0)"/>
<rect x="313" y="215" width="84.6" height="48.6" fill="url(#pw2)" opacity="0.5" transform="translate(12 7)"/>
<rect x="25.2" y="278" width="84.6" height="49.4" fill="#dcdaf0"/>
<rect x="10.2" y="271" width="84.6" height="49.4" fill="url(#pnb)" opacity="0.9" transform="translate(15 7)"/>
<rect x="24.2" y="277" width="84.6" height="49.4" fill="url(#pb)" opacity="0.3" transform="translate(1 1)"/>
<rect x="21.2" y="270" width="84.6" height="49.4" fill="url(#pbr2)" opacity="0.35" transform="translate(4 8)"/>
<rect x="18.2" y="276" width="84.6" height="49.4" fill="url(#pw)" opacity="0.7" transform="translate(7 2)"/>
<rect x="15.2" y="269" width="84.6" height="49.4" fill="url(#pw2)" opacity="0.5" transform="translate(10 9)"/>
<rect x="125.4" y="278" width="85" height="49.4" fill="#d8d8f0"/>
<rect x="120.4" y="266" width="85" height="49.4" fill="url(#pnb)" opacity="0.95" transform="translate(5 12)"/>
<rect x="117.4" y="272" width="85" height="49.4" fill="url(#pb)" opacity="0.35" transform="translate(8 6)"/>
<rect x="114.4" y="278" width="85" height="49.4" fill="url(#pbr2)" opacity="0.2" transform="translate(11 0)"/>
<rect x="111.4" y="271" width="85" height="49.4" fill="url(#pw)" opacity="0.7" transform="translate(14 7)"/>
<rect x="125.4" y="277" width="85" height="49.4" fill="url(#pw2)" opacity="0.5" transform="translate(0 1)"/>
<rect x="225.5" y="278" width="84.5" height="49.2" fill="#dcdaf0"/>
<rect x="213.5" y="274" width="84.5" height="49.2" fill="url(#pnb)" opacity="0.9" transform="translate(12 4)"/>
<rect x="210.5" y="267" width="84.5" height="49.2" fill="url(#pb)" opacity="0.3" transform="translate(15 11)"/>
<rect x="224.5" y="273" width="84.5" height="49.2" fill="url(#pbr2)" opacity="0.35" transform="translate(1 5)"/>
<rect x="221.5" y="266" width="84.5" height="49.2" fill="url(#pw)" opacity="0.6" transform="translate(4 12)"/>
<rect x="218.5" y="272" width="84.5" height="49.2" fill="url(#pw2)" opacity="0.5" transform="translate(7 6)"/>
<rect x="325" y="278" width="84.6" height="49.2" fill="#d8daf2"/>
<rect x="323" y="269" width="84.6" height="49.2" fill="url(#pnb)" opacity="0.95" transform="translate(2 9)"/>
<rect x="320" y="275" width="84.6" height="49.2" fill="url(#pb)" opacity="0.35" transform="translate(5 3)"/>
<rect x="317" y="268" width="84.6" height="49.2" fill="url(#pbr2)" opacity="0.15" transform="translate(8 10)"/>
<rect x="314" y="274" width="84.6" height="49.2" fill="url(#pw)" opacity="0.7" transform="translate(11 4)"/>
<rect x="311" y="267" width="84.6" height="49.2" fill="url(#pw2)" opacity="0.5" transform="translate(14 11)"/>
<g fill="#fdf8fd"><circle cx="226.69" cy="111.02" r="1.12"/><circle cx="227.37" cy="115.26" r="1.29"/><circle cx="227.6" cy="120.03" r="1.05"/><circle cx="227.73" cy="122.26" r="1.22"/><circle cx="226.27" cy="131.33" r="0.77"/><circle cx="227.75" cy="133.41" r="1.24"/><circle cx="227.66" cy="139.08" r="0.74"/><circle cx="227.49" cy="141.03" r="1.41"/><circle cx="226.51" cy="145.87" r="1.01"/><circle cx="227.04" cy="148.16" r="0.81"/><circle cx="227.1" cy="153.53" r="1.13"/><circle cx="226.88" cy="155.92" r="1.09"/><circle cx="231.57" cy="112.34" r="0.79"/><circle cx="231.6" cy="115.87" r="1.3"/><circle cx="231.52" cy="120.3" r="0.89"/><circle cx="231.16" cy="122.81" r="1.06"/><circle cx="230.17" cy="127.18" r="0.92"/><circle cx="231.68" cy="130.23" r="1.41"/><circle cx="230.18" cy="133.5" r="0.72"/><circle cx="229.86" cy="137.41" r="1.15"/><circle cx="230.21" cy="142.14" r="0.79"/><circle cx="231.23" cy="145.61" r="1.1"/><circle cx="231.46" cy="148.18" r="1.17"/><circle cx="230.81" cy="153.32" r="0.84"/><circle cx="229.88" cy="156.75" r="1.18"/><circle cx="235.19" cy="112.69" r="0.95"/><circle cx="234.54" cy="116.26" r="1.4"/><circle cx="233.89" cy="119.93" r="1.25"/><circle cx="234.5" cy="122.41" r="0.85"/><circle cx="235.23" cy="131.24" r="0.74"/><circle cx="234.74" cy="133.19" r="1.31"/><circle cx="233.93" cy="137.7" r="0.84"/><circle cx="235.09" cy="141.77" r="0.82"/><circle cx="233.3" cy="146.22" r="1.33"/><circle cx="234.78" cy="148.98" r="0.85"/><circle cx="234.7" cy="152.96" r="1.15"/><circle cx="233.63" cy="156.69" r="1.3"/><circle cx="237.69" cy="112.25" r="0.78"/><circle cx="238.88" cy="119.65" r="1.3"/><circle cx="236.95" cy="122.72" r="0.98"/><circle cx="237.1" cy="125.83" r="1.37"/><circle cx="237.43" cy="131.26" r="0.86"/><circle cx="238.62" cy="134.68" r="1.42"/><circle cx="237.35" cy="138.78" r="1.32"/><circle cx="238.67" cy="141.68" r="1.12"/><circle cx="237.3" cy="145.91" r="1.13"/><circle cx="238.68" cy="148.66" r="1.35"/><circle cx="237.17" cy="153.35" r="0.93"/><circle cx="237.34" cy="155.81" r="1.38"/><circle cx="241.14" cy="111.87" r="1.89"/><circle cx="240.78" cy="116.48" r="1.03"/><circle cx="241.67" cy="118.23" r="0.86"/><circle cx="240.65" cy="122.83" r="0.77"/><circle cx="242.1" cy="127.03" r="1.49"/><circle cx="241.25" cy="129.57" r="1.41"/><circle cx="241.74" cy="134.95" r="1.47"/><circle cx="240.32" cy="139" r="1.15"/><circle cx="240.86" cy="140.7" r="1.19"/><circle cx="242.2" cy="150.05" r="1.13"/><circle cx="241.07" cy="154" r="1.44"/><circle cx="241.37" cy="157.15" r="0.93"/><circle cx="244.38" cy="111.26" r="1.36"/><circle cx="244.15" cy="116.26" r="0.77"/><circle cx="245.47" cy="119.94" r="1.46"/><circle cx="244.12" cy="122.68" r="0.71"/><circle cx="245.78" cy="131.14" r="1.77"/><circle cx="244.58" cy="135.26" r="0.82"/><circle cx="245.39" cy="137.29" r="1.07"/><circle cx="244.27" cy="140.81" r="1.11"/><circle cx="244.82" cy="145.14" r="1.01"/><circle cx="244.01" cy="149.12" r="0.93"/><circle cx="245.81" cy="153.69" r="1.44"/><circle cx="244.04" cy="156.25" r="0.91"/><circle cx="249.32" cy="111.81" r="1.42"/><circle cx="248.74" cy="115.73" r="1.44"/><circle cx="247.81" cy="118.36" r="1.04"/><circle cx="249.34" cy="121.93" r="1.05"/><circle cx="249.1" cy="127.8" r="1.02"/><circle cx="247.94" cy="130.27" r="1.05"/><circle cx="249.22" cy="133.54" r="1.24"/><circle cx="249.09" cy="141.52" r="0.75"/><circle cx="248.32" cy="145.31" r="1.45"/><circle cx="248.27" cy="149.84" r="0.89"/><circle cx="247.52" cy="152.19" r="0.74"/><circle cx="248.73" cy="157" r="0.73"/><circle cx="251.56" cy="111.21" r="1"/><circle cx="250.9" cy="119.12" r="1.02"/><circle cx="251.82" cy="121.9" r="1.27"/><circle cx="252.94" cy="126.74" r="1.02"/><circle cx="252.17" cy="129.68" r="1.24"/><circle cx="251.24" cy="134.73" r="1.45"/><circle cx="251.18" cy="138.61" r="0.84"/><circle cx="251.01" cy="150.25" r="1.44"/><circle cx="251.59" cy="153.7" r="0.8"/><circle cx="251.35" cy="156.6" r="1.02"/><circle cx="255.63" cy="112.89" r="1.12"/><circle cx="254.42" cy="116.45" r="1.26"/><circle cx="255.83" cy="119.58" r="1.06"/><circle cx="255.97" cy="122.31" r="1.06"/><circle cx="255.44" cy="126.72" r="1.09"/><circle cx="255.8" cy="129.86" r="1.3"/><circle cx="255.47" cy="135" r="0.73"/><circle cx="256.41" cy="137.62" r="1.21"/><circle cx="256.01" cy="142.3" r="1.46"/><circle cx="255.46" cy="145.89" r="1.43"/><circle cx="256.18" cy="150.02" r="1.19"/><circle cx="254.4" cy="156.39" r="1.49"/><circle cx="259.44" cy="111.38" r="1.18"/><circle cx="258.6" cy="116.63" r="1.24"/><circle cx="259.55" cy="120.11" r="1.37"/><circle cx="259.49" cy="123.61" r="1.36"/><circle cx="259.11" cy="127.68" r="1.11"/><circle cx="258.51" cy="130.48" r="1.36"/><circle cx="259.44" cy="134.9" r="1.12"/><circle cx="258.77" cy="136.88" r="1.15"/><circle cx="258.74" cy="141.85" r="0.78"/><circle cx="258.06" cy="150.25" r="1.43"/><circle cx="258.33" cy="153.35" r="1.56"/><circle cx="258.12" cy="156.23" r="0.81"/><circle cx="262.46" cy="111.88" r="0.82"/><circle cx="262.89" cy="115.7" r="1.29"/><circle cx="262.25" cy="118.97" r="1.44"/><circle cx="262.8" cy="124.05" r="1.9"/><circle cx="261.86" cy="134.17" r="1.17"/><circle cx="263.28" cy="137.28" r="1.37"/><circle cx="262.24" cy="142.14" r="1.26"/><circle cx="262.32" cy="146.04" r="0.71"/><circle cx="262.89" cy="149.25" r="0.88"/><circle cx="263.29" cy="152.71" r="1.46"/><circle cx="261.74" cy="157.4" r="0.84"/><circle cx="265.21" cy="112.29" r="1.83"/><circle cx="266.94" cy="115.15" r="1.12"/><circle cx="265.27" cy="119.63" r="1.47"/><circle cx="265.49" cy="127.59" r="1.36"/><circle cx="265.8" cy="130.35" r="1.03"/><circle cx="264.96" cy="133.63" r="1.36"/><circle cx="265.76" cy="138.29" r="1.36"/><circle cx="266.9" cy="141.01" r="1.35"/><circle cx="265.73" cy="144.84" r="1.07"/><circle cx="266.53" cy="148.18" r="0.93"/><circle cx="266.55" cy="152.25" r="0.82"/><circle cx="265.2" cy="157.57" r="1.03"/><circle cx="269.3" cy="111.27" r="1.37"/><circle cx="269.98" cy="116.59" r="1.11"/><circle cx="268.62" cy="119.13" r="0.88"/><circle cx="269.35" cy="122.35" r="0.8"/><circle cx="270.43" cy="126.24" r="0.93"/><circle cx="269.64" cy="131.31" r="1.17"/><circle cx="270.11" cy="135.26" r="0.96"/><circle cx="269.25" cy="138.55" r="1.08"/><circle cx="268.98" cy="142.69" r="1.45"/><circle cx="269.97" cy="145.16" r="1.05"/><circle cx="269.27" cy="149.73" r="2.1"/><circle cx="268.64" cy="153.34" r="0.74"/><circle cx="270.16" cy="155.65" r="1.11"/><circle cx="272.91" cy="112.11" r="1.34"/><circle cx="272.41" cy="116.15" r="1.1"/><circle cx="272.62" cy="119.19" r="1.49"/><circle cx="273.44" cy="123.74" r="0.75"/><circle cx="273.84" cy="127.32" r="1.44"/><circle cx="272.78" cy="129.84" r="1.25"/><circle cx="272.22" cy="134.38" r="1.41"/><circle cx="272.05" cy="140.91" r="1.46"/><circle cx="272.06" cy="145.01" r="0.96"/><circle cx="273.92" cy="149.24" r="1.34"/><circle cx="274" cy="153.25" r="0.97"/><circle cx="272.46" cy="156.98" r="1.03"/><circle cx="277.04" cy="112.75" r="1.31"/><circle cx="275.81" cy="119.62" r="0.77"/><circle cx="276.47" cy="123.71" r="1.26"/><circle cx="276.37" cy="126.5" r="0.88"/><circle cx="275.63" cy="130.34" r="1.1"/><circle cx="277.2" cy="134.33" r="0.83"/><circle cx="276.48" cy="137.97" r="0.88"/><circle cx="276.7" cy="141.86" r="1.43"/><circle cx="277.34" cy="144.57" r="1.19"/><circle cx="276.58" cy="149.28" r="1.16"/><circle cx="277.57" cy="151.94" r="1.46"/><circle cx="275.94" cy="157.18" r="0.97"/><circle cx="280.55" cy="110.7" r="0.8"/><circle cx="279.84" cy="114.86" r="1.04"/><circle cx="280.8" cy="119.59" r="1.04"/><circle cx="279.55" cy="121.99" r="1.91"/><circle cx="279.92" cy="127.46" r="0.76"/><circle cx="279.87" cy="130.39" r="1.49"/><circle cx="280.28" cy="133.86" r="0.96"/><circle cx="280.14" cy="137.56" r="1"/><circle cx="279.58" cy="141.9" r="1.93"/><circle cx="280.63" cy="144.52" r="1.46"/><circle cx="279.25" cy="149.11" r="1.07"/><circle cx="279.33" cy="152.04" r="0.91"/><circle cx="279.34" cy="156.39" r="0.89"/><circle cx="282.97" cy="112.34" r="1.2"/><circle cx="283.86" cy="115.25" r="1.08"/><circle cx="284.26" cy="119.18" r="0.99"/><circle cx="283.18" cy="122.87" r="1.19"/><circle cx="282.67" cy="127.39" r="1.47"/><circle cx="284.38" cy="130.26" r="0.94"/><circle cx="284.48" cy="135.16" r="2.15"/><circle cx="283.57" cy="138.19" r="1.37"/><circle cx="284.58" cy="146.45" r="1.07"/><circle cx="283.2" cy="150.08" r="1.1"/><circle cx="283.25" cy="156.27" r="1.3"/><circle cx="287.01" cy="112.17" r="0.74"/><circle cx="287.36" cy="115" r="1.39"/><circle cx="286.31" cy="119.31" r="0.7"/><circle cx="288.07" cy="122.89" r="0.89"/><circle cx="287.16" cy="126.65" r="1.46"/><circle cx="288.14" cy="130.73" r="1.24"/><circle cx="287.89" cy="135.09" r="1.44"/><circle cx="287.69" cy="138.48" r="1.42"/><circle cx="286.07" cy="141.49" r="0.88"/><circle cx="286.35" cy="148.23" r="1.19"/><circle cx="286.15" cy="153.81" r="0.98"/><circle cx="286.38" cy="157.07" r="0.99"/><circle cx="290" cy="112.76" r="1.12"/><circle cx="290.85" cy="116.46" r="1.36"/><circle cx="291.37" cy="118.21" r="1.44"/><circle cx="290.9" cy="123.55" r="1.22"/><circle cx="290.24" cy="126.55" r="1.03"/><circle cx="290.37" cy="131.5" r="1.41"/><circle cx="290.12" cy="133.95" r="0.86"/><circle cx="290.95" cy="136.92" r="1.28"/><circle cx="291.18" cy="142.45" r="1.21"/><circle cx="291.44" cy="144.59" r="1.36"/><circle cx="289.84" cy="149.14" r="1.5"/><circle cx="290.24" cy="152.69" r="1.23"/><circle cx="290.3" cy="156.44" r="0.93"/><circle cx="294.2" cy="110.69" r="0.79"/><circle cx="293.74" cy="115.12" r="1.03"/><circle cx="295.19" cy="120.06" r="0.76"/><circle cx="294.13" cy="122.9" r="1.23"/><circle cx="294.94" cy="126.07" r="0.97"/><circle cx="294.82" cy="130.7" r="0.92"/><circle cx="293.55" cy="137.38" r="0.93"/><circle cx="295.08" cy="141.92" r="0.8"/><circle cx="294.16" cy="145.65" r="0.78"/><circle cx="293.13" cy="148.42" r="1.38"/><circle cx="294.46" cy="152.3" r="1.49"/><circle cx="294.39" cy="156.77" r="1.22"/><circle cx="297.09" cy="111.89" r="1.15"/><circle cx="298.44" cy="115.3" r="1.39"/><circle cx="297.96" cy="118.2" r="0.9"/><circle cx="297.5" cy="124.11" r="1.22"/><circle cx="297.72" cy="127.01" r="0.78"/><circle cx="297.36" cy="130.59" r="0.85"/><circle cx="298.36" cy="135.37" r="0.94"/><circle cx="297.13" cy="145.92" r="1.28"/><circle cx="297.36" cy="148.54" r="1.47"/><circle cx="296.68" cy="153.08" r="1.58"/><circle cx="297.68" cy="157.18" r="1.14"/><circle cx="301.19" cy="112.61" r="1.45"/><circle cx="300.76" cy="114.58" r="2"/><circle cx="300.51" cy="118.78" r="1.24"/><circle cx="301.15" cy="121.92" r="0.81"/><circle cx="301.49" cy="125.92" r="1.49"/><circle cx="300.84" cy="129.64" r="1.45"/><circle cx="301.87" cy="133.49" r="1.16"/><circle cx="300.48" cy="139.04" r="0.97"/><circle cx="300.66" cy="142.54" r="1.04"/><circle cx="301.62" cy="146.01" r="1.97"/><circle cx="302.08" cy="149.89" r="0.78"/><circle cx="300.97" cy="152.74" r="0.98"/><circle cx="301.03" cy="156.96" r="1.11"/><circle cx="305.03" cy="111.27" r="1.37"/><circle cx="304.61" cy="114.59" r="1.03"/><circle cx="304.89" cy="119.38" r="1.23"/><circle cx="305.49" cy="122.93" r="0.71"/><circle cx="305.43" cy="127.4" r="1.25"/><circle cx="305.41" cy="131.11" r="1.15"/><circle cx="305.61" cy="133.37" r="0.94"/><circle cx="305.21" cy="137.32" r="0.81"/><circle cx="304.77" cy="146.51" r="1.08"/><circle cx="305.62" cy="152.58" r="1.03"/><circle cx="305.07" cy="157.04" r="1.37"/><circle cx="308.77" cy="111.32" r="1.06"/><circle cx="307.38" cy="115.17" r="1.02"/><circle cx="307.69" cy="123.29" r="0.97"/><circle cx="308.32" cy="126.38" r="1.24"/><circle cx="309.2" cy="131.24" r="0.8"/><circle cx="308.54" cy="133.16" r="1"/><circle cx="307.57" cy="145.31" r="2.04"/><circle cx="308.42" cy="149.73" r="1.47"/><circle cx="307.36" cy="152.38" r="1.17"/></g>
<g fill="#fff4f6"><circle cx="226.36" cy="169.78" r="0.86"/><circle cx="227.01" cy="172.06" r="0.95"/><circle cx="227.09" cy="176.52" r="0.95"/><circle cx="227.59" cy="178.92" r="0.72"/><circle cx="227.5" cy="182.43" r="1"/><circle cx="226.19" cy="184.53" r="0.69"/><circle cx="227.71" cy="188.49" r="0.72"/><circle cx="227.79" cy="191.88" r="0.72"/><circle cx="227.73" cy="194.34" r="1.02"/><circle cx="227.64" cy="198.27" r="0.69"/><circle cx="226.44" cy="201.04" r="0.94"/><circle cx="227" cy="204.47" r="1.32"/><circle cx="227.19" cy="209.38" r="1.07"/><circle cx="226.38" cy="213.82" r="0.73"/><circle cx="229.19" cy="165.82" r="0.62"/><circle cx="230.45" cy="170.76" r="1.28"/><circle cx="230.42" cy="172.95" r="1.31"/><circle cx="230.67" cy="175.84" r="1.67"/><circle cx="230.82" cy="178.97" r="1.13"/><circle cx="230.18" cy="183.02" r="0.88"/><circle cx="229.44" cy="185.96" r="1.14"/><circle cx="230.86" cy="187.93" r="0.78"/><circle cx="230.91" cy="191.04" r="1.41"/><circle cx="230.23" cy="197.77" r="1.29"/><circle cx="230.17" cy="200.41" r="0.74"/><circle cx="229.13" cy="204.32" r="0.74"/><circle cx="229.89" cy="206.15" r="0.91"/><circle cx="229.36" cy="210.29" r="1.13"/><circle cx="233.41" cy="166.33" r="1.13"/><circle cx="232.4" cy="169.34" r="1.16"/><circle cx="232.66" cy="173.26" r="0.86"/><circle cx="233.79" cy="176.52" r="1.03"/><circle cx="233.45" cy="179.18" r="1.05"/><circle cx="233.3" cy="182.84" r="1.56"/><circle cx="233.74" cy="185.72" r="1.28"/><circle cx="233.92" cy="188.66" r="1.16"/><circle cx="233.02" cy="191.48" r="0.86"/><circle cx="232.62" cy="193.98" r="1.21"/><circle cx="233.56" cy="198.12" r="0.96"/><circle cx="232.57" cy="200.78" r="0.91"/><circle cx="233.21" cy="204" r="0.68"/><circle cx="233.57" cy="206.52" r="0.77"/><circle cx="233.44" cy="210.91" r="0.83"/><circle cx="232.48" cy="212.79" r="1.27"/><circle cx="235.4" cy="167.37" r="0.87"/><circle cx="235.44" cy="170.21" r="0.93"/><circle cx="235.99" cy="172.9" r="1.6"/><circle cx="236.04" cy="176.64" r="0.85"/><circle cx="236.42" cy="179.49" r="1.03"/><circle cx="235.81" cy="181.47" r="1.28"/><circle cx="236.67" cy="184.76" r="1.09"/><circle cx="235.91" cy="187.63" r="1.59"/><circle cx="236.84" cy="191.76" r="0.82"/><circle cx="235.71" cy="196.95" r="1.26"/><circle cx="236.35" cy="200.34" r="0.84"/><circle cx="236.29" cy="203.62" r="1.21"/><circle cx="236.7" cy="207.35" r="0.97"/><circle cx="235.95" cy="210.77" r="1.43"/><circle cx="235.44" cy="212.38" r="1.06"/><circle cx="238.98" cy="166.68" r="0.74"/><circle cx="239.43" cy="169.86" r="1.02"/><circle cx="238.19" cy="172.6" r="1.05"/><circle cx="238.31" cy="178.43" r="0.95"/><circle cx="239.36" cy="182.36" r="1.3"/><circle cx="238.82" cy="186.07" r="0.87"/><circle cx="238.22" cy="188.87" r="0.71"/><circle cx="238.63" cy="195.48" r="0.86"/><circle cx="238.4" cy="198.02" r="0.86"/><circle cx="238.81" cy="201.4" r="0.8"/><circle cx="239.21" cy="203.55" r="0.73"/><circle cx="239.8" cy="206.95" r="0.95"/><circle cx="239.48" cy="209.7" r="1.58"/><circle cx="238.7" cy="213.8" r="1"/><circle cx="242.19" cy="166.72" r="0.83"/><circle cx="241.89" cy="169.67" r="1.88"/><circle cx="241.5" cy="172.37" r="0.89"/><circle cx="242.13" cy="176.07" r="1.29"/><circle cx="242.34" cy="179.25" r="0.86"/><circle cx="242.77" cy="184.53" r="1.15"/><circle cx="242.01" cy="188.91" r="0.83"/><circle cx="241.67" cy="194.04" r="0.96"/><circle cx="241.88" cy="200.93" r="1.14"/><circle cx="241.84" cy="204.86" r="0.91"/><circle cx="241.34" cy="207.84" r="1.06"/><circle cx="242.07" cy="209.75" r="0.84"/><circle cx="242.02" cy="213.62" r="1.18"/><circle cx="245.93" cy="167.63" r="0.89"/><circle cx="244.25" cy="170.44" r="1.28"/><circle cx="245.53" cy="173.56" r="0.96"/><circle cx="245.88" cy="176.09" r="0.82"/><circle cx="244.89" cy="178.83" r="1.09"/><circle cx="244.36" cy="181.91" r="0.73"/><circle cx="244.89" cy="184.48" r="1.34"/><circle cx="244.28" cy="191.68" r="1.87"/><circle cx="245.72" cy="194.16" r="1.08"/><circle cx="245.59" cy="197.61" r="0.89"/><circle cx="245.66" cy="201.42" r="0.97"/><circle cx="245.84" cy="204.41" r="1.09"/><circle cx="245.78" cy="206.78" r="0.91"/><circle cx="244.78" cy="210.72" r="0.9"/><circle cx="244.37" cy="213.88" r="0.92"/><circle cx="248.01" cy="170.41" r="1.21"/><circle cx="248.16" cy="172.18" r="0.9"/><circle cx="247.26" cy="178.83" r="0.88"/><circle cx="248.22" cy="181.54" r="1.2"/><circle cx="248.83" cy="185.66" r="1.04"/><circle cx="247.48" cy="189.19" r="0.81"/><circle cx="248.23" cy="191.77" r="0.9"/><circle cx="247.93" cy="194.35" r="1.27"/><circle cx="247.46" cy="197.82" r="0.97"/><circle cx="247.25" cy="200.97" r="1.13"/><circle cx="248.89" cy="207.39" r="1.01"/><circle cx="248.05" cy="211" r="0.76"/><circle cx="247.39" cy="212.77" r="1.21"/><circle cx="250.81" cy="170.17" r="0.99"/><circle cx="250.31" cy="172.15" r="0.74"/><circle cx="251.99" cy="176.41" r="0.81"/><circle cx="250.75" cy="178.99" r="1.21"/><circle cx="250.86" cy="185.55" r="1.33"/><circle cx="250.85" cy="188.04" r="1.45"/><circle cx="252.05" cy="191.02" r="0.93"/><circle cx="251" cy="195.32" r="1.31"/><circle cx="251.35" cy="196.94" r="0.94"/><circle cx="250.98" cy="201.47" r="1.06"/><circle cx="251.67" cy="204.39" r="1.21"/><circle cx="250.67" cy="207.64" r="0.73"/><circle cx="254.58" cy="167.28" r="0.91"/><circle cx="253.68" cy="169.15" r="0.69"/><circle cx="253.68" cy="173.57" r="1.11"/><circle cx="255.02" cy="176.57" r="0.68"/><circle cx="253.87" cy="179.31" r="1.33"/><circle cx="254.32" cy="182.25" r="0.66"/><circle cx="254.18" cy="185.75" r="0.86"/><circle cx="253.8" cy="187.77" r="0.81"/><circle cx="254.05" cy="191.75" r="1.67"/><circle cx="254.06" cy="194.65" r="1.17"/><circle cx="254.42" cy="197.37" r="1.01"/><circle cx="253.3" cy="201.27" r="1.05"/><circle cx="255.04" cy="209.86" r="1.04"/><circle cx="254.65" cy="212.91" r="0.71"/><circle cx="256.91" cy="172.33" r="1.32"/><circle cx="257.52" cy="175.71" r="0.97"/><circle cx="256.95" cy="179.2" r="1.18"/><circle cx="257.37" cy="182.65" r="1.32"/><circle cx="257.54" cy="185.98" r="1.26"/><circle cx="258.03" cy="188.06" r="0.89"/><circle cx="257.36" cy="191.33" r="0.65"/><circle cx="257.08" cy="193.95" r="1.03"/><circle cx="257.41" cy="198.31" r="1.78"/><circle cx="256.57" cy="200.46" r="0.78"/><circle cx="256.44" cy="204.52" r="1.24"/><circle cx="257.25" cy="206.42" r="1.22"/><circle cx="256.45" cy="210.78" r="0.84"/><circle cx="256.78" cy="213.49" r="1.14"/><circle cx="259.5" cy="167.35" r="1.3"/><circle cx="259.92" cy="168.98" r="1.34"/><circle cx="260.11" cy="172.08" r="1.03"/><circle cx="259.58" cy="175.66" r="1.18"/><circle cx="259.89" cy="179.5" r="1.93"/><circle cx="259.54" cy="182.39" r="1.24"/><circle cx="259.33" cy="184.59" r="0.8"/><circle cx="259.41" cy="188.82" r="1.26"/><circle cx="260.9" cy="190.98" r="0.85"/><circle cx="260.68" cy="193.87" r="0.79"/><circle cx="259.82" cy="196.97" r="0.71"/><circle cx="259.93" cy="201.34" r="1.13"/><circle cx="260.13" cy="204.59" r="1.08"/><circle cx="260.62" cy="207.8" r="0.87"/><circle cx="260.32" cy="210.22" r="1.18"/><circle cx="260.98" cy="213.27" r="0.72"/><circle cx="263.52" cy="170.22" r="1.21"/><circle cx="263.13" cy="172.05" r="1.16"/><circle cx="263.07" cy="175.37" r="1.22"/><circle cx="263.74" cy="178.93" r="1.08"/><circle cx="263.43" cy="182.22" r="0.7"/><circle cx="262.35" cy="184.42" r="1.33"/><circle cx="262.49" cy="188.34" r="1.26"/><circle cx="263.67" cy="191.89" r="1.17"/><circle cx="263.22" cy="195.09" r="1.17"/><circle cx="263.71" cy="201.08" r="1.07"/><circle cx="262.73" cy="203.03" r="1.01"/><circle cx="263.28" cy="207.85" r="0.98"/><circle cx="262.4" cy="210.34" r="1.03"/><circle cx="263.92" cy="213.74" r="0.75"/><circle cx="265.74" cy="166.44" r="0.92"/><circle cx="265.7" cy="170.19" r="0.79"/><circle cx="266.54" cy="173.4" r="1.28"/><circle cx="265.37" cy="176.81" r="1.34"/><circle cx="265.5" cy="179.55" r="1.28"/><circle cx="265.9" cy="182.46" r="0.9"/><circle cx="266.35" cy="185.69" r="1.14"/><circle cx="266.69" cy="189.24" r="1.15"/><circle cx="266.23" cy="194.74" r="1.03"/><circle cx="266.3" cy="197.41" r="1.2"/><circle cx="267.05" cy="201.27" r="0.72"/><circle cx="265.41" cy="204.39" r="1.18"/><circle cx="265.36" cy="207.81" r="0.9"/><circle cx="266.73" cy="209.75" r="1.05"/><circle cx="266.49" cy="212.63" r="0.87"/><circle cx="269.06" cy="166.28" r="0.74"/><circle cx="269.82" cy="169.31" r="1.95"/><circle cx="268.96" cy="176.06" r="0.93"/><circle cx="270.05" cy="179.14" r="1.04"/><circle cx="269.45" cy="182.18" r="0.71"/><circle cx="268.92" cy="185.8" r="1.53"/><circle cx="268.47" cy="188.77" r="0.83"/><circle cx="269.3" cy="191.31" r="0.85"/><circle cx="268.95" cy="194.12" r="0.96"/><circle cx="269.4" cy="196.96" r="1.12"/><circle cx="269.48" cy="201.19" r="0.85"/><circle cx="268.93" cy="206.67" r="1.25"/><circle cx="268.7" cy="210.63" r="1.04"/><circle cx="269.18" cy="213.37" r="0.75"/><circle cx="272.12" cy="169.1" r="0.84"/><circle cx="272.06" cy="173.53" r="1.06"/><circle cx="272.01" cy="176.59" r="1.27"/><circle cx="272.27" cy="182.39" r="0.97"/><circle cx="272.56" cy="185.64" r="1.12"/><circle cx="272.95" cy="187.76" r="1.05"/><circle cx="272.06" cy="190.93" r="1.34"/><circle cx="271.68" cy="193.75" r="0.72"/><circle cx="271.78" cy="198.19" r="0.96"/><circle cx="272.04" cy="201.67" r="0.73"/><circle cx="271.92" cy="203.05" r="0.8"/><circle cx="271.82" cy="206.86" r="1.02"/><circle cx="271.85" cy="210.04" r="0.66"/><circle cx="272.62" cy="213.44" r="1.12"/><circle cx="275.14" cy="167.08" r="0.81"/><circle cx="275.13" cy="170.47" r="1.15"/><circle cx="275.24" cy="172.15" r="0.93"/><circle cx="274.58" cy="175.65" r="1.06"/><circle cx="275.39" cy="179.24" r="0.97"/><circle cx="275.24" cy="181.87" r="1.31"/><circle cx="276" cy="184.78" r="0.86"/><circle cx="274.68" cy="188.7" r="0.67"/><circle cx="275.05" cy="192.16" r="0.88"/><circle cx="275.15" cy="195.18" r="1.25"/><circle cx="275.07" cy="197.38" r="1.04"/><circle cx="274.89" cy="200.76" r="0.82"/><circle cx="275.83" cy="203.4" r="1.03"/><circle cx="276.18" cy="207.01" r="1.25"/><circle cx="274.6" cy="210.31" r="1.03"/><circle cx="275.11" cy="213.09" r="1.19"/><circle cx="278.55" cy="166.84" r="1.22"/><circle cx="278.98" cy="169.22" r="0.75"/><circle cx="278.96" cy="172.69" r="0.92"/><circle cx="277.62" cy="175.66" r="0.79"/><circle cx="278.41" cy="178.62" r="1.26"/><circle cx="277.91" cy="182.83" r="0.98"/><circle cx="278.56" cy="186.21" r="0.97"/><circle cx="277.57" cy="188.76" r="0.93"/><circle cx="277.53" cy="192.44" r="1.18"/><circle cx="279.21" cy="195.28" r="0.83"/><circle cx="277.78" cy="198.4" r="1.21"/><circle cx="279.19" cy="201.59" r="1.29"/><circle cx="278.83" cy="203.54" r="1.18"/><circle cx="278.39" cy="207.98" r="1.06"/><circle cx="278.25" cy="210.97" r="1.05"/><circle cx="278.72" cy="213.84" r="0.96"/><circle cx="282.1" cy="166.81" r="0.67"/><circle cx="280.52" cy="169.47" r="1.33"/><circle cx="282.01" cy="173.36" r="1.34"/><circle cx="280.92" cy="176.83" r="1.32"/><circle cx="282.01" cy="179.77" r="1.14"/><circle cx="282.19" cy="181.75" r="1.64"/><circle cx="281.85" cy="192.21" r="1.06"/><circle cx="281.34" cy="195.2" r="1.33"/><circle cx="282" cy="197.89" r="1.85"/><circle cx="281.63" cy="201.1" r="0.75"/><circle cx="281.15" cy="204.72" r="0.9"/><circle cx="280.75" cy="207.68" r="0.75"/><circle cx="281.13" cy="209.26" r="0.65"/><circle cx="281.6" cy="212.37" r="0.99"/><circle cx="283.89" cy="166.18" r="0.68"/><circle cx="283.87" cy="169.73" r="0.76"/><circle cx="284.35" cy="172.38" r="0.81"/><circle cx="283.74" cy="176.22" r="0.97"/><circle cx="283.91" cy="179.8" r="1.03"/><circle cx="284.28" cy="182.87" r="0.8"/><circle cx="284.18" cy="185.71" r="1.15"/><circle cx="284.02" cy="188.24" r="1.16"/><circle cx="285.07" cy="191.08" r="0.77"/><circle cx="283.89" cy="194.16" r="1.01"/><circle cx="283.8" cy="197.67" r="0.73"/><circle cx="284.92" cy="200.81" r="1.05"/><circle cx="285.13" cy="203.52" r="1.13"/><circle cx="283.98" cy="206.77" r="0.77"/><circle cx="283.83" cy="210.17" r="1.36"/><circle cx="284.89" cy="212.45" r="1.54"/><circle cx="286.88" cy="166.13" r="0.78"/><circle cx="288.16" cy="169.21" r="0.92"/><circle cx="287.15" cy="172.32" r="1.54"/><circle cx="287.4" cy="175.82" r="0.77"/><circle cx="287.96" cy="179.54" r="1.7"/><circle cx="287.5" cy="182.59" r="1.18"/><circle cx="286.84" cy="184.92" r="1.1"/><circle cx="287" cy="187.66" r="0.81"/><circle cx="287.78" cy="191.88" r="1.26"/><circle cx="287.56" cy="194.47" r="0.88"/><circle cx="287.44" cy="196.96" r="0.82"/><circle cx="287.61" cy="200.88" r="1.17"/><circle cx="286.62" cy="203.65" r="1.22"/><circle cx="287.99" cy="207.85" r="1.05"/><circle cx="287.57" cy="212.45" r="0.94"/><circle cx="289.79" cy="166.01" r="0.81"/><circle cx="290.18" cy="170.73" r="1.54"/><circle cx="291.28" cy="173.54" r="1.23"/><circle cx="291.05" cy="176.9" r="1.17"/><circle cx="290.28" cy="181.97" r="1.34"/><circle cx="289.7" cy="184.98" r="1.1"/><circle cx="290.89" cy="188.05" r="1.11"/><circle cx="290.5" cy="194.33" r="1"/><circle cx="290.73" cy="200.89" r="1.36"/><circle cx="289.63" cy="204.07" r="0.99"/><circle cx="290.51" cy="207.88" r="1.73"/><circle cx="289.74" cy="211.02" r="1"/><circle cx="290.15" cy="212.83" r="1.67"/><circle cx="292.64" cy="166.34" r="0.96"/><circle cx="293.79" cy="172.22" r="1.34"/><circle cx="293.55" cy="176.25" r="1.24"/><circle cx="293.75" cy="179.46" r="0.89"/><circle cx="294.04" cy="182.2" r="0.69"/><circle cx="293.75" cy="186.2" r="0.86"/><circle cx="293.15" cy="188.15" r="0.75"/><circle cx="293.16" cy="190.72" r="0.99"/><circle cx="292.87" cy="195.3" r="1.13"/><circle cx="292.98" cy="197.17" r="1.17"/><circle cx="293.28" cy="199.98" r="0.93"/><circle cx="293.22" cy="204.03" r="1.05"/><circle cx="293.23" cy="206.62" r="0.77"/><circle cx="293.33" cy="213.32" r="0.73"/><circle cx="296.11" cy="166.91" r="0.95"/><circle cx="296.03" cy="169.78" r="0.85"/><circle cx="296.18" cy="175.43" r="0.83"/><circle cx="297.04" cy="178.79" r="0.99"/><circle cx="296.1" cy="182.89" r="0.71"/><circle cx="295.61" cy="185.54" r="0.86"/><circle cx="296.25" cy="188.88" r="1.74"/><circle cx="296.81" cy="192.12" r="1.02"/><circle cx="295.7" cy="195.2" r="0.73"/><circle cx="296.71" cy="198.2" r="1.3"/><circle cx="296.88" cy="200.35" r="0.71"/><circle cx="296.04" cy="204.86" r="0.74"/><circle cx="295.8" cy="206.44" r="1.15"/><circle cx="295.74" cy="209.66" r="0.74"/><circle cx="299.79" cy="166.93" r="1.03"/><circle cx="299.01" cy="173" r="0.93"/><circle cx="300.03" cy="175.48" r="0.85"/><circle cx="299.98" cy="178.37" r="0.96"/><circle cx="299.99" cy="181.79" r="1.14"/><circle cx="299.16" cy="185.43" r="1.2"/><circle cx="299.83" cy="188.44" r="0.68"/><circle cx="298.72" cy="192.12" r="0.77"/><circle cx="300.17" cy="193.78" r="0.94"/><circle cx="299.01" cy="201.03" r="1.3"/><circle cx="300.14" cy="203.72" r="1.11"/><circle cx="298.77" cy="206.37" r="1.11"/><circle cx="298.83" cy="212.96" r="0.85"/><circle cx="301.78" cy="166" r="0.73"/><circle cx="302.9" cy="170.55" r="0.77"/><circle cx="302.21" cy="173.13" r="0.82"/><circle cx="301.57" cy="176.36" r="0.9"/><circle cx="303.3" cy="178.53" r="0.8"/><circle cx="302.42" cy="182.17" r="1.3"/><circle cx="301.98" cy="185.06" r="1.34"/><circle cx="303.2" cy="189.19" r="0.96"/><circle cx="302.58" cy="191.95" r="1.04"/><circle cx="301.99" cy="194.65" r="1.35"/><circle cx="302.97" cy="197.65" r="1.24"/><circle cx="301.84" cy="200.49" r="1.1"/><circle cx="302.27" cy="204.08" r="0.87"/><circle cx="301.9" cy="207.77" r="0.69"/><circle cx="302.29" cy="210.31" r="1.09"/><circle cx="303.29" cy="213.4" r="1.23"/><circle cx="305.12" cy="167.28" r="0.82"/><circle cx="305.82" cy="169.6" r="0.96"/><circle cx="305.01" cy="172.78" r="1.09"/><circle cx="305.34" cy="176.53" r="1.24"/><circle cx="305.58" cy="178.86" r="1.07"/><circle cx="305.72" cy="182.66" r="1.01"/><circle cx="305.68" cy="184.47" r="1.1"/><circle cx="305.6" cy="188.11" r="0.86"/><circle cx="305.77" cy="192.01" r="0.87"/><circle cx="305.86" cy="194.89" r="0.85"/><circle cx="305.7" cy="198.14" r="1.23"/><circle cx="306.1" cy="200.53" r="1.12"/><circle cx="304.63" cy="207.65" r="1.35"/><circle cx="304.81" cy="209.24" r="0.99"/><circle cx="305.31" cy="213.76" r="1.04"/><circle cx="309.3" cy="166.29" r="0.7"/><circle cx="308.36" cy="170.29" r="0.77"/><circle cx="309.33" cy="173.43" r="0.67"/><circle cx="308.66" cy="176.55" r="1.28"/><circle cx="308.52" cy="179.13" r="1.12"/><circle cx="308.83" cy="181.9" r="1.13"/><circle cx="308.26" cy="185.09" r="1.25"/><circle cx="308.43" cy="188.11" r="1.19"/><circle cx="308.61" cy="191.35" r="0.94"/><circle cx="307.85" cy="194.14" r="1.1"/><circle cx="308.51" cy="197.57" r="0.66"/><circle cx="307.69" cy="200.95" r="1.21"/><circle cx="308.79" cy="203.77" r="0.97"/><circle cx="307.92" cy="206.79" r="0.95"/><circle cx="308.82" cy="210.3" r="1.18"/><circle cx="308.24" cy="213" r="0.66"/></g>
<g fill="#f8f6fc"><circle cx="231.79" cy="280.36" r="1.14"/><circle cx="231.15" cy="284.77" r="0.75"/><circle cx="232.09" cy="298.28" r="1.03"/><circle cx="232.89" cy="301.35" r="0.73"/><circle cx="232.8" cy="321.64" r="1.09"/><circle cx="232.53" cy="325.24" r="0.97"/><circle cx="235.4" cy="280.38" r="0.68"/><circle cx="235.45" cy="294.27" r="1.06"/><circle cx="235.32" cy="298.09" r="1.17"/><circle cx="235.92" cy="303.89" r="0.88"/><circle cx="236.18" cy="316.78" r="0.8"/><circle cx="240.33" cy="280.7" r="0.83"/><circle cx="239.82" cy="283.43" r="0.67"/><circle cx="241.45" cy="289.7" r="0.62"/><circle cx="239.89" cy="302.31" r="1"/><circle cx="245.3" cy="289.26" r="1.3"/><circle cx="245.58" cy="297.69" r="1.11"/><circle cx="248.83" cy="284.84" r="1.03"/><circle cx="247.67" cy="289.16" r="0.89"/><circle cx="248.71" cy="306.11" r="1.71"/><circle cx="249.56" cy="315.84" r="0.89"/><circle cx="249.46" cy="324.94" r="0.58"/><circle cx="252.12" cy="278.96" r="0.57"/><circle cx="254.02" cy="299.37" r="0.63"/><circle cx="253.92" cy="321.05" r="0.92"/><circle cx="253.16" cy="324.73" r="0.98"/><circle cx="256.15" cy="281.42" r="0.86"/><circle cx="257.29" cy="284.33" r="0.58"/><circle cx="257.81" cy="288.81" r="0.74"/><circle cx="257.53" cy="293.03" r="0.65"/><circle cx="258" cy="299.35" r="0.81"/><circle cx="256.31" cy="307.02" r="0.52"/><circle cx="258.1" cy="315.47" r="0.71"/><circle cx="261.42" cy="280.27" r="1.04"/><circle cx="262.36" cy="285.66" r="1.14"/><circle cx="261.73" cy="289.08" r="0.89"/><circle cx="260.61" cy="301.47" r="0.79"/><circle cx="260.16" cy="310.58" r="0.55"/><circle cx="261.74" cy="321.11" r="1.24"/><circle cx="261.19" cy="326.01" r="0.57"/><circle cx="265.63" cy="280.07" r="1.08"/><circle cx="265.17" cy="294.59" r="0.59"/><circle cx="264.64" cy="302.56" r="1.18"/><circle cx="264.58" cy="310.81" r="0.95"/><circle cx="266.31" cy="315.5" r="0.92"/><circle cx="265.61" cy="324.27" r="1.34"/><circle cx="270.14" cy="280.57" r="0.89"/><circle cx="269.2" cy="294.64" r="0.56"/><circle cx="268.79" cy="297.12" r="0.78"/><circle cx="269.34" cy="302.98" r="0.98"/><circle cx="268.94" cy="320.04" r="1.18"/><circle cx="270.28" cy="326.16" r="0.8"/><circle cx="274.54" cy="279.84" r="0.86"/><circle cx="274.66" cy="287.9" r="1.71"/><circle cx="275.1" cy="293.49" r="1.32"/><circle cx="272.97" cy="303.88" r="1.03"/><circle cx="274.01" cy="308.19" r="0.86"/><circle cx="273.32" cy="314.75" r="0.85"/><circle cx="274.78" cy="319.34" r="1.02"/><circle cx="279.21" cy="278.91" r="0.74"/><circle cx="277.38" cy="290.43" r="0.93"/><circle cx="277.81" cy="294.11" r="0.8"/><circle cx="279.49" cy="301.38" r="0.9"/><circle cx="283.47" cy="294.99" r="0.94"/><circle cx="283.79" cy="296.96" r="1.21"/><circle cx="282.02" cy="314.98" r="1.3"/><circle cx="286.34" cy="285.81" r="0.97"/><circle cx="286.86" cy="294.71" r="0.58"/><circle cx="286.82" cy="307.37" r="0.52"/><circle cx="286.67" cy="314.92" r="0.69"/><circle cx="286.5" cy="320.08" r="1.12"/><circle cx="285.63" cy="326.08" r="0.82"/><circle cx="292.12" cy="288.84" r="0.57"/><circle cx="291.43" cy="303.44" r="1.18"/><circle cx="291.19" cy="319.49" r="1.04"/><circle cx="290.67" cy="325.34" r="1.2"/><circle cx="294.32" cy="279" r="0.67"/><circle cx="294.29" cy="289.23" r="0.59"/><circle cx="295.39" cy="294.68" r="0.88"/><circle cx="295.42" cy="296.85" r="1.05"/><circle cx="295.55" cy="301.65" r="0.96"/><circle cx="294.67" cy="307.03" r="1.06"/><circle cx="295.48" cy="311.3" r="1.15"/><circle cx="296.16" cy="324.94" r="0.79"/><circle cx="299.17" cy="285.59" r="0.52"/><circle cx="299.84" cy="302.85" r="0.76"/><circle cx="299.85" cy="307.27" r="0.6"/><circle cx="300.19" cy="315.78" r="1"/><circle cx="299.01" cy="320.91" r="0.64"/><circle cx="298.62" cy="325.98" r="1.15"/><circle cx="303.73" cy="285.85" r="1.16"/><circle cx="304.73" cy="289.36" r="0.66"/><circle cx="304.5" cy="293.17" r="1.05"/><circle cx="303.03" cy="296.89" r="1.16"/><circle cx="304.25" cy="307.68" r="1.15"/><circle cx="304.09" cy="311.46" r="0.88"/><circle cx="303.7" cy="325.63" r="0.97"/><circle cx="308.82" cy="279.58" r="0.75"/><circle cx="307.19" cy="284.04" r="0.93"/><circle cx="307.15" cy="297.98" r="1.15"/><circle cx="308.86" cy="308.17" r="1.07"/><circle cx="307.31" cy="317.35" r="0.65"/></g>
<ellipse cx="43.6" cy="134" rx="8.6" ry="2.7" fill="#fdfbfd" transform="rotate(28 43.6 134)"/>
<ellipse cx="59.5" cy="148" rx="2.5" ry="3" fill="#fdfbfd" transform="rotate(0 59.5 148)"/>
<ellipse cx="87.7" cy="138" rx="2.3" ry="1.3" fill="#fdfbfd" transform="rotate(10 87.7 138)"/>
<ellipse cx="154" cy="136.1" rx="2.6" ry="2.4" fill="#fdfbfd" transform="rotate(0 154 136.1)"/>
<ellipse cx="264.7" cy="139.2" rx="6" ry="3" fill="#fdfbfd" transform="rotate(0 264.7 139.2)"/>
<ellipse cx="373.4" cy="132.3" rx="4" ry="2" fill="#fdfbfd" transform="rotate(30 373.4 132.3)"/>
<ellipse cx="48.6" cy="191.4" rx="1.7" ry="1.4" fill="#fdfbfd" transform="rotate(0 48.6 191.4)"/>
<ellipse cx="79" cy="183.4" rx="1.3" ry="1.3" fill="#fdfbfd" transform="rotate(0 79 183.4)"/>
<ellipse cx="88.3" cy="207" rx="1.2" ry="1.5" fill="#fdfbfd" transform="rotate(0 88.3 207)"/>
<ellipse cx="155.8" cy="191.1" rx="2.6" ry="2.1" fill="#fdfbfd" transform="rotate(0 155.8 191.1)"/>
<ellipse cx="347.7" cy="192.2" rx="3.4" ry="2.4" fill="#fdfbfd" transform="rotate(0 347.7 192.2)"/>
<ellipse cx="384.6" cy="190.6" rx="3" ry="1.5" fill="#fdfbfd" transform="rotate(20 384.6 190.6)"/>
<ellipse cx="86.9" cy="247.8" rx="2.7" ry="1.2" fill="#fdfbfd" transform="rotate(0 86.9 247.8)"/>
<ellipse cx="152.9" cy="240.6" rx="1.7" ry="2.7" fill="#fdfbfd" transform="rotate(0 152.9 240.6)"/>
<ellipse cx="289.7" cy="253.6" rx="2.2" ry="2.3" fill="#fdfbfd" transform="rotate(0 289.7 253.6)"/>
<ellipse cx="89.5" cy="318" rx="1.6" ry="1.9" fill="#fdfbfd" transform="rotate(0 89.5 318)"/>
<ellipse cx="62.2" cy="323.5" rx="1.1" ry="0.9" fill="#fdfbfd" transform="rotate(0 62.2 323.5)"/>
<ellipse cx="372.3" cy="313.4" rx="1.6" ry="1.6" fill="#fdfbfd" transform="rotate(0 372.3 313.4)"/>
<ellipse cx="46" cy="284.4" rx="6.75" ry="2.4" fill="#c07848" opacity="0.14" filter="url(#bl1)" transform="rotate(30 46 284.4)"/>
<ellipse cx="36" cy="290" rx="6" ry="2.1" fill="#c07848" opacity="0.1" filter="url(#bl1)" transform="rotate(-20 36 290)"/>
<ellipse cx="83.3" cy="283.2" rx="3.9" ry="3" fill="#c07848" opacity="0.17" filter="url(#bl1)" transform="rotate(0 83.3 283.2)"/>
<ellipse cx="52.3" cy="309.3" rx="4.5" ry="3.6" fill="#c07848" opacity="0.18" filter="url(#bl1)" transform="rotate(0 52.3 309.3)"/>
<ellipse cx="88.3" cy="318" rx="4.5" ry="4.5" fill="#c07848" opacity="0.15" filter="url(#bl1)" transform="rotate(0 88.3 318)"/>
<ellipse cx="62.2" cy="322.5" rx="3" ry="2.4" fill="#c07848" opacity="0.15" filter="url(#bl1)" transform="rotate(0 62.2 322.5)"/>
<ellipse cx="70" cy="300" rx="7.5" ry="1.8" fill="#c07848" opacity="0.09" filter="url(#bl1)" transform="rotate(20 70 300)"/>
<ellipse cx="40" cy="316" rx="5.25" ry="1.8" fill="#c07848" opacity="0.09" filter="url(#bl1)" transform="rotate(-30 40 316)"/>
<ellipse cx="139.7" cy="296.3" rx="3.9" ry="3.3" fill="#c07848" opacity="0.17" filter="url(#bl1)" transform="rotate(0 139.7 296.3)"/>
<ellipse cx="180.6" cy="321.4" rx="3.3" ry="2.4" fill="#c07848" opacity="0.15" filter="url(#bl1)" transform="rotate(0 180.6 321.4)"/>
<ellipse cx="160" cy="286" rx="4.5" ry="1.5" fill="#c07848" opacity="0.09" filter="url(#bl1)" transform="rotate(40 160 286)"/>
<ellipse cx="236" cy="294.5" rx="4.5" ry="3.6" fill="#c07848" opacity="0.18" filter="url(#bl1)" transform="rotate(0 236 294.5)"/>
<ellipse cx="285.7" cy="286.4" rx="4.2" ry="3.3" fill="#c07848" opacity="0.17" filter="url(#bl1)" transform="rotate(0 285.7 286.4)"/>
<ellipse cx="294.5" cy="313.8" rx="3.6" ry="3" fill="#c07848" opacity="0.14" filter="url(#bl1)" transform="rotate(0 294.5 313.8)"/>
<ellipse cx="262" cy="305" rx="4.5" ry="1.8" fill="#c07848" opacity="0.09" filter="url(#bl1)" transform="rotate(10 262 305)"/>
<ellipse cx="382" cy="287.5" rx="3.3" ry="2.4" fill="#c07848" opacity="0.12" filter="url(#bl1)" transform="rotate(0 382 287.5)"/>
<ellipse cx="372.3" cy="313.4" rx="4.8" ry="4.5" fill="#c07848" opacity="0.1" filter="url(#bl1)" transform="rotate(0 372.3 313.4)"/>
<clipPath id="bpc"><ellipse cx="46" cy="284.4" rx="5.85" ry="2.08" transform="rotate(30 46 284.4)"/><ellipse cx="36" cy="290" rx="5.2" ry="1.82" transform="rotate(-20 36 290)"/><ellipse cx="83.3" cy="283.2" rx="3.38" ry="2.6" transform="rotate(0 83.3 283.2)"/><ellipse cx="52.3" cy="309.3" rx="3.9" ry="3.12" transform="rotate(0 52.3 309.3)"/><ellipse cx="88.3" cy="318" rx="3.9" ry="3.9" transform="rotate(0 88.3 318)"/><ellipse cx="62.2" cy="322.5" rx="2.6" ry="2.08" transform="rotate(0 62.2 322.5)"/><ellipse cx="70" cy="300" rx="6.5" ry="1.56" transform="rotate(20 70 300)"/><ellipse cx="40" cy="316" rx="4.55" ry="1.56" transform="rotate(-30 40 316)"/><ellipse cx="139.7" cy="296.3" rx="3.38" ry="2.86" transform="rotate(0 139.7 296.3)"/><ellipse cx="180.6" cy="321.4" rx="2.86" ry="2.08" transform="rotate(0 180.6 321.4)"/><ellipse cx="160" cy="286" rx="3.9" ry="1.3" transform="rotate(40 160 286)"/><ellipse cx="236" cy="294.5" rx="3.9" ry="3.12" transform="rotate(0 236 294.5)"/><ellipse cx="285.7" cy="286.4" rx="3.64" ry="2.86" transform="rotate(0 285.7 286.4)"/><ellipse cx="294.5" cy="313.8" rx="3.12" ry="2.6" transform="rotate(0 294.5 313.8)"/><ellipse cx="262" cy="305" rx="3.9" ry="1.56" transform="rotate(10 262 305)"/><ellipse cx="382" cy="287.5" rx="2.86" ry="2.08" transform="rotate(0 382 287.5)"/><ellipse cx="372.3" cy="313.4" rx="4.16" ry="3.9" transform="rotate(0 372.3 313.4)"/></clipPath>
<rect x="25" y="277" width="385" height="51" fill="url(#pbr3)" clip-path="url(#bpc)" opacity="0.45"/>
<ellipse cx="89.5" cy="318" rx="1.6" ry="1.9" fill="#fdfbfd" transform="rotate(0 89.5 318)"/>
<ellipse cx="62.2" cy="323.5" rx="1.1" ry="0.9" fill="#fdfbfd" transform="rotate(0 62.2 323.5)"/>
<ellipse cx="372.3" cy="313.4" rx="1.6" ry="1.6" fill="#fdfbfd" transform="rotate(0 372.3 313.4)"/>
</g>
<rect x="385.8" y="319.9" width="19.3" height="2.4" fill="#111"/>
<text x="374.7" y="8.8" font-family="Liberation Serif" font-size="12" font-weight="bold" text-anchor="start" fill="#111" stroke="#111" stroke-width="0.22">B</text>
<text x="422.4" y="21" font-family="Liberation Serif" font-size="8.7" font-weight="bold" text-anchor="middle" fill="#111" stroke="#111" stroke-width="0.22">Flox-HFD</text>
<text x="487.8" y="11.4" font-family="Liberation Serif" font-size="8.6" font-weight="bold" text-anchor="middle" fill="#111" stroke="#111" stroke-width="0.22">Flox-HFD</text>
<text x="487.6" y="18.6" font-family="Liberation Serif" font-size="7.6" font-weight="bold" text-anchor="middle" fill="#111" stroke="#111" stroke-width="0.22">+</text>
<text x="487.8" y="26.3" font-family="Liberation Serif" font-size="8.6" font-weight="bold" text-anchor="middle" fill="#111" stroke="#111" stroke-width="0.22">PF429242</text>
<text x="555.4" y="21" font-family="Liberation Serif" font-size="8.7" font-weight="bold" text-anchor="middle" fill="#111" stroke="#111" stroke-width="0.22">HKO-HFD</text>
<text x="624.4" y="10.3" font-family="Liberation Serif" font-size="8.6" font-weight="bold" text-anchor="middle" fill="#111" stroke="#111" stroke-width="0.22">HKO-HFD</text>
<text x="624.1" y="17.5" font-family="Liberation Serif" font-size="7.6" font-weight="bold" text-anchor="middle" fill="#111" stroke="#111" stroke-width="0.22">+</text>
<text x="624.5" y="25.4" font-family="Liberation Serif" font-size="8.6" font-weight="bold" text-anchor="middle" fill="#111" stroke="#111" stroke-width="0.22">PF429242</text>
<rect x="395.2" y="27.3" width="53.9" height="52.6" fill="#f3efe2"/>
<rect x="395.2" y="27.3" width="8.7" height="52.6" fill="url(#ruler)"/>
<path d="M400.3 29.3H402.9" stroke="#5a606c" stroke-width="0.4"/>
<path d="M401.5 32.1H402.9" stroke="#5a606c" stroke-width="0.4"/>
<path d="M401.5 34.9H402.9" stroke="#5a606c" stroke-width="0.4"/>
<path d="M401.5 37.7H402.9" stroke="#5a606c" stroke-width="0.4"/>
<path d="M401.5 40.5H402.9" stroke="#5a606c" stroke-width="0.4"/>
<path d="M400.3 43.3H402.9" stroke="#5a606c" stroke-width="0.4"/>
<path d="M401.5 46.1H402.9" stroke="#5a606c" stroke-width="0.4"/>
<path d="M401.5 48.9H402.9" stroke="#5a606c" stroke-width="0.4"/>
<path d="M401.5 51.7H402.9" stroke="#5a606c" stroke-width="0.4"/>
<path d="M401.5 54.5H402.9" stroke="#5a606c" stroke-width="0.4"/>
<path d="M400.3 57.3H402.9" stroke="#5a606c" stroke-width="0.4"/>
<path d="M401.5 60.1H402.9" stroke="#5a606c" stroke-width="0.4"/>
<path d="M401.5 62.9H402.9" stroke="#5a606c" stroke-width="0.4"/>
<path d="M401.5 65.7H402.9" stroke="#5a606c" stroke-width="0.4"/>
<path d="M401.5 68.5H402.9" stroke="#5a606c" stroke-width="0.4"/>
<path d="M400.3 71.3H402.9" stroke="#5a606c" stroke-width="0.4"/>
<path d="M401.5 74.1H402.9" stroke="#5a606c" stroke-width="0.4"/>
<path d="M401.5 76.9H402.9" stroke="#5a606c" stroke-width="0.4"/>
<rect x="396.8" y="31.3" width="1.6" height="2.2" fill="#6a707c" opacity="0.7"/>
<rect x="396.8" y="41.8" width="1.6" height="2.2" fill="#6a707c" opacity="0.7"/>
<rect x="396.8" y="52.3" width="1.6" height="2.2" fill="#6a707c" opacity="0.7"/>
<rect x="396.8" y="62.8" width="1.6" height="2.2" fill="#6a707c" opacity="0.7"/>
<rect x="396.8" y="73.3" width="1.6" height="2.2" fill="#6a707c" opacity="0.7"/>
<rect x="461.6" y="27.3" width="55.1" height="52.6" fill="#f2efe0"/>
<rect x="461.6" y="27.3" width="10.7" height="52.6" fill="url(#ruler)"/>
<path d="M468.7 29.3H471.3" stroke="#5a606c" stroke-width="0.4"/>
<path d="M469.9 32.1H471.3" stroke="#5a606c" stroke-width="0.4"/>
<path d="M469.9 34.9H471.3" stroke="#5a606c" stroke-width="0.4"/>
<path d="M469.9 37.7H471.3" stroke="#5a606c" stroke-width="0.4"/>
<path d="M469.9 40.5H471.3" stroke="#5a606c" stroke-width="0.4"/>
<path d="M468.7 43.3H471.3" stroke="#5a606c" stroke-width="0.4"/>
<path d="M469.9 46.1H471.3" stroke="#5a606c" stroke-width="0.4"/>
<path d="M469.9 48.9H471.3" stroke="#5a606c" stroke-width="0.4"/>
<path d="M469.9 51.7H471.3" stroke="#5a606c" stroke-width="0.4"/>
<path d="M469.9 54.5H471.3" stroke="#5a606c" stroke-width="0.4"/>
<path d="M468.7 57.3H471.3" stroke="#5a606c" stroke-width="0.4"/>
<path d="M469.9 60.1H471.3" stroke="#5a606c" stroke-width="0.4"/>
<path d="M469.9 62.9H471.3" stroke="#5a606c" stroke-width="0.4"/>
<path d="M469.9 65.7H471.3" stroke="#5a606c" stroke-width="0.4"/>
<path d="M469.9 68.5H471.3" stroke="#5a606c" stroke-width="0.4"/>
<path d="M468.7 71.3H471.3" stroke="#5a606c" stroke-width="0.4"/>
<path d="M469.9 74.1H471.3" stroke="#5a606c" stroke-width="0.4"/>
<path d="M469.9 76.9H471.3" stroke="#5a606c" stroke-width="0.4"/>
<rect x="463.2" y="31.3" width="1.6" height="2.2" fill="#6a707c" opacity="0.7"/>
<rect x="463.2" y="41.8" width="1.6" height="2.2" fill="#6a707c" opacity="0.7"/>
<rect x="463.2" y="52.3" width="1.6" height="2.2" fill="#6a707c" opacity="0.7"/>
<rect x="463.2" y="62.8" width="1.6" height="2.2" fill="#6a707c" opacity="0.7"/>
<rect x="463.2" y="73.3" width="1.6" height="2.2" fill="#6a707c" opacity="0.7"/>
<rect x="528.1" y="27.1" width="54.6" height="53.5" fill="#f1f1f3"/>
<rect x="528.1" y="27.1" width="8.3" height="53.5" fill="url(#ruler)"/>
<path d="M532.8 29.1H535.4" stroke="#5a606c" stroke-width="0.4"/>
<path d="M534 31.9H535.4" stroke="#5a606c" stroke-width="0.4"/>
<path d="M534 34.7H535.4" stroke="#5a606c" stroke-width="0.4"/>
<path d="M534 37.5H535.4" stroke="#5a606c" stroke-width="0.4"/>
<path d="M534 40.3H535.4" stroke="#5a606c" stroke-width="0.4"/>
<path d="M532.8 43.1H535.4" stroke="#5a606c" stroke-width="0.4"/>
<path d="M534 45.9H535.4" stroke="#5a606c" stroke-width="0.4"/>
<path d="M534 48.7H535.4" stroke="#5a606c" stroke-width="0.4"/>
<path d="M534 51.5H535.4" stroke="#5a606c" stroke-width="0.4"/>
<path d="M534 54.3H535.4" stroke="#5a606c" stroke-width="0.4"/>
<path d="M532.8 57.1H535.4" stroke="#5a606c" stroke-width="0.4"/>
<path d="M534 59.9H535.4" stroke="#5a606c" stroke-width="0.4"/>
<path d="M534 62.7H535.4" stroke="#5a606c" stroke-width="0.4"/>
<path d="M534 65.5H535.4" stroke="#5a606c" stroke-width="0.4"/>
<path d="M534 68.3H535.4" stroke="#5a606c" stroke-width="0.4"/>
<path d="M532.8 71.1H535.4" stroke="#5a606c" stroke-width="0.4"/>
<path d="M534 73.9H535.4" stroke="#5a606c" stroke-width="0.4"/>
<path d="M534 76.7H535.4" stroke="#5a606c" stroke-width="0.4"/>
<rect x="529.7" y="31.1" width="1.6" height="2.2" fill="#6a707c" opacity="0.7"/>
<rect x="529.7" y="41.6" width="1.6" height="2.2" fill="#6a707c" opacity="0.7"/>
<rect x="529.7" y="52.1" width="1.6" height="2.2" fill="#6a707c" opacity="0.7"/>
<rect x="529.7" y="62.6" width="1.6" height="2.2" fill="#6a707c" opacity="0.7"/>
<rect x="529.7" y="73.1" width="1.6" height="2.2" fill="#6a707c" opacity="0.7"/>
<rect x="594.6" y="27.1" width="55.1" height="53.5" fill="#eef3f4"/>
<rect x="594.6" y="27.1" width="10.4" height="53.5" fill="url(#ruler)"/>
<path d="M601.4 29.1H604" stroke="#5a606c" stroke-width="0.4"/>
<path d="M602.6 31.9H604" stroke="#5a606c" stroke-width="0.4"/>
<path d="M602.6 34.7H604" stroke="#5a606c" stroke-width="0.4"/>
<path d="M602.6 37.5H604" stroke="#5a606c" stroke-width="0.4"/>
<path d="M602.6 40.3H604" stroke="#5a606c" stroke-width="0.4"/>
<path d="M601.4 43.1H604" stroke="#5a606c" stroke-width="0.4"/>
<path d="M602.6 45.9H604" stroke="#5a606c" stroke-width="0.4"/>
<path d="M602.6 48.7H604" stroke="#5a606c" stroke-width="0.4"/>
<path d="M602.6 51.5H604" stroke="#5a606c" stroke-width="0.4"/>
<path d="M602.6 54.3H604" stroke="#5a606c" stroke-width="0.4"/>
<path d="M601.4 57.1H604" stroke="#5a606c" stroke-width="0.4"/>
<path d="M602.6 59.9H604" stroke="#5a606c" stroke-width="0.4"/>
<path d="M602.6 62.7H604" stroke="#5a606c" stroke-width="0.4"/>
<path d="M602.6 65.5H604" stroke="#5a606c" stroke-width="0.4"/>
<path d="M602.6 68.3H604" stroke="#5a606c" stroke-width="0.4"/>
<path d="M601.4 71.1H604" stroke="#5a606c" stroke-width="0.4"/>
<path d="M602.6 73.9H604" stroke="#5a606c" stroke-width="0.4"/>
<path d="M602.6 76.7H604" stroke="#5a606c" stroke-width="0.4"/>
<rect x="596.2" y="31.1" width="1.6" height="2.2" fill="#6a707c" opacity="0.7"/>
<rect x="596.2" y="41.6" width="1.6" height="2.2" fill="#6a707c" opacity="0.7"/>
<rect x="596.2" y="52.1" width="1.6" height="2.2" fill="#6a707c" opacity="0.7"/>
<rect x="596.2" y="62.6" width="1.6" height="2.2" fill="#6a707c" opacity="0.7"/>
<rect x="596.2" y="73.1" width="1.6" height="2.2" fill="#6a707c" opacity="0.7"/>
<circle cx="499.78" cy="65.83" r="0.53" fill="#e04030" opacity="0.68"/>
<circle cx="504.82" cy="75.04" r="0.26" fill="#e04030" opacity="0.49"/>
<circle cx="513.56" cy="61.1" r="0.57" fill="#e04030" opacity="0.35"/>
<circle cx="493.17" cy="40.58" r="0.44" fill="#e04030" opacity="0.53"/>
<circle cx="473.56" cy="39.05" r="0.35" fill="#e04030" opacity="0.67"/>
<circle cx="505.93" cy="36.14" r="0.53" fill="#e04030" opacity="0.36"/>
<circle cx="499.55" cy="34.46" r="0.25" fill="#e04030" opacity="0.65"/>
<circle cx="482.01" cy="38.99" r="0.59" fill="#e04030" opacity="0.65"/>
<circle cx="485.44" cy="77.04" r="0.44" fill="#e04030" opacity="0.57"/>
<circle cx="481.81" cy="75.99" r="0.49" fill="#e04030" opacity="0.69"/>
<circle cx="511.43" cy="43.24" r="0.38" fill="#e04030" opacity="0.37"/>
<circle cx="479.27" cy="31.32" r="0.36" fill="#e04030" opacity="0.54"/>
<circle cx="473.15" cy="62.57" r="0.37" fill="#e04030" opacity="0.42"/>
<circle cx="508.2" cy="52.52" r="0.36" fill="#e04030" opacity="0.49"/>
<circle cx="503.3" cy="30.91" r="0.59" fill="#e04030" opacity="0.31"/>
<circle cx="505.24" cy="71.09" r="0.26" fill="#e04030" opacity="0.62"/>
<circle cx="488.75" cy="57.5" r="0.25" fill="#e04030" opacity="0.32"/>
<circle cx="480.78" cy="76.71" r="0.32" fill="#e04030" opacity="0.6"/>
<circle cx="512.98" cy="76.04" r="0.37" fill="#e04030" opacity="0.44"/>
<circle cx="495.56" cy="67.56" r="0.29" fill="#e04030" opacity="0.6"/>
<circle cx="507.28" cy="71.84" r="0.26" fill="#e04030" opacity="0.68"/>
<circle cx="476.92" cy="45.38" r="0.46" fill="#e04030" opacity="0.67"/>
<circle cx="487.62" cy="75.13" r="0.44" fill="#e04030" opacity="0.42"/>
<circle cx="486.62" cy="37.05" r="0.28" fill="#e04030" opacity="0.36"/>
<circle cx="502.63" cy="78.83" r="0.31" fill="#e04030" opacity="0.32"/>
<circle cx="515.43" cy="55.21" r="0.39" fill="#e04030" opacity="0.39"/>
<circle cx="498.54" cy="70.14" r="0.41" fill="#e04030" opacity="0.47"/>
<circle cx="475.4" cy="74.72" r="0.26" fill="#e04030" opacity="0.5"/>
<circle cx="509.05" cy="34.66" r="0.51" fill="#e04030" opacity="0.68"/>
<circle cx="500.11" cy="68.19" r="0.29" fill="#e04030" opacity="0.47"/>
<circle cx="479.42" cy="71.08" r="0.35" fill="#e04030" opacity="0.48"/>
<circle cx="515.97" cy="71.46" r="0.59" fill="#e04030" opacity="0.48"/>
<circle cx="493.99" cy="65.2" r="0.42" fill="#e04030" opacity="0.42"/>
<circle cx="490.36" cy="35.47" r="0.38" fill="#e04030" opacity="0.7"/>
<circle cx="514.27" cy="59.98" r="0.42" fill="#e04030" opacity="0.44"/>
<circle cx="476.83" cy="41.89" r="0.52" fill="#e04030" opacity="0.65"/>
<circle cx="488.54" cy="68.09" r="0.52" fill="#e04030" opacity="0.58"/>
<circle cx="501.55" cy="66.74" r="0.38" fill="#e04030" opacity="0.58"/>
<circle cx="485.08" cy="52.77" r="0.52" fill="#e04030" opacity="0.58"/>
<circle cx="485.64" cy="76.22" r="0.48" fill="#e04030" opacity="0.53"/>
<circle cx="473.5" cy="55.9" r="0.34" fill="#e04030" opacity="0.57"/>
<circle cx="492.91" cy="69.65" r="0.48" fill="#e04030" opacity="0.62"/>
<circle cx="487.96" cy="60.85" r="0.51" fill="#e04030" opacity="0.63"/>
<circle cx="488.05" cy="70.99" r="0.55" fill="#e04030" opacity="0.58"/>
<circle cx="514.97" cy="76.78" r="0.43" fill="#e04030" opacity="0.51"/>
<circle cx="480.15" cy="70.67" r="0.58" fill="#e04030" opacity="0.49"/>
<circle cx="502.73" cy="64.7" r="0.51" fill="#e04030" opacity="0.37"/>
<circle cx="506.56" cy="57.62" r="0.48" fill="#e04030" opacity="0.47"/>
<circle cx="499.82" cy="67.51" r="0.47" fill="#e04030" opacity="0.59"/>
<circle cx="474.19" cy="36.16" r="0.4" fill="#e04030" opacity="0.56"/>
<circle cx="482.42" cy="62.98" r="0.47" fill="#e04030" opacity="0.32"/>
<circle cx="493.28" cy="39.54" r="0.27" fill="#e04030" opacity="0.35"/>
<circle cx="486.65" cy="37.26" r="0.32" fill="#e04030" opacity="0.31"/>
<circle cx="493.01" cy="47.4" r="0.46" fill="#e04030" opacity="0.54"/>
<circle cx="483.23" cy="74.06" r="0.25" fill="#e04030" opacity="0.46"/>
<circle cx="484.98" cy="48.91" r="0.29" fill="#e04030" opacity="0.63"/>
<circle cx="489.08" cy="29.84" r="0.46" fill="#e04030" opacity="0.34"/>
<circle cx="496.44" cy="45.31" r="0.45" fill="#e04030" opacity="0.68"/>
<circle cx="508.2" cy="49.37" r="0.53" fill="#e04030" opacity="0.56"/>
<circle cx="488.89" cy="35.25" r="0.46" fill="#e04030" opacity="0.53"/>
<circle cx="514.16" cy="77.37" r="0.46" fill="#e04030" opacity="0.44"/>
<circle cx="511.42" cy="28.05" r="0.29" fill="#e04030" opacity="0.53"/>
<circle cx="499.45" cy="35.18" r="0.47" fill="#e04030" opacity="0.66"/>
<circle cx="489.16" cy="50.02" r="0.33" fill="#e04030" opacity="0.42"/>
<circle cx="514.82" cy="47.37" r="0.59" fill="#e04030" opacity="0.67"/>
<circle cx="498.62" cy="41.25" r="0.59" fill="#e04030" opacity="0.5"/>
<circle cx="490.87" cy="44.28" r="0.59" fill="#e04030" opacity="0.5"/>
<circle cx="485.32" cy="52.32" r="0.29" fill="#e04030" opacity="0.55"/>
<circle cx="492.07" cy="42.95" r="0.52" fill="#e04030" opacity="0.63"/>
<circle cx="473.57" cy="55.16" r="0.35" fill="#e04030" opacity="0.67"/>
<circle cx="506.62" cy="40.53" r="0.34" fill="#e04030" opacity="0.36"/>
<circle cx="515.52" cy="42.95" r="0.46" fill="#e04030" opacity="0.49"/>
<circle cx="500.73" cy="58.8" r="0.51" fill="#e04030" opacity="0.35"/>
<circle cx="505.7" cy="43.34" r="0.44" fill="#e04030" opacity="0.43"/>
<circle cx="485.76" cy="55.02" r="0.41" fill="#e04030" opacity="0.44"/>
<circle cx="505.04" cy="58.13" r="0.26" fill="#e04030" opacity="0.4"/>
<circle cx="492.59" cy="74.75" r="0.56" fill="#e04030" opacity="0.52"/>
<circle cx="473.63" cy="67.7" r="0.4" fill="#e04030" opacity="0.53"/>
<circle cx="503.45" cy="60.24" r="0.42" fill="#e04030" opacity="0.66"/>
<circle cx="489.58" cy="47.99" r="0.55" fill="#e04030" opacity="0.38"/>
<circle cx="485.75" cy="70.33" r="0.27" fill="#e04030" opacity="0.63"/>
<circle cx="502.87" cy="50.07" r="0.35" fill="#e04030" opacity="0.61"/>
<circle cx="512.16" cy="35.28" r="0.42" fill="#e04030" opacity="0.52"/>
<circle cx="494.4" cy="44.87" r="0.3" fill="#e04030" opacity="0.53"/>
<circle cx="507.91" cy="31.49" r="0.33" fill="#e04030" opacity="0.63"/>
<circle cx="507.05" cy="61.84" r="0.26" fill="#e04030" opacity="0.59"/>
<circle cx="515.08" cy="78.92" r="0.5" fill="#e04030" opacity="0.32"/>
<circle cx="509.21" cy="39.18" r="0.48" fill="#e04030" opacity="0.68"/>
<circle cx="503.64" cy="34.87" r="0.35" fill="#e04030" opacity="0.67"/>
<circle cx="479.44" cy="59.14" r="0.39" fill="#e04030" opacity="0.36"/>
<circle cx="499.76" cy="30.22" r="0.29" fill="#e04030" opacity="0.45"/>
<circle cx="476.1" cy="30.94" r="0.45" fill="#e04030" opacity="0.6"/>
<circle cx="510.77" cy="34.85" r="0.4" fill="#e04030" opacity="0.43"/>
<circle cx="498.81" cy="52.97" r="0.58" fill="#e04030" opacity="0.45"/>
<circle cx="475.4" cy="63.56" r="0.3" fill="#e04030" opacity="0.55"/>
<circle cx="494.75" cy="74.43" r="0.44" fill="#e04030" opacity="0.55"/>
<circle cx="484.32" cy="56.14" r="0.34" fill="#e04030" opacity="0.6"/>
<circle cx="495.23" cy="34.82" r="0.33" fill="#e04030" opacity="0.45"/>
<circle cx="504.68" cy="37.15" r="0.5" fill="#e04030" opacity="0.56"/>
<circle cx="476.67" cy="62.07" r="0.28" fill="#e04030" opacity="0.35"/>
<circle cx="498.54" cy="40.17" r="0.56" fill="#e04030" opacity="0.49"/>
<circle cx="486.9" cy="68.62" r="0.26" fill="#e04030" opacity="0.59"/>
<circle cx="475.31" cy="35.69" r="0.58" fill="#e04030" opacity="0.57"/>
<circle cx="482.59" cy="33.92" r="0.59" fill="#e04030" opacity="0.57"/>
<circle cx="508.29" cy="35.13" r="0.47" fill="#e04030" opacity="0.44"/>
<circle cx="483.11" cy="45" r="0.46" fill="#e04030" opacity="0.44"/>
<circle cx="489.59" cy="34.96" r="0.54" fill="#e04030" opacity="0.56"/>
<circle cx="507.59" cy="50.1" r="0.55" fill="#e04030" opacity="0.51"/>
<circle cx="498.48" cy="57.24" r="0.51" fill="#e04030" opacity="0.46"/>
<circle cx="477.17" cy="29.69" r="0.32" fill="#e04030" opacity="0.32"/>
<circle cx="511.24" cy="52.53" r="0.52" fill="#e04030" opacity="0.3"/>
<circle cx="493.22" cy="73.38" r="0.47" fill="#e04030" opacity="0.47"/>
<circle cx="493.02" cy="33.09" r="0.3" fill="#e04030" opacity="0.36"/>
<circle cx="489.11" cy="47.67" r="0.56" fill="#e04030" opacity="0.36"/>
<circle cx="483.92" cy="42.15" r="0.31" fill="#e04030" opacity="0.41"/>
<circle cx="483.11" cy="52.58" r="0.26" fill="#e04030" opacity="0.67"/>
<circle cx="488.87" cy="75.84" r="0.49" fill="#e04030" opacity="0.57"/>
<circle cx="493.28" cy="76.22" r="0.29" fill="#e04030" opacity="0.57"/>
<circle cx="485.52" cy="62.4" r="0.51" fill="#e04030" opacity="0.37"/>
<circle cx="481.64" cy="29.27" r="0.33" fill="#e04030" opacity="0.33"/>
<circle cx="490.25" cy="77.65" r="0.38" fill="#e04030" opacity="0.42"/>
<circle cx="493.13" cy="42.44" r="0.51" fill="#e04030" opacity="0.59"/>
<circle cx="480.02" cy="40.27" r="0.49" fill="#e04030" opacity="0.68"/>
<circle cx="500.77" cy="49.96" r="0.59" fill="#e04030" opacity="0.3"/>
<circle cx="475.62" cy="67.74" r="0.39" fill="#e04030" opacity="0.32"/>
<circle cx="496.58" cy="78.47" r="0.43" fill="#e04030" opacity="0.44"/>
<circle cx="477.03" cy="31.63" r="0.56" fill="#e04030" opacity="0.5"/>
<circle cx="513.24" cy="30.74" r="0.34" fill="#e04030" opacity="0.32"/>
<circle cx="490.08" cy="31.07" r="0.34" fill="#e04030" opacity="0.46"/>
<circle cx="486.16" cy="30.62" r="0.26" fill="#e04030" opacity="0.69"/>
<circle cx="480.71" cy="53.94" r="0.39" fill="#e04030" opacity="0.51"/>
<circle cx="476.63" cy="44.01" r="0.29" fill="#e04030" opacity="0.52"/>
<circle cx="512.62" cy="58.51" r="0.55" fill="#e04030" opacity="0.39"/>
<circle cx="473.75" cy="55.52" r="0.42" fill="#e04030" opacity="0.53"/>
<circle cx="489.2" cy="59.88" r="0.5" fill="#e04030" opacity="0.67"/>
<circle cx="486.23" cy="50.9" r="0.54" fill="#e04030" opacity="0.39"/>
<circle cx="477.97" cy="43.9" r="0.28" fill="#e04030" opacity="0.61"/>
<circle cx="508.24" cy="43.96" r="0.3" fill="#e04030" opacity="0.33"/>
<circle cx="483.53" cy="32.3" r="0.4" fill="#e04030" opacity="0.53"/>
<circle cx="483.55" cy="31.13" r="0.5" fill="#e04030" opacity="0.32"/>
<circle cx="413.79" cy="64.01" r="0.38" fill="#e04030" opacity="0.34"/>
<circle cx="423.51" cy="64.59" r="0.51" fill="#e04030" opacity="0.52"/>
<circle cx="444.43" cy="71.74" r="0.52" fill="#e04030" opacity="0.53"/>
<circle cx="424.46" cy="75.15" r="0.48" fill="#e04030" opacity="0.68"/>
<circle cx="437.03" cy="72.72" r="0.34" fill="#e04030" opacity="0.62"/>
<circle cx="421.83" cy="60.74" r="0.27" fill="#e04030" opacity="0.37"/>
<circle cx="416.55" cy="72.19" r="0.35" fill="#e04030" opacity="0.33"/>
<circle cx="438.61" cy="69.7" r="0.26" fill="#e04030" opacity="0.32"/>
<circle cx="410.73" cy="65.5" r="0.55" fill="#e04030" opacity="0.68"/>
<circle cx="431.93" cy="62.85" r="0.4" fill="#e04030" opacity="0.44"/>
<circle cx="419.54" cy="58.26" r="0.45" fill="#e04030" opacity="0.63"/>
<circle cx="436.98" cy="60" r="0.44" fill="#e04030" opacity="0.37"/>
<circle cx="436.22" cy="67.37" r="0.58" fill="#e04030" opacity="0.62"/>
<circle cx="410.2" cy="64.66" r="0.57" fill="#e04030" opacity="0.48"/>
<circle cx="424.1" cy="67.27" r="0.52" fill="#e04030" opacity="0.67"/>
<circle cx="428.43" cy="78.36" r="0.46" fill="#e04030" opacity="0.34"/>
<circle cx="440.83" cy="66.81" r="0.27" fill="#e04030" opacity="0.69"/>
<circle cx="406.45" cy="70.12" r="0.42" fill="#e04030" opacity="0.65"/>
<circle cx="422.28" cy="62.53" r="0.35" fill="#e04030" opacity="0.38"/>
<circle cx="429.75" cy="65.5" r="0.51" fill="#e04030" opacity="0.4"/>
<circle cx="420.48" cy="63.21" r="0.59" fill="#e04030" opacity="0.64"/>
<circle cx="442.39" cy="70.98" r="0.39" fill="#e04030" opacity="0.36"/>
<circle cx="441.59" cy="68.29" r="0.26" fill="#e04030" opacity="0.37"/>
<circle cx="409.34" cy="73.07" r="0.57" fill="#e04030" opacity="0.38"/>
<circle cx="440.07" cy="64.81" r="0.49" fill="#e04030" opacity="0.65"/>
<circle cx="432.42" cy="74.81" r="0.38" fill="#e04030" opacity="0.3"/>
<circle cx="427.52" cy="70.32" r="0.31" fill="#e04030" opacity="0.46"/>
<circle cx="418.96" cy="58.57" r="0.36" fill="#e04030" opacity="0.45"/>
<circle cx="425.95" cy="72.77" r="0.39" fill="#e04030" opacity="0.69"/>
<circle cx="440.88" cy="77.4" r="0.49" fill="#e04030" opacity="0.57"/>
<circle cx="428.62" cy="74.77" r="0.38" fill="#e04030" opacity="0.54"/>
<circle cx="434.9" cy="68.97" r="0.35" fill="#e04030" opacity="0.33"/>
<circle cx="408.84" cy="65.47" r="0.45" fill="#e04030" opacity="0.6"/>
<circle cx="436.44" cy="64.44" r="0.58" fill="#e04030" opacity="0.41"/>
<circle cx="436.51" cy="59.51" r="0.51" fill="#e04030" opacity="0.57"/>
<circle cx="447.1" cy="76.84" r="0.49" fill="#e04030" opacity="0.64"/>
<circle cx="437.5" cy="70.83" r="0.32" fill="#e04030" opacity="0.51"/>
<circle cx="444.43" cy="63.02" r="0.59" fill="#e04030" opacity="0.52"/>
<circle cx="422.31" cy="58.06" r="0.39" fill="#e04030" opacity="0.37"/>
<circle cx="433.74" cy="76.89" r="0.57" fill="#e04030" opacity="0.55"/>
<circle cx="422.01" cy="60.29" r="0.49" fill="#e04030" opacity="0.52"/>
<circle cx="436.47" cy="65.85" r="0.56" fill="#e04030" opacity="0.39"/>
<circle cx="418.45" cy="63.62" r="0.47" fill="#e04030" opacity="0.66"/>
<circle cx="412.37" cy="71.29" r="0.52" fill="#e04030" opacity="0.39"/>
<circle cx="407.76" cy="69.88" r="0.54" fill="#e04030" opacity="0.65"/>
<circle cx="637.31" cy="69.09" r="0.4" fill="#e04030" opacity="0.51"/>
<circle cx="644.9" cy="67.14" r="0.35" fill="#e04030" opacity="0.54"/>
<circle cx="647.56" cy="65.18" r="0.26" fill="#e04030" opacity="0.35"/>
<circle cx="630.19" cy="72.26" r="0.31" fill="#e04030" opacity="0.38"/>
<circle cx="631.56" cy="72.99" r="0.49" fill="#e04030" opacity="0.59"/>
<circle cx="608.64" cy="70.24" r="0.54" fill="#e04030" opacity="0.68"/>
<circle cx="619.69" cy="76.46" r="0.48" fill="#e04030" opacity="0.67"/>
<circle cx="615.85" cy="73.85" r="0.54" fill="#e04030" opacity="0.49"/>
<circle cx="610.33" cy="65.29" r="0.3" fill="#e04030" opacity="0.34"/>
<circle cx="612.53" cy="72.47" r="0.29" fill="#e04030" opacity="0.6"/>
<circle cx="637.66" cy="75.88" r="0.53" fill="#e04030" opacity="0.59"/>
<circle cx="645.74" cy="78.27" r="0.47" fill="#e04030" opacity="0.69"/>
<circle cx="610.44" cy="63.75" r="0.27" fill="#e04030" opacity="0.38"/>
<circle cx="622.1" cy="69.8" r="0.49" fill="#e04030" opacity="0.6"/>
<circle cx="609.6" cy="68.86" r="0.44" fill="#e04030" opacity="0.45"/>
<circle cx="611.05" cy="72.15" r="0.38" fill="#e04030" opacity="0.57"/>
<circle cx="627.31" cy="78.37" r="0.58" fill="#e04030" opacity="0.33"/>
<circle cx="638.67" cy="74.26" r="0.35" fill="#e04030" opacity="0.35"/>
<circle cx="626.6" cy="68.02" r="0.51" fill="#e04030" opacity="0.67"/>
<circle cx="622.43" cy="66.94" r="0.42" fill="#e04030" opacity="0.58"/>
<circle cx="639.93" cy="71.79" r="0.35" fill="#e04030" opacity="0.43"/>
<circle cx="642.46" cy="70.83" r="0.27" fill="#e04030" opacity="0.47"/>
<circle cx="616.23" cy="73.33" r="0.28" fill="#e04030" opacity="0.41"/>
<circle cx="610.13" cy="70.12" r="0.59" fill="#e04030" opacity="0.52"/>
<circle cx="622.61" cy="77.88" r="0.28" fill="#e04030" opacity="0.44"/>
<circle cx="640.86" cy="62.09" r="0.52" fill="#e04030" opacity="0.44"/>
<circle cx="606.71" cy="66.26" r="0.41" fill="#e04030" opacity="0.45"/>
<circle cx="628.22" cy="62.9" r="0.33" fill="#e04030" opacity="0.69"/>
<circle cx="625.03" cy="70.02" r="0.28" fill="#e04030" opacity="0.41"/>
<circle cx="647.05" cy="73.68" r="0.43" fill="#e04030" opacity="0.32"/>
<circle cx="490.08" cy="68.21" r="0.9" fill="none" stroke="#f0a098" stroke-width="0.35" opacity="0.64"/>
<circle cx="512.25" cy="61.24" r="1.05" fill="none" stroke="#f0a098" stroke-width="0.35" opacity="0.41"/>
<circle cx="474.04" cy="67.75" r="0.89" fill="none" stroke="#f0a098" stroke-width="0.35" opacity="0.75"/>
<circle cx="508.92" cy="75.37" r="0.86" fill="none" stroke="#f0a098" stroke-width="0.35" opacity="0.8"/>
<circle cx="505.9" cy="74.14" r="0.7" fill="none" stroke="#f0a098" stroke-width="0.35" opacity="0.71"/>
<circle cx="491.36" cy="78.34" r="1.3" fill="none" stroke="#f0a098" stroke-width="0.35" opacity="0.49"/>
<circle cx="491.33" cy="41.67" r="0.93" fill="none" stroke="#f0a098" stroke-width="0.35" opacity="0.51"/>
<circle cx="501.99" cy="33.95" r="0.72" fill="none" stroke="#f0a098" stroke-width="0.35" opacity="0.58"/>
<circle cx="476.21" cy="47.44" r="1.23" fill="none" stroke="#f0a098" stroke-width="0.35" opacity="0.75"/>
<circle cx="481.55" cy="28.47" r="1.18" fill="none" stroke="#f0a098" stroke-width="0.35" opacity="0.78"/>
<circle cx="499.05" cy="34.63" r="0.77" fill="none" stroke="#f0a098" stroke-width="0.35" opacity="0.77"/>
<circle cx="513.78" cy="29.13" r="0.73" fill="none" stroke="#f0a098" stroke-width="0.35" opacity="0.57"/>
<circle cx="484.6" cy="66.93" r="0.86" fill="none" stroke="#f0a098" stroke-width="0.35" opacity="0.71"/>
<circle cx="479.61" cy="54.61" r="1.28" fill="none" stroke="#f0a098" stroke-width="0.35" opacity="0.68"/>
<circle cx="476.92" cy="33.3" r="1.05" fill="none" stroke="#f0a098" stroke-width="0.35" opacity="0.55"/>
<circle cx="489.04" cy="52.48" r="1.01" fill="none" stroke="#f0a098" stroke-width="0.35" opacity="0.79"/>
<circle cx="483.48" cy="57.24" r="0.78" fill="none" stroke="#f0a098" stroke-width="0.35" opacity="0.62"/>
<circle cx="504.82" cy="34.49" r="0.94" fill="none" stroke="#f0a098" stroke-width="0.35" opacity="0.68"/>
<circle cx="473.35" cy="67.83" r="0.89" fill="none" stroke="#f0a098" stroke-width="0.35" opacity="0.6"/>
<circle cx="499.56" cy="68.97" r="0.64" fill="none" stroke="#f0a098" stroke-width="0.35" opacity="0.6"/>
<circle cx="474.67" cy="47.66" r="0.84" fill="none" stroke="#f0a098" stroke-width="0.35" opacity="0.41"/>
<circle cx="485.95" cy="51.04" r="1.06" fill="none" stroke="#f0a098" stroke-width="0.35" opacity="0.77"/>
<circle cx="489.11" cy="55.22" r="1.1" fill="none" stroke="#f0a098" stroke-width="0.35" opacity="0.77"/>
<circle cx="514.31" cy="79.17" r="0.81" fill="none" stroke="#f0a098" stroke-width="0.35" opacity="0.47"/>
<circle cx="513.54" cy="31.55" r="0.91" fill="none" stroke="#f0a098" stroke-width="0.35" opacity="0.69"/>
<circle cx="496" cy="47.83" r="1.25" fill="none" stroke="#f0a098" stroke-width="0.35" opacity="0.52"/>
<circle cx="497" cy="70.89" r="0.7" fill="none" stroke="#f0a098" stroke-width="0.35" opacity="0.54"/>
<circle cx="494.5" cy="57.1" r="0.75" fill="none" stroke="#f0a098" stroke-width="0.35" opacity="0.58"/>
<circle cx="475.6" cy="32.1" r="0.84" fill="none" stroke="#f0a098" stroke-width="0.35" opacity="0.46"/>
<circle cx="515.09" cy="41.27" r="0.79" fill="none" stroke="#f0a098" stroke-width="0.35" opacity="0.71"/>
<circle cx="505.24" cy="41.21" r="1.18" fill="none" stroke="#f0a098" stroke-width="0.35" opacity="0.65"/>
<circle cx="489.9" cy="60.39" r="0.77" fill="none" stroke="#f0a098" stroke-width="0.35" opacity="0.51"/>
<circle cx="511.13" cy="50.44" r="1.23" fill="none" stroke="#f0a098" stroke-width="0.35" opacity="0.47"/>
<circle cx="478.97" cy="30.22" r="1.12" fill="none" stroke="#f0a098" stroke-width="0.35" opacity="0.62"/>
<circle cx="473.42" cy="29.76" r="1.18" fill="none" stroke="#f0a098" stroke-width="0.35" opacity="0.6"/>
<circle cx="510.9" cy="29.58" r="1.01" fill="none" stroke="#f0a098" stroke-width="0.35" opacity="0.45"/>
<circle cx="504.37" cy="59.47" r="1.03" fill="none" stroke="#f0a098" stroke-width="0.35" opacity="0.49"/>
<circle cx="514.28" cy="33.31" r="0.64" fill="none" stroke="#f0a098" stroke-width="0.35" opacity="0.67"/>
<circle cx="477.04" cy="31" r="0.92" fill="none" stroke="#f0a098" stroke-width="0.35" opacity="0.66"/>
<circle cx="511.81" cy="65.2" r="0.65" fill="none" stroke="#f0a098" stroke-width="0.35" opacity="0.66"/>
<circle cx="509.7" cy="33.8" r="1.13" fill="none" stroke="#f0a098" stroke-width="0.35" opacity="0.5"/>
<circle cx="485.99" cy="27.58" r="1.13" fill="none" stroke="#f0a098" stroke-width="0.35" opacity="0.61"/>
<circle cx="512.24" cy="51.85" r="0.71" fill="none" stroke="#f0a098" stroke-width="0.35" opacity="0.49"/>
<circle cx="484.46" cy="77.02" r="0.74" fill="none" stroke="#f0a098" stroke-width="0.35" opacity="0.44"/>
<circle cx="488.34" cy="31.64" r="0.9" fill="none" stroke="#f0a098" stroke-width="0.35" opacity="0.65"/>
<circle cx="501.3" cy="36.64" r="0.7" fill="none" stroke="#f0a098" stroke-width="0.35" opacity="0.6"/>
<circle cx="502.89" cy="50.89" r="1" fill="none" stroke="#f0a098" stroke-width="0.35" opacity="0.76"/>
<circle cx="479.31" cy="41.51" r="0.95" fill="none" stroke="#f0a098" stroke-width="0.35" opacity="0.61"/>
<circle cx="512.16" cy="56.54" r="1.06" fill="none" stroke="#f0a098" stroke-width="0.35" opacity="0.57"/>
<circle cx="507.12" cy="71.22" r="0.81" fill="none" stroke="#f0a098" stroke-width="0.35" opacity="0.44"/>
<circle cx="484.28" cy="46.2" r="1.22" fill="none" stroke="#f0a098" stroke-width="0.35" opacity="0.51"/>
<circle cx="500.38" cy="61" r="1.27" fill="none" stroke="#f0a098" stroke-width="0.35" opacity="0.45"/>
<circle cx="506.49" cy="45.09" r="0.67" fill="none" stroke="#f0a098" stroke-width="0.35" opacity="0.65"/>
<circle cx="509.73" cy="57.96" r="0.63" fill="none" stroke="#f0a098" stroke-width="0.35" opacity="0.79"/>
<circle cx="489.71" cy="60.78" r="1.11" fill="none" stroke="#f0a098" stroke-width="0.35" opacity="0.5"/>
<circle cx="490.76" cy="44.72" r="0.67" fill="none" stroke="#f0a098" stroke-width="0.35" opacity="0.43"/>
<circle cx="504.18" cy="48.97" r="1.21" fill="none" stroke="#f0a098" stroke-width="0.35" opacity="0.43"/>
<circle cx="486.11" cy="36.92" r="1.26" fill="none" stroke="#f0a098" stroke-width="0.35" opacity="0.72"/>
<circle cx="511.99" cy="53.98" r="0.67" fill="none" stroke="#f0a098" stroke-width="0.35" opacity="0.57"/>
<circle cx="482.84" cy="28.91" r="1" fill="none" stroke="#f0a098" stroke-width="0.35" opacity="0.52"/>
<circle cx="477.69" cy="54.25" r="1.25" fill="none" stroke="#f0a098" stroke-width="0.35" opacity="0.78"/>
<circle cx="493.28" cy="32.87" r="1.14" fill="none" stroke="#f0a098" stroke-width="0.35" opacity="0.45"/>
<circle cx="496.38" cy="31.88" r="1.29" fill="none" stroke="#f0a098" stroke-width="0.35" opacity="0.62"/>
<circle cx="492.03" cy="41.74" r="0.99" fill="none" stroke="#f0a098" stroke-width="0.35" opacity="0.79"/>
<circle cx="491.61" cy="38.44" r="0.96" fill="none" stroke="#f0a098" stroke-width="0.35" opacity="0.77"/>
<circle cx="489.61" cy="60.65" r="1.24" fill="none" stroke="#f0a098" stroke-width="0.35" opacity="0.53"/>
<circle cx="508.27" cy="55.17" r="0.7" fill="none" stroke="#f0a098" stroke-width="0.35" opacity="0.42"/>
<circle cx="513.85" cy="51.87" r="0.91" fill="none" stroke="#f0a098" stroke-width="0.35" opacity="0.77"/>
<circle cx="497.97" cy="53.66" r="0.8" fill="none" stroke="#f0a098" stroke-width="0.35" opacity="0.7"/>
<circle cx="484.15" cy="52.11" r="1.13" fill="none" stroke="#f0a098" stroke-width="0.35" opacity="0.64"/>
<circle cx="478.84" cy="38.1" r="1.09" fill="none" stroke="#f0a098" stroke-width="0.35" opacity="0.69"/>
<circle cx="477.46" cy="79.67" r="0.69" fill="none" stroke="#f0a098" stroke-width="0.35" opacity="0.47"/>
<circle cx="476.9" cy="50.85" r="1.03" fill="none" stroke="#f0a098" stroke-width="0.35" opacity="0.74"/>
<circle cx="480.1" cy="64.04" r="0.67" fill="none" stroke="#f0a098" stroke-width="0.35" opacity="0.63"/>
<circle cx="483.96" cy="46.13" r="0.64" fill="none" stroke="#f0a098" stroke-width="0.35" opacity="0.69"/>
<circle cx="478.32" cy="67.47" r="0.84" fill="none" stroke="#f0a098" stroke-width="0.35" opacity="0.64"/>
<circle cx="500.8" cy="53.06" r="1.21" fill="none" stroke="#f0a098" stroke-width="0.35" opacity="0.77"/>
<circle cx="485.27" cy="44.96" r="1.21" fill="none" stroke="#f0a098" stroke-width="0.35" opacity="0.45"/>
<circle cx="491.27" cy="49.19" r="1.28" fill="none" stroke="#f0a098" stroke-width="0.35" opacity="0.45"/>
<circle cx="501.5" cy="67.09" r="1.11" fill="none" stroke="#f0a098" stroke-width="0.35" opacity="0.4"/>
<circle cx="514.05" cy="43.84" r="1.2" fill="none" stroke="#f0a098" stroke-width="0.35" opacity="0.66"/>
<circle cx="491.31" cy="71.31" r="1.07" fill="none" stroke="#f0a098" stroke-width="0.35" opacity="0.54"/>
<circle cx="504.83" cy="53.92" r="1.1" fill="none" stroke="#f0a098" stroke-width="0.35" opacity="0.65"/>
<circle cx="507.63" cy="35.83" r="0.95" fill="none" stroke="#f0a098" stroke-width="0.35" opacity="0.4"/>
<circle cx="507.4" cy="67.85" r="1.19" fill="none" stroke="#f0a098" stroke-width="0.35" opacity="0.42"/>
<circle cx="496.28" cy="52.53" r="0.68" fill="none" stroke="#f0a098" stroke-width="0.35" opacity="0.48"/>
<circle cx="515.38" cy="72.09" r="0.77" fill="none" stroke="#f0a098" stroke-width="0.35" opacity="0.73"/>
<circle cx="501.32" cy="47.63" r="1.05" fill="none" stroke="#f0a098" stroke-width="0.35" opacity="0.49"/>
<circle cx="484.91" cy="28.03" r="1.06" fill="none" stroke="#f0a098" stroke-width="0.35" opacity="0.63"/>
<circle cx="505.34" cy="53.85" r="0.9" fill="none" stroke="#f0a098" stroke-width="0.35" opacity="0.52"/>
<circle cx="504.99" cy="47" r="1.02" fill="none" stroke="#f0a098" stroke-width="0.35" opacity="0.7"/>
<circle cx="492.34" cy="63.39" r="0.64" fill="none" stroke="#f0a098" stroke-width="0.35" opacity="0.5"/>
<circle cx="509.57" cy="35.21" r="0.64" fill="none" stroke="#f0a098" stroke-width="0.35" opacity="0.41"/>
<circle cx="506.33" cy="33.06" r="0.92" fill="none" stroke="#f0a098" stroke-width="0.35" opacity="0.58"/>
<circle cx="507.93" cy="52.43" r="0.97" fill="none" stroke="#f0a098" stroke-width="0.35" opacity="0.41"/>
<circle cx="507.59" cy="67.63" r="1.04" fill="none" stroke="#f0a098" stroke-width="0.35" opacity="0.73"/>
<circle cx="499.71" cy="64.95" r="1.2" fill="none" stroke="#f0a098" stroke-width="0.35" opacity="0.65"/>
<circle cx="473.88" cy="73.76" r="1.29" fill="none" stroke="#f0a098" stroke-width="0.35" opacity="0.48"/>
<circle cx="475.87" cy="45.28" r="0.67" fill="none" stroke="#f0a098" stroke-width="0.35" opacity="0.55"/>
<circle cx="476.88" cy="39.02" r="0.6" fill="none" stroke="#f0a098" stroke-width="0.35" opacity="0.57"/>
<circle cx="486.05" cy="65.62" r="0.87" fill="none" stroke="#f0a098" stroke-width="0.35" opacity="0.47"/>
<circle cx="514.47" cy="74.28" r="1.08" fill="none" stroke="#f0a098" stroke-width="0.35" opacity="0.49"/>
<circle cx="490.51" cy="51.09" r="0.89" fill="none" stroke="#f0a098" stroke-width="0.35" opacity="0.41"/>
<circle cx="492.82" cy="67.65" r="1.09" fill="none" stroke="#f0a098" stroke-width="0.35" opacity="0.74"/>
<circle cx="502.71" cy="67.39" r="1.21" fill="none" stroke="#f0a098" stroke-width="0.35" opacity="0.77"/>
<circle cx="507.5" cy="49.26" r="1.06" fill="none" stroke="#f0a098" stroke-width="0.35" opacity="0.66"/>
<circle cx="511.4" cy="64.82" r="0.91" fill="none" stroke="#f0a098" stroke-width="0.35" opacity="0.48"/>
<circle cx="487.24" cy="40.59" r="1.08" fill="none" stroke="#f0a098" stroke-width="0.35" opacity="0.71"/>
<circle cx="481.36" cy="55.4" r="1.19" fill="none" stroke="#f0a098" stroke-width="0.35" opacity="0.55"/>
<circle cx="477.12" cy="59.17" r="0.85" fill="none" stroke="#f0a098" stroke-width="0.35" opacity="0.46"/>
<circle cx="485.53" cy="27.86" r="0.7" fill="none" stroke="#f0a098" stroke-width="0.35" opacity="0.57"/>
<circle cx="477.56" cy="27.81" r="0.98" fill="none" stroke="#f0a098" stroke-width="0.35" opacity="0.78"/>
<circle cx="509.28" cy="44.56" r="1.25" fill="none" stroke="#f0a098" stroke-width="0.35" opacity="0.43"/>
<circle cx="479.54" cy="27.86" r="0.64" fill="none" stroke="#f0a098" stroke-width="0.35" opacity="0.64"/>
<circle cx="505.93" cy="52.48" r="1.16" fill="none" stroke="#f0a098" stroke-width="0.35" opacity="0.58"/>
<circle cx="512.96" cy="59.3" r="0.98" fill="none" stroke="#f0a098" stroke-width="0.35" opacity="0.47"/>
<circle cx="491.55" cy="50.53" r="1.18" fill="none" stroke="#f0a098" stroke-width="0.35" opacity="0.49"/>
<circle cx="485.82" cy="70.21" r="0.65" fill="none" stroke="#f0a098" stroke-width="0.35" opacity="0.61"/>
<circle cx="482.55" cy="62.29" r="1.02" fill="none" stroke="#f0a098" stroke-width="0.35" opacity="0.44"/>
<circle cx="504.77" cy="48.8" r="0.82" fill="none" stroke="#f0a098" stroke-width="0.35" opacity="0.74"/>
<circle cx="506.88" cy="43.69" r="1.07" fill="none" stroke="#f0a098" stroke-width="0.35" opacity="0.45"/>
<circle cx="495.57" cy="31.82" r="1.05" fill="none" stroke="#f0a098" stroke-width="0.35" opacity="0.77"/>
<circle cx="500.68" cy="29.63" r="0.96" fill="none" stroke="#f0a098" stroke-width="0.35" opacity="0.59"/>
<circle cx="492.27" cy="35.41" r="0.79" fill="none" stroke="#f0a098" stroke-width="0.35" opacity="0.58"/>
<circle cx="476.09" cy="62.77" r="0.77" fill="none" stroke="#f0a098" stroke-width="0.35" opacity="0.52"/>
<circle cx="476.95" cy="43.33" r="1.25" fill="none" stroke="#f0a098" stroke-width="0.35" opacity="0.52"/>
<circle cx="477.17" cy="45.58" r="1.26" fill="none" stroke="#f0a098" stroke-width="0.35" opacity="0.44"/>
<circle cx="487.9" cy="38.43" r="1.08" fill="none" stroke="#f0a098" stroke-width="0.35" opacity="0.58"/>
<circle cx="477.28" cy="72.6" r="0.83" fill="none" stroke="#f0a098" stroke-width="0.35" opacity="0.67"/>
<circle cx="492.7" cy="73.09" r="0.64" fill="none" stroke="#f0a098" stroke-width="0.35" opacity="0.49"/>
<circle cx="485.42" cy="41.32" r="1.18" fill="none" stroke="#f0a098" stroke-width="0.35" opacity="0.6"/>
<circle cx="488.08" cy="54.01" r="1.19" fill="none" stroke="#f0a098" stroke-width="0.35" opacity="0.63"/>
<circle cx="492.64" cy="61.85" r="1.03" fill="none" stroke="#f0a098" stroke-width="0.35" opacity="0.56"/>
<circle cx="491.54" cy="34.39" r="0.91" fill="none" stroke="#f0a098" stroke-width="0.35" opacity="0.75"/>
<circle cx="486.31" cy="46.6" r="1.02" fill="none" stroke="#f0a098" stroke-width="0.35" opacity="0.64"/>
<circle cx="480.63" cy="50.82" r="1.11" fill="none" stroke="#f0a098" stroke-width="0.35" opacity="0.42"/>
<circle cx="477.73" cy="67.01" r="1.23" fill="none" stroke="#f0a098" stroke-width="0.35" opacity="0.43"/>
<circle cx="476.54" cy="60.27" r="0.8" fill="none" stroke="#f0a098" stroke-width="0.35" opacity="0.66"/>
<circle cx="474.49" cy="51.38" r="0.71" fill="none" stroke="#f0a098" stroke-width="0.35" opacity="0.53"/>
<circle cx="503.17" cy="54.18" r="1.2" fill="none" stroke="#f0a098" stroke-width="0.35" opacity="0.74"/>
<circle cx="499.94" cy="71.82" r="0.72" fill="none" stroke="#f0a098" stroke-width="0.35" opacity="0.59"/>
<circle cx="486.9" cy="60.19" r="0.68" fill="none" stroke="#f0a098" stroke-width="0.35" opacity="0.75"/>
<circle cx="489.12" cy="68.49" r="1.26" fill="none" stroke="#f0a098" stroke-width="0.35" opacity="0.78"/>
<circle cx="489.97" cy="72.32" r="1.3" fill="none" stroke="#f0a098" stroke-width="0.35" opacity="0.45"/>
<circle cx="505.51" cy="65.53" r="0.92" fill="none" stroke="#f0a098" stroke-width="0.35" opacity="0.51"/>
<circle cx="480.54" cy="49.03" r="1.25" fill="none" stroke="#f0a098" stroke-width="0.35" opacity="0.56"/>
<circle cx="484.11" cy="59.9" r="0.91" fill="none" stroke="#f0a098" stroke-width="0.35" opacity="0.65"/>
<circle cx="492.77" cy="42.48" r="0.62" fill="none" stroke="#f0a098" stroke-width="0.35" opacity="0.73"/>
<circle cx="501.67" cy="40.25" r="0.95" fill="none" stroke="#f0a098" stroke-width="0.35" opacity="0.63"/>
<circle cx="494.91" cy="74.62" r="1.15" fill="none" stroke="#f0a098" stroke-width="0.35" opacity="0.52"/>
<circle cx="487.73" cy="59.5" r="0.71" fill="none" stroke="#f0a098" stroke-width="0.35" opacity="0.77"/>
<circle cx="474.98" cy="53.63" r="0.79" fill="none" stroke="#f0a098" stroke-width="0.35" opacity="0.61"/>
<circle cx="474.98" cy="39.23" r="1.29" fill="none" stroke="#f0a098" stroke-width="0.35" opacity="0.72"/>
<circle cx="482.61" cy="51.35" r="0.62" fill="none" stroke="#f0a098" stroke-width="0.35" opacity="0.45"/>
<circle cx="481.34" cy="78.98" r="0.82" fill="none" stroke="#f0a098" stroke-width="0.35" opacity="0.5"/>
<circle cx="475.84" cy="33.25" r="1.3" fill="none" stroke="#f0a098" stroke-width="0.35" opacity="0.7"/>
<circle cx="513.04" cy="71.21" r="1.15" fill="none" stroke="#f0a098" stroke-width="0.35" opacity="0.5"/>
<circle cx="480.36" cy="41.62" r="0.65" fill="none" stroke="#f0a098" stroke-width="0.35" opacity="0.47"/>
<circle cx="504.32" cy="53.18" r="0.61" fill="none" stroke="#f0a098" stroke-width="0.35" opacity="0.52"/>
<circle cx="509.96" cy="72" r="1.11" fill="none" stroke="#f0a098" stroke-width="0.35" opacity="0.69"/>
<defs><radialGradient id="lg0" gradientUnits="userSpaceOnUse" cx="424" cy="46" r="22" fx="421" fy="42"><stop offset="0" stop-color="#bc5e4e"/><stop offset="1" stop-color="#9a3e32"/></radialGradient></defs>
<defs><radialGradient id="lg1" gradientUnits="userSpaceOnUse" cx="492" cy="48" r="21" fx="489" fy="44"><stop offset="0" stop-color="#b85440"/><stop offset="1" stop-color="#94382a"/></radialGradient></defs>
<defs><radialGradient id="lg2" gradientUnits="userSpaceOnUse" cx="560" cy="46" r="22" fx="557" fy="42"><stop offset="0" stop-color="#c4866e"/><stop offset="1" stop-color="#a86a54"/></radialGradient></defs>
<defs><radialGradient id="lg3" gradientUnits="userSpaceOnUse" cx="627" cy="45" r="20" fx="624" fy="41"><stop offset="0" stop-color="#ae5452"/><stop offset="1" stop-color="#8c3838"/></radialGradient></defs>
<path d="M405.6 51C405.68 49.27 405.83 47.53 406.5 45.8C407.17 44.07 408.22 42.17 409.6 40.6C410.98 39.03 413.07 37.35 414.8 36.4C416.53 35.45 418.45 35.42 420 34.9C421.55 34.38 422.55 33.48 424.1 33.3C425.65 33.12 427.82 33.28 429.3 33.8C430.78 34.32 432.03 35.27 433 36.4C433.97 37.53 434.5 39.2 435.1 40.6C435.7 42 435.83 43.77 436.6 44.8C437.37 45.83 438.48 45.77 439.7 46.8C440.92 47.83 442.6 49.62 443.9 51C445.2 52.38 446.82 53.72 447.5 55.1C448.18 56.48 448.25 58.08 448 59.3C447.75 60.52 447.2 61.53 446 62.4C444.8 63.27 442.53 64.07 440.8 64.5C439.07 64.93 437.52 64.83 435.6 65C433.68 65.17 431.03 65.67 429.3 65.5C427.57 65.33 426.75 64.08 425.2 64C423.65 63.92 421.9 65 420 65C418.1 65 415.7 64.78 413.8 64C411.9 63.22 409.9 61.6 408.6 60.3C407.3 59 406.5 57.75 406 56.2C405.5 54.65 405.52 52.73 405.6 51Z" fill="#d42a1c" stroke="#d42a1c" stroke-width="2" stroke-linejoin="round" filter="url(#bl2)" opacity="0.85"/>
<path d="M405.6 51C405.68 49.27 405.83 47.53 406.5 45.8C407.17 44.07 408.22 42.17 409.6 40.6C410.98 39.03 413.07 37.35 414.8 36.4C416.53 35.45 418.45 35.42 420 34.9C421.55 34.38 422.55 33.48 424.1 33.3C425.65 33.12 427.82 33.28 429.3 33.8C430.78 34.32 432.03 35.27 433 36.4C433.97 37.53 434.5 39.2 435.1 40.6C435.7 42 435.83 43.77 436.6 44.8C437.37 45.83 438.48 45.77 439.7 46.8C440.92 47.83 442.6 49.62 443.9 51C445.2 52.38 446.82 53.72 447.5 55.1C448.18 56.48 448.25 58.08 448 59.3C447.75 60.52 447.2 61.53 446 62.4C444.8 63.27 442.53 64.07 440.8 64.5C439.07 64.93 437.52 64.83 435.6 65C433.68 65.17 431.03 65.67 429.3 65.5C427.57 65.33 426.75 64.08 425.2 64C423.65 63.92 421.9 65 420 65C418.1 65 415.7 64.78 413.8 64C411.9 63.22 409.9 61.6 408.6 60.3C407.3 59 406.5 57.75 406 56.2C405.5 54.65 405.52 52.73 405.6 51Z" fill="url(#lg0)" stroke="#d42a1c" stroke-width="0.6" stroke-opacity="0.6"/>
<clipPath id="lc0"><path d="M405.6 51C405.68 49.27 405.83 47.53 406.5 45.8C407.17 44.07 408.22 42.17 409.6 40.6C410.98 39.03 413.07 37.35 414.8 36.4C416.53 35.45 418.45 35.42 420 34.9C421.55 34.38 422.55 33.48 424.1 33.3C425.65 33.12 427.82 33.28 429.3 33.8C430.78 34.32 432.03 35.27 433 36.4C433.97 37.53 434.5 39.2 435.1 40.6C435.7 42 435.83 43.77 436.6 44.8C437.37 45.83 438.48 45.77 439.7 46.8C440.92 47.83 442.6 49.62 443.9 51C445.2 52.38 446.82 53.72 447.5 55.1C448.18 56.48 448.25 58.08 448 59.3C447.75 60.52 447.2 61.53 446 62.4C444.8 63.27 442.53 64.07 440.8 64.5C439.07 64.93 437.52 64.83 435.6 65C433.68 65.17 431.03 65.67 429.3 65.5C427.57 65.33 426.75 64.08 425.2 64C423.65 63.92 421.9 65 420 65C418.1 65 415.7 64.78 413.8 64C411.9 63.22 409.9 61.6 408.6 60.3C407.3 59 406.5 57.75 406 56.2C405.5 54.65 405.52 52.73 405.6 51Z"/></clipPath>
<g clip-path="url(#lc0)"><ellipse cx="439" cy="58" rx="8" ry="4.2" fill="#d88a78" opacity="0.45" filter="url(#bl3)"/><ellipse cx="425" cy="40" rx="7" ry="4" fill="#d08070" opacity="0.4" filter="url(#bl3)"/><ellipse cx="414" cy="53" rx="5" ry="7" fill="#a84a3c" opacity="0.35" filter="url(#bl3)"/></g>
<path d="M474 56.2C473.83 53.95 474.4 51.82 475.1 50C475.8 48.18 476.73 46.52 478.2 45.3C479.67 44.08 482.68 44 483.9 42.7C485.12 41.4 484.63 39.15 485.5 37.5C486.37 35.85 487.63 33.85 489.1 32.8C490.57 31.75 492.57 31.37 494.3 31.2C496.03 31.03 498.03 31.27 499.5 31.8C500.97 32.33 502.4 33.1 503.1 34.4C503.8 35.7 503.08 38.13 503.7 39.6C504.32 41.07 505.6 41.82 506.8 43.2C508 44.58 510.03 46.25 510.9 47.9C511.77 49.55 512.17 51.37 512 53.1C511.83 54.83 510.95 57 509.9 58.3C508.85 59.6 506.92 60.03 505.7 60.9C504.48 61.77 503.8 62.55 502.6 63.5C501.4 64.45 500.05 65.65 498.5 66.6C496.95 67.55 495.22 68.68 493.3 69.2C491.38 69.72 489.08 69.97 487 69.7C484.92 69.43 482.62 68.63 480.8 67.6C478.98 66.57 477.23 65.4 476.1 63.5C474.97 61.6 474.17 58.45 474 56.2Z" fill="#d42016" stroke="#d42016" stroke-width="2.2" stroke-linejoin="round" filter="url(#bl2)" opacity="0.85"/>
<path d="M474 56.2C473.83 53.95 474.4 51.82 475.1 50C475.8 48.18 476.73 46.52 478.2 45.3C479.67 44.08 482.68 44 483.9 42.7C485.12 41.4 484.63 39.15 485.5 37.5C486.37 35.85 487.63 33.85 489.1 32.8C490.57 31.75 492.57 31.37 494.3 31.2C496.03 31.03 498.03 31.27 499.5 31.8C500.97 32.33 502.4 33.1 503.1 34.4C503.8 35.7 503.08 38.13 503.7 39.6C504.32 41.07 505.6 41.82 506.8 43.2C508 44.58 510.03 46.25 510.9 47.9C511.77 49.55 512.17 51.37 512 53.1C511.83 54.83 510.95 57 509.9 58.3C508.85 59.6 506.92 60.03 505.7 60.9C504.48 61.77 503.8 62.55 502.6 63.5C501.4 64.45 500.05 65.65 498.5 66.6C496.95 67.55 495.22 68.68 493.3 69.2C491.38 69.72 489.08 69.97 487 69.7C484.92 69.43 482.62 68.63 480.8 67.6C478.98 66.57 477.23 65.4 476.1 63.5C474.97 61.6 474.17 58.45 474 56.2Z" fill="url(#lg1)" stroke="#d42016" stroke-width="0.6" stroke-opacity="0.6"/>
<clipPath id="lc1"><path d="M474 56.2C473.83 53.95 474.4 51.82 475.1 50C475.8 48.18 476.73 46.52 478.2 45.3C479.67 44.08 482.68 44 483.9 42.7C485.12 41.4 484.63 39.15 485.5 37.5C486.37 35.85 487.63 33.85 489.1 32.8C490.57 31.75 492.57 31.37 494.3 31.2C496.03 31.03 498.03 31.27 499.5 31.8C500.97 32.33 502.4 33.1 503.1 34.4C503.8 35.7 503.08 38.13 503.7 39.6C504.32 41.07 505.6 41.82 506.8 43.2C508 44.58 510.03 46.25 510.9 47.9C511.77 49.55 512.17 51.37 512 53.1C511.83 54.83 510.95 57 509.9 58.3C508.85 59.6 506.92 60.03 505.7 60.9C504.48 61.77 503.8 62.55 502.6 63.5C501.4 64.45 500.05 65.65 498.5 66.6C496.95 67.55 495.22 68.68 493.3 69.2C491.38 69.72 489.08 69.97 487 69.7C484.92 69.43 482.62 68.63 480.8 67.6C478.98 66.57 477.23 65.4 476.1 63.5C474.97 61.6 474.17 58.45 474 56.2Z"/></clipPath>
<g clip-path="url(#lc1)"><ellipse cx="495" cy="37" rx="6" ry="3.5" fill="#cc6a56" opacity="0.4" filter="url(#bl3)"/><ellipse cx="505" cy="52" rx="5" ry="6" fill="#c46450" opacity="0.35" filter="url(#bl3)"/><ellipse cx="482" cy="58" rx="5" ry="7" fill="#a84434" opacity="0.3" filter="url(#bl3)"/></g>
<path d="M540 46.8C540.08 44.72 540.47 42.9 541.6 41.6C542.73 40.3 545.58 40.38 546.8 39C548.02 37.62 547.87 34.85 548.9 33.3C549.93 31.75 551.45 30.48 553 29.7C554.55 28.92 556.55 28.52 558.2 28.6C559.85 28.68 561.77 29.23 562.9 30.2C564.03 31.17 564.22 33.53 565 34.4C565.78 35.27 566.3 34.97 567.6 35.4C568.9 35.83 571.58 35.97 572.8 37C574.02 38.03 574.65 40.05 574.9 41.6C575.15 43.15 573.78 44.9 574.3 46.3C574.82 47.7 577.05 48.53 578 50C578.95 51.47 579.92 53.38 580 55.1C580.08 56.82 579.53 58.65 578.5 60.3C577.47 61.95 575.62 63.78 573.8 65C571.98 66.22 569.68 67.33 567.6 67.6C565.52 67.87 563.3 67.2 561.3 66.6C559.3 66 557.23 65.05 555.6 64C553.97 62.95 552.45 60.38 551.5 60.3C550.55 60.22 550.77 62.45 549.9 63.5C549.03 64.55 547.33 66.27 546.3 66.6C545.27 66.93 544.32 66.55 543.7 65.5C543.08 64.45 543.03 62.2 542.6 60.3C542.17 58.4 541.53 56.35 541.1 54.1C540.67 51.85 539.92 48.88 540 46.8Z" fill="#b85a40" stroke="#b85a40" stroke-width="0.9" stroke-linejoin="round" filter="url(#bl2)" opacity="0.85"/>
<path d="M540 46.8C540.08 44.72 540.47 42.9 541.6 41.6C542.73 40.3 545.58 40.38 546.8 39C548.02 37.62 547.87 34.85 548.9 33.3C549.93 31.75 551.45 30.48 553 29.7C554.55 28.92 556.55 28.52 558.2 28.6C559.85 28.68 561.77 29.23 562.9 30.2C564.03 31.17 564.22 33.53 565 34.4C565.78 35.27 566.3 34.97 567.6 35.4C568.9 35.83 571.58 35.97 572.8 37C574.02 38.03 574.65 40.05 574.9 41.6C575.15 43.15 573.78 44.9 574.3 46.3C574.82 47.7 577.05 48.53 578 50C578.95 51.47 579.92 53.38 580 55.1C580.08 56.82 579.53 58.65 578.5 60.3C577.47 61.95 575.62 63.78 573.8 65C571.98 66.22 569.68 67.33 567.6 67.6C565.52 67.87 563.3 67.2 561.3 66.6C559.3 66 557.23 65.05 555.6 64C553.97 62.95 552.45 60.38 551.5 60.3C550.55 60.22 550.77 62.45 549.9 63.5C549.03 64.55 547.33 66.27 546.3 66.6C545.27 66.93 544.32 66.55 543.7 65.5C543.08 64.45 543.03 62.2 542.6 60.3C542.17 58.4 541.53 56.35 541.1 54.1C540.67 51.85 539.92 48.88 540 46.8Z" fill="url(#lg2)" stroke="#b85a40" stroke-width="0.6" stroke-opacity="0.6"/>
<clipPath id="lc2"><path d="M540 46.8C540.08 44.72 540.47 42.9 541.6 41.6C542.73 40.3 545.58 40.38 546.8 39C548.02 37.62 547.87 34.85 548.9 33.3C549.93 31.75 551.45 30.48 553 29.7C554.55 28.92 556.55 28.52 558.2 28.6C559.85 28.68 561.77 29.23 562.9 30.2C564.03 31.17 564.22 33.53 565 34.4C565.78 35.27 566.3 34.97 567.6 35.4C568.9 35.83 571.58 35.97 572.8 37C574.02 38.03 574.65 40.05 574.9 41.6C575.15 43.15 573.78 44.9 574.3 46.3C574.82 47.7 577.05 48.53 578 50C578.95 51.47 579.92 53.38 580 55.1C580.08 56.82 579.53 58.65 578.5 60.3C577.47 61.95 575.62 63.78 573.8 65C571.98 66.22 569.68 67.33 567.6 67.6C565.52 67.87 563.3 67.2 561.3 66.6C559.3 66 557.23 65.05 555.6 64C553.97 62.95 552.45 60.38 551.5 60.3C550.55 60.22 550.77 62.45 549.9 63.5C549.03 64.55 547.33 66.27 546.3 66.6C545.27 66.93 544.32 66.55 543.7 65.5C543.08 64.45 543.03 62.2 542.6 60.3C542.17 58.4 541.53 56.35 541.1 54.1C540.67 51.85 539.92 48.88 540 46.8Z"/></clipPath>
<g clip-path="url(#lc2)"><ellipse cx="567" cy="57" rx="9" ry="5" fill="#d49a84" opacity="0.45" filter="url(#bl3)"/><ellipse cx="556" cy="35" rx="5" ry="3.5" fill="#d09680" opacity="0.4" filter="url(#bl3)"/><ellipse cx="546" cy="55" rx="3" ry="7" fill="#b87860" opacity="0.35" filter="url(#bl3)"/></g>
<path d="M608.6 48.9C608.35 46.73 609.33 44.93 610.2 43.2C611.07 41.47 612.17 39.88 613.8 38.5C615.43 37.12 617.92 35.85 620 34.9C622.08 33.95 624.22 33.23 626.3 32.8C628.38 32.37 630.6 31.95 632.5 32.3C634.4 32.65 635.97 34.03 637.7 34.9C639.43 35.77 641.52 36.55 642.9 37.5C644.28 38.45 645.4 39.22 646 40.6C646.6 41.98 646.67 43.9 646.5 45.8C646.33 47.7 645.77 50.1 645 52C644.23 53.9 643.28 55.82 641.9 57.2C640.52 58.58 638.62 59.43 636.7 60.3C634.78 61.17 632.67 62.13 630.4 62.4C628.13 62.67 625.35 62.25 623.1 61.9C620.85 61.55 618.8 61.25 616.9 60.3C615 59.35 613.08 58.1 611.7 56.2C610.32 54.3 608.85 51.07 608.6 48.9Z" fill="#dc2a1c" stroke="#dc2a1c" stroke-width="2" stroke-linejoin="round" filter="url(#bl2)" opacity="0.85"/>
<path d="M608.6 48.9C608.35 46.73 609.33 44.93 610.2 43.2C611.07 41.47 612.17 39.88 613.8 38.5C615.43 37.12 617.92 35.85 620 34.9C622.08 33.95 624.22 33.23 626.3 32.8C628.38 32.37 630.6 31.95 632.5 32.3C634.4 32.65 635.97 34.03 637.7 34.9C639.43 35.77 641.52 36.55 642.9 37.5C644.28 38.45 645.4 39.22 646 40.6C646.6 41.98 646.67 43.9 646.5 45.8C646.33 47.7 645.77 50.1 645 52C644.23 53.9 643.28 55.82 641.9 57.2C640.52 58.58 638.62 59.43 636.7 60.3C634.78 61.17 632.67 62.13 630.4 62.4C628.13 62.67 625.35 62.25 623.1 61.9C620.85 61.55 618.8 61.25 616.9 60.3C615 59.35 613.08 58.1 611.7 56.2C610.32 54.3 608.85 51.07 608.6 48.9Z" fill="url(#lg3)" stroke="#dc2a1c" stroke-width="0.6" stroke-opacity="0.6"/>
<clipPath id="lc3"><path d="M608.6 48.9C608.35 46.73 609.33 44.93 610.2 43.2C611.07 41.47 612.17 39.88 613.8 38.5C615.43 37.12 617.92 35.85 620 34.9C622.08 33.95 624.22 33.23 626.3 32.8C628.38 32.37 630.6 31.95 632.5 32.3C634.4 32.65 635.97 34.03 637.7 34.9C639.43 35.77 641.52 36.55 642.9 37.5C644.28 38.45 645.4 39.22 646 40.6C646.6 41.98 646.67 43.9 646.5 45.8C646.33 47.7 645.77 50.1 645 52C644.23 53.9 643.28 55.82 641.9 57.2C640.52 58.58 638.62 59.43 636.7 60.3C634.78 61.17 632.67 62.13 630.4 62.4C628.13 62.67 625.35 62.25 623.1 61.9C620.85 61.55 618.8 61.25 616.9 60.3C615 59.35 613.08 58.1 611.7 56.2C610.32 54.3 608.85 51.07 608.6 48.9Z"/></clipPath>
<g clip-path="url(#lc3)"><ellipse cx="620" cy="44" rx="8" ry="6" fill="#bc6662" opacity="0.35" filter="url(#bl3)"/><ellipse cx="640" cy="48" rx="4" ry="8" fill="#9a4444" opacity="0.3" filter="url(#bl3)"/></g>
<path d="M420 35.5 C423 41 425 47 426 54 M426 55 C431 52 436 50 440 48 M413 44 C417 46 421 48 424 50 M426 56 C425 59 425 62 425.5 64" stroke="#5a1c18" stroke-width="0.7" fill="none" opacity="0.55" filter="url(#bl2)"/>
<path d="M486 43 C490 45 494 48 494 54 C494 59 493 63 491 68 M495 47 C499 45 502 43 503.5 40 M484 43 C487 41 491 40 494 41" stroke="#5a1c18" stroke-width="0.7" fill="none" opacity="0.55" filter="url(#bl2)"/>
<path d="M549 39 C552 43 556 46 560 49 C558 53 555 56 552 60 M560 49 C564 46 567 44 569 40 M565 35 C566 39 566 43 565 46" stroke="#5a1c18" stroke-width="0.7" fill="none" opacity="0.55" filter="url(#bl2)"/>
<path d="M637 35 C641 40 642 46 639 53 C637 56 634 58 631 60" stroke="#5a1c18" stroke-width="0.7" fill="none" opacity="0.55" filter="url(#bl2)"/>
<ellipse cx="426.5" cy="55.5" rx="1.8" ry="2.4" fill="#3a0c0c" opacity="0.9" filter="url(#bl2)"/>
<ellipse cx="413.5" cy="42.5" rx="1.1" ry="1" fill="#6a1a1a" opacity="0.8" filter="url(#bl2)"/>
<ellipse cx="421" cy="38" rx="0.9" ry="0.8" fill="#7a2222" opacity="0.7" filter="url(#bl2)"/>
<ellipse cx="491" cy="46" rx="1.2" ry="1.8" fill="#4a1210" opacity="0.8" filter="url(#bl2)"/>
<ellipse cx="498" cy="36" rx="0.9" ry="0.8" fill="#6a1a14" opacity="0.7" filter="url(#bl2)"/>
<ellipse cx="557" cy="51" rx="1.4" ry="1.1" fill="#a02a1a" opacity="0.8" filter="url(#bl2)"/>
<ellipse cx="555" cy="47" rx="1" ry="0.8" fill="#b03a2a" opacity="0.7" filter="url(#bl2)"/>
<ellipse cx="628.4" cy="52.6" rx="3.2" ry="3.8" fill="#3a0a0a" opacity="0.9" filter="url(#bl2)"/>
<circle cx="416" cy="46" r="0.7" fill="#ffffff" opacity="0.85"/>
<circle cx="419" cy="52" r="0.5" fill="#ffffff" opacity="0.85"/>
<circle cx="428" cy="44" r="0.6" fill="#ffffff" opacity="0.85"/>
<circle cx="411" cy="49" r="0.5" fill="#ffffff" opacity="0.85"/>
<circle cx="431" cy="40" r="0.5" fill="#ffffff" opacity="0.85"/>
<circle cx="437" cy="58" r="0.5" fill="#ffffff" opacity="0.85"/>
<circle cx="483" cy="55" r="0.7" fill="#ffffff" opacity="0.85"/>
<circle cx="488" cy="50" r="0.5" fill="#ffffff" opacity="0.85"/>
<circle cx="497" cy="44" r="0.6" fill="#ffffff" opacity="0.85"/>
<circle cx="481" cy="60" r="0.5" fill="#ffffff" opacity="0.85"/>
<circle cx="500" cy="38" r="0.5" fill="#ffffff" opacity="0.85"/>
<circle cx="505" cy="52" r="0.5" fill="#ffffff" opacity="0.85"/>
<circle cx="559" cy="49" r="0.6" fill="#ffffff" opacity="0.85"/>
<circle cx="565" cy="52" r="0.7" fill="#ffffff" opacity="0.85"/>
<circle cx="570" cy="56" r="0.5" fill="#ffffff" opacity="0.85"/>
<circle cx="560" cy="60" r="0.5" fill="#ffffff" opacity="0.85"/>
<circle cx="563" cy="41" r="0.5" fill="#ffffff" opacity="0.85"/>
<circle cx="548" cy="55" r="0.5" fill="#ffffff" opacity="0.85"/>
<circle cx="620" cy="44" r="0.6" fill="#ffffff" opacity="0.85"/>
<circle cx="626" cy="41" r="0.6" fill="#ffffff" opacity="0.85"/>
<circle cx="635" cy="46" r="0.5" fill="#ffffff" opacity="0.85"/>
<circle cx="624" cy="54" r="0.5" fill="#ffffff" opacity="0.85"/>
<circle cx="618" cy="55" r="0.5" fill="#ffffff" opacity="0.85"/>
<circle cx="631" cy="39" r="0.5" fill="#ffffff" opacity="0.85"/>
<circle cx="640" cy="50" r="0.4" fill="#ffffff" opacity="0.85"/>
<text x="1.2" y="351.4" font-family="Liberation Serif" font-size="12.8" font-weight="bold" text-anchor="start" fill="#111" stroke="#111" stroke-width="0.22">E</text>
<text x="29.9" y="373.7" font-family="Liberation Serif" font-size="7.1" font-weight="bold" text-anchor="end" fill="#111" stroke="#111" stroke-width="0.22">HKO</text>
<rect x="42.9" y="370.6" width="4.8" height="1.35" fill="#111"/>
<rect x="66" y="370.6" width="4.8" height="1.35" fill="#111"/>
<text x="92.9" y="374" font-family="Liberation Serif" font-size="8.2" font-weight="bold" text-anchor="middle" fill="#111" stroke="#111" stroke-width="0.45">+</text>
<text x="117.4" y="374" font-family="Liberation Serif" font-size="8.2" font-weight="bold" text-anchor="middle" fill="#111" stroke="#111" stroke-width="0.45">+</text>
<text x="29.9" y="383.6" font-family="Liberation Serif" font-size="7.1" font-weight="bold" text-anchor="end" fill="#111" stroke="#111" stroke-width="0.22">HFD</text>
<text x="45.3" y="383.9" font-family="Liberation Serif" font-size="8.2" font-weight="bold" text-anchor="middle" fill="#111" stroke="#111" stroke-width="0.45">+</text>
<text x="68.4" y="383.9" font-family="Liberation Serif" font-size="8.2" font-weight="bold" text-anchor="middle" fill="#111" stroke="#111" stroke-width="0.45">+</text>
<text x="92.9" y="383.9" font-family="Liberation Serif" font-size="8.2" font-weight="bold" text-anchor="middle" fill="#111" stroke="#111" stroke-width="0.45">+</text>
<text x="117.4" y="383.9" font-family="Liberation Serif" font-size="8.2" font-weight="bold" text-anchor="middle" fill="#111" stroke="#111" stroke-width="0.45">+</text>
<text x="29.9" y="394.4" font-family="Liberation Serif" font-size="7.1" font-weight="bold" text-anchor="end" fill="#111" stroke="#111" stroke-width="0.22">PF429242</text>
<rect x="42.9" y="391.3" width="4.8" height="1.35" fill="#111"/>
<text x="68.4" y="394.7" font-family="Liberation Serif" font-size="8.2" font-weight="bold" text-anchor="middle" fill="#111" stroke="#111" stroke-width="0.45">+</text>
<rect x="90.5" y="391.3" width="4.8" height="1.35" fill="#111"/>
<text x="117.4" y="394.7" font-family="Liberation Serif" font-size="8.2" font-weight="bold" text-anchor="middle" fill="#111" stroke="#111" stroke-width="0.45">+</text>
<path d="M36.2 397.3H54.6" stroke="#222" stroke-width="0.8"/>
<path d="M59.2 397.3H77.3" stroke="#222" stroke-width="0.8"/>
<path d="M83.8 397.3H102.2" stroke="#222" stroke-width="0.8"/>
<path d="M108.3 397.3H127.1" stroke="#222" stroke-width="0.8"/>
<rect x="31.1" y="402.3" width="99.8" height="14.3" fill="#bcbcda" stroke="#26263a" stroke-width="1.0"/>
<rect x="32.8" y="405.05" width="12" height="7.6" rx="2.6" fill="#1a1a44" opacity="0.3" filter="url(#bl3)"/>
<rect x="34.3" y="406.25" width="9" height="5.2" rx="2.36" fill="#0e0e28" opacity="0.85" filter="url(#bl4)"/>
<rect x="45.4" y="405.15" width="11.6" height="7.4" rx="2.5" fill="#1a1a44" opacity="0.29" filter="url(#bl3)"/>
<rect x="46.9" y="406.35" width="8.6" height="5" rx="2.27" fill="#0e0e28" opacity="0.82" filter="url(#bl4)"/>
<rect x="57.5" y="405.55" width="11.6" height="7" rx="2.3" fill="#1a1a44" opacity="0.27" filter="url(#bl3)"/>
<rect x="59" y="406.75" width="8.6" height="4.6" rx="2.09" fill="#0e0e28" opacity="0.76" filter="url(#bl4)"/>
<rect x="69.1" y="405.55" width="11.6" height="7" rx="2.3" fill="#1a1a44" opacity="0.28" filter="url(#bl3)"/>
<rect x="70.6" y="406.75" width="8.6" height="4.6" rx="2.09" fill="#0e0e28" opacity="0.8" filter="url(#bl4)"/>
<rect x="80.9" y="404.45" width="13.4" height="8.8" rx="3.2" fill="#1a1a44" opacity="0.35" filter="url(#bl3)"/>
<rect x="82.4" y="405.65" width="10.4" height="6.4" rx="2.91" fill="#0e0e28" opacity="1" filter="url(#bl4)"/>
<rect x="92.9" y="404.75" width="12.6" height="8.2" rx="2.9" fill="#1a1a44" opacity="0.35" filter="url(#bl3)"/>
<rect x="94.4" y="405.95" width="9.6" height="5.8" rx="2.64" fill="#0e0e28" opacity="1" filter="url(#bl4)"/>
<rect x="105.3" y="406.45" width="10.6" height="6" rx="1.8" fill="#1a1a44" opacity="0.18" filter="url(#bl3)"/>
<rect x="106.8" y="407.65" width="7.6" height="3.6" rx="1.64" fill="#0e0e28" opacity="0.51" filter="url(#bl4)"/>
<rect x="117.6" y="406.65" width="10.6" height="6" rx="1.8" fill="#1a1a44" opacity="0.16" filter="url(#bl3)"/>
<rect x="119.1" y="407.85" width="7.6" height="3.6" rx="1.64" fill="#0e0e28" opacity="0.46" filter="url(#bl4)"/>
<text x="29.9" y="411.6" font-family="Liberation Serif" font-size="7.1" font-weight="bold" text-anchor="end" fill="#111" stroke="#111" stroke-width="0.22">FASN</text>
<text x="134.6" y="411.9" font-family="Liberation Serif" font-size="7.1" font-weight="bold" text-anchor="start" fill="#111" stroke="#111" stroke-width="0.22">273kDa</text>
<rect x="31.1" y="422.8" width="99.8" height="13.9" fill="#c6c6e0" stroke="#26263a" stroke-width="1.0"/>
<rect x="32.8" y="425.95" width="12" height="5.2" rx="1.4" fill="#1a1a44" opacity="0.34" filter="url(#bl3)"/>
<rect x="34.3" y="427.15" width="9" height="2.8" rx="1.27" fill="#0e0e28" opacity="0.98" filter="url(#bl4)"/>
<rect x="45.5" y="426.25" width="11.4" height="5" rx="1.3" fill="#1a1a44" opacity="0.33" filter="url(#bl3)"/>
<rect x="47" y="427.45" width="8.4" height="2.6" rx="1.18" fill="#0e0e28" opacity="0.94" filter="url(#bl4)"/>
<rect x="58" y="426.95" width="10.6" height="4.4" rx="1" fill="#1a1a44" opacity="0.21" filter="url(#bl3)"/>
<rect x="59.5" y="428.15" width="7.6" height="2" rx="0.91" fill="#0e0e28" opacity="0.6" filter="url(#bl4)"/>
<rect x="69.2" y="426.65" width="11.4" height="5" rx="1.3" fill="#1a1a44" opacity="0.3" filter="url(#bl3)"/>
<rect x="70.7" y="427.85" width="8.4" height="2.6" rx="1.18" fill="#0e0e28" opacity="0.87" filter="url(#bl4)"/>
<rect x="80.6" y="426.05" width="14" height="6.2" rx="1.9" fill="#1a1a44" opacity="0.35" filter="url(#bl3)"/>
<rect x="82.1" y="427.25" width="11" height="3.8" rx="1.73" fill="#0e0e28" opacity="1" filter="url(#bl4)"/>
<rect x="92.4" y="426.05" width="13.6" height="6.2" rx="1.9" fill="#1a1a44" opacity="0.35" filter="url(#bl3)"/>
<rect x="93.9" y="427.25" width="10.6" height="3.8" rx="1.73" fill="#0e0e28" opacity="1" filter="url(#bl4)"/>
<rect x="105.1" y="426.75" width="11" height="5.2" rx="1.4" fill="#1a1a44" opacity="0.32" filter="url(#bl3)"/>
<rect x="106.6" y="427.95" width="8" height="2.8" rx="1.27" fill="#0e0e28" opacity="0.92" filter="url(#bl4)"/>
<rect x="117.7" y="427.45" width="10.4" height="4.6" rx="1.1" fill="#1a1a44" opacity="0.25" filter="url(#bl3)"/>
<rect x="119.2" y="428.65" width="7.4" height="2.2" rx="1" fill="#0e0e28" opacity="0.71" filter="url(#bl4)"/>
<text x="29.9" y="431.8" font-family="Liberation Serif" font-size="7.1" font-weight="bold" text-anchor="end" fill="#111" stroke="#111" stroke-width="0.22">SREBP1</text>
<text x="134.6" y="432.1" font-family="Liberation Serif" font-size="7.1" font-weight="bold" text-anchor="start" fill="#111" stroke="#111" stroke-width="0.22">122KDa</text>
<rect x="30.6" y="443.9" width="100.6" height="14.7" fill="#bebedc" stroke="#26263a" stroke-width="1.0"/>
<rect x="33.1" y="448.65" width="11.4" height="6" rx="1.8" fill="#1a1a44" opacity="0.25" filter="url(#bl3)"/>
<rect x="34.6" y="449.85" width="8.4" height="3.6" rx="1.64" fill="#0e0e28" opacity="0.71" filter="url(#bl4)"/>
<rect x="45.5" y="448.05" width="11.4" height="6" rx="1.8" fill="#1a1a44" opacity="0.25" filter="url(#bl3)"/>
<rect x="47" y="449.25" width="8.4" height="3.6" rx="1.64" fill="#0e0e28" opacity="0.73" filter="url(#bl4)"/>
<rect x="57.8" y="447.95" width="11" height="5.8" rx="1.7" fill="#1a1a44" opacity="0.22" filter="url(#bl3)"/>
<rect x="59.3" y="449.15" width="8" height="3.4" rx="1.55" fill="#0e0e28" opacity="0.64" filter="url(#bl4)"/>
<rect x="69.4" y="447.95" width="11" height="5.8" rx="1.7" fill="#1a1a44" opacity="0.2" filter="url(#bl3)"/>
<rect x="70.9" y="449.15" width="8" height="3.4" rx="1.55" fill="#0e0e28" opacity="0.58" filter="url(#bl4)"/>
<rect x="81.9" y="447.85" width="11.4" height="6" rx="1.8" fill="#1a1a44" opacity="0.24" filter="url(#bl3)"/>
<rect x="83.4" y="449.05" width="8.4" height="3.6" rx="1.64" fill="#0e0e28" opacity="0.67" filter="url(#bl4)"/>
<rect x="93" y="446.95" width="12.4" height="7" rx="2.3" fill="#1a1a44" opacity="0.35" filter="url(#bl3)"/>
<rect x="94.5" y="448.15" width="9.4" height="4.6" rx="2.09" fill="#0e0e28" opacity="1" filter="url(#bl4)"/>
<rect x="105.1" y="447.45" width="11" height="5.6" rx="1.6" fill="#1a1a44" opacity="0.19" filter="url(#bl3)"/>
<rect x="106.6" y="448.65" width="8" height="3.2" rx="1.45" fill="#0e0e28" opacity="0.55" filter="url(#bl4)"/>
<rect x="117.4" y="447.25" width="11" height="5.6" rx="1.6" fill="#1a1a44" opacity="0.19" filter="url(#bl3)"/>
<rect x="118.9" y="448.45" width="8" height="3.2" rx="1.45" fill="#0e0e28" opacity="0.55" filter="url(#bl4)"/>
<text x="29.9" y="453.4" font-family="Liberation Serif" font-size="7.1" font-weight="bold" text-anchor="end" fill="#111" stroke="#111" stroke-width="0.22">SCD1</text>
<text x="134.6" y="453.7" font-family="Liberation Serif" font-size="7.1" font-weight="bold" text-anchor="start" fill="#111" stroke="#111" stroke-width="0.22">37kDa</text>
<rect x="31.4" y="464" width="98.5" height="12.4" fill="#a8a8c8" stroke="#26263a" stroke-width="1.0"/>
<rect x="32.6" y="466.6" width="12.4" height="6" rx="1.8" fill="#1a1a44" opacity="0.32" filter="url(#bl3)"/>
<rect x="34.1" y="467.8" width="9.4" height="3.6" rx="1.64" fill="#0e0e28" opacity="0.92" filter="url(#bl4)"/>
<rect x="45.2" y="466.6" width="12" height="6" rx="1.8" fill="#1a1a44" opacity="0.32" filter="url(#bl3)"/>
<rect x="46.7" y="467.8" width="9" height="3.6" rx="1.64" fill="#0e0e28" opacity="0.91" filter="url(#bl4)"/>
<rect x="57.8" y="467.2" width="11" height="5.4" rx="1.5" fill="#1a1a44" opacity="0.24" filter="url(#bl3)"/>
<rect x="59.3" y="468.4" width="8" height="3" rx="1.36" fill="#0e0e28" opacity="0.69" filter="url(#bl4)"/>
<rect x="69.1" y="466.7" width="11.6" height="5.8" rx="1.7" fill="#1a1a44" opacity="0.29" filter="url(#bl3)"/>
<rect x="70.6" y="467.9" width="8.6" height="3.4" rx="1.55" fill="#0e0e28" opacity="0.82" filter="url(#bl4)"/>
<rect x="80.6" y="466.3" width="14" height="7.8" rx="2.7" fill="#1a1a44" opacity="0.35" filter="url(#bl3)"/>
<rect x="82.1" y="467.5" width="11" height="5.4" rx="2.45" fill="#0e0e28" opacity="1" filter="url(#bl4)"/>
<rect x="93" y="466.5" width="12.4" height="6.2" rx="1.9" fill="#1a1a44" opacity="0.33" filter="url(#bl3)"/>
<rect x="94.5" y="467.7" width="9.4" height="3.8" rx="1.73" fill="#0e0e28" opacity="0.94" filter="url(#bl4)"/>
<rect x="105.3" y="467" width="10.6" height="5.2" rx="1.4" fill="#1a1a44" opacity="0.24" filter="url(#bl3)"/>
<rect x="106.8" y="468.2" width="7.6" height="2.8" rx="1.27" fill="#0e0e28" opacity="0.69" filter="url(#bl4)"/>
<rect x="117.9" y="467.8" width="10" height="4.8" rx="1.2" fill="#1a1a44" opacity="0.15" filter="url(#bl3)"/>
<rect x="119.4" y="469" width="7" height="2.4" rx="1.09" fill="#0e0e28" opacity="0.42" filter="url(#bl4)"/>
<text x="29.9" y="471.6" font-family="Liberation Serif" font-size="7.1" font-weight="bold" text-anchor="end" fill="#111" stroke="#111" stroke-width="0.22">PPARγ</text>
<text x="134.6" y="471.9" font-family="Liberation Serif" font-size="7.1" font-weight="bold" text-anchor="start" fill="#111" stroke="#111" stroke-width="0.22">58KDa</text>
<rect x="31.1" y="482.1" width="100.3" height="17.3" fill="#c4c4de" stroke="#26263a" stroke-width="1.0"/>
<rect x="32.9" y="489.8" width="11.8" height="6" rx="1.8" fill="#1a1a44" opacity="0.35" filter="url(#bl3)"/>
<rect x="34.4" y="491" width="8.8" height="3.6" rx="1.64" fill="#0e0e28" opacity="1" filter="url(#bl4)"/>
<rect x="45.9" y="489.9" width="10.6" height="5.4" rx="1.5" fill="#1a1a44" opacity="0.35" filter="url(#bl3)"/>
<rect x="47.4" y="491.1" width="7.6" height="3" rx="1.36" fill="#0e0e28" opacity="1" filter="url(#bl4)"/>
<rect x="57.4" y="489.2" width="11.8" height="6" rx="1.8" fill="#1a1a44" opacity="0.35" filter="url(#bl3)"/>
<rect x="58.9" y="490.4" width="8.8" height="3.6" rx="1.64" fill="#0e0e28" opacity="1" filter="url(#bl4)"/>
<rect x="68.7" y="487.7" width="12.4" height="6.2" rx="1.9" fill="#1a1a44" opacity="0.35" filter="url(#bl3)"/>
<rect x="70.2" y="488.9" width="9.4" height="3.8" rx="1.73" fill="#0e0e28" opacity="1" filter="url(#bl4)"/>
<rect x="82.2" y="488.9" width="10.8" height="5.4" rx="1.5" fill="#1a1a44" opacity="0.35" filter="url(#bl3)"/>
<rect x="83.7" y="490.1" width="7.8" height="3" rx="1.36" fill="#0e0e28" opacity="1" filter="url(#bl4)"/>
<rect x="93.3" y="488.9" width="11.8" height="5.8" rx="1.7" fill="#1a1a44" opacity="0.35" filter="url(#bl3)"/>
<rect x="94.8" y="490.1" width="8.8" height="3.4" rx="1.55" fill="#0e0e28" opacity="1" filter="url(#bl4)"/>
<rect x="105.3" y="488.5" width="10.6" height="5.4" rx="1.5" fill="#1a1a44" opacity="0.35" filter="url(#bl3)"/>
<rect x="106.8" y="489.7" width="7.6" height="3" rx="1.36" fill="#0e0e28" opacity="1" filter="url(#bl4)"/>
<rect x="118" y="487.3" width="9.8" height="5.8" rx="1.7" fill="#1a1a44" opacity="0.35" filter="url(#bl3)"/>
<rect x="119.5" y="488.5" width="6.8" height="3.4" rx="1.55" fill="#0e0e28" opacity="1" filter="url(#bl4)"/>
<text x="29.9" y="492.4" font-family="Liberation Serif" font-size="7.1" font-weight="bold" text-anchor="end" fill="#111" stroke="#111" stroke-width="0.22">GAPDH</text>
<text x="134.6" y="492.7" font-family="Liberation Serif" font-size="7.1" font-weight="bold" text-anchor="start" fill="#111" stroke="#111" stroke-width="0.22">36KDa</text>
</svg></body></html>
